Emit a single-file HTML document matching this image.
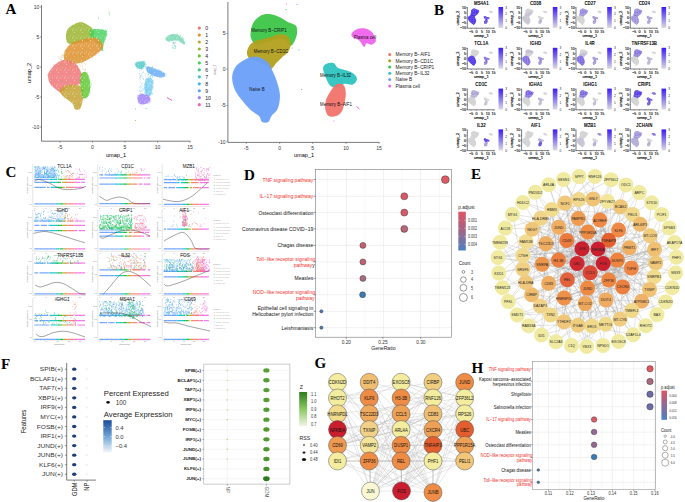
<!DOCTYPE html>
<html><head><meta charset="utf-8"><style>
html,body{margin:0;padding:0;background:#fff;width:685px;height:502px;overflow:hidden}
svg{display:block}

</style></head><body>
<svg width="685" height="502" viewBox="0 0 685 502">
<rect width="685" height="502" fill="#fff"/>
<text x="5.50" y="13.90" font-size="15" font-weight="bold" font-family="Liberation Serif" fill="#000">A</text>
<line x1="41.50" y1="5.00" x2="41.50" y2="141.20" stroke="#444" stroke-width="0.7"/>
<line x1="41.50" y1="141.20" x2="190.40" y2="141.20" stroke="#444" stroke-width="0.7"/>
<line x1="40.00" y1="7.00" x2="41.50" y2="7.00" stroke="#444" stroke-width="0.5"/>
<text x="39.20" y="8.80" font-size="5" text-anchor="end" fill="#333" font-family="Liberation Sans">10</text>
<line x1="40.00" y1="37.00" x2="41.50" y2="37.00" stroke="#444" stroke-width="0.5"/>
<text x="39.20" y="38.80" font-size="5" text-anchor="end" fill="#333" font-family="Liberation Sans">5</text>
<line x1="40.00" y1="67.00" x2="41.50" y2="67.00" stroke="#444" stroke-width="0.5"/>
<text x="39.20" y="68.80" font-size="5" text-anchor="end" fill="#333" font-family="Liberation Sans">0</text>
<line x1="40.00" y1="97.00" x2="41.50" y2="97.00" stroke="#444" stroke-width="0.5"/>
<text x="39.20" y="98.80" font-size="5" text-anchor="end" fill="#333" font-family="Liberation Sans">-5</text>
<line x1="40.00" y1="127.00" x2="41.50" y2="127.00" stroke="#444" stroke-width="0.5"/>
<text x="39.20" y="128.80" font-size="5" text-anchor="end" fill="#333" font-family="Liberation Sans">-10</text>
<line x1="60.00" y1="141.20" x2="60.00" y2="142.70" stroke="#444" stroke-width="0.5"/>
<text x="60.00" y="149.10" font-size="5" text-anchor="middle" fill="#333" font-family="Liberation Sans">-5</text>
<line x1="92.50" y1="141.20" x2="92.50" y2="142.70" stroke="#444" stroke-width="0.5"/>
<text x="92.50" y="149.10" font-size="5" text-anchor="middle" fill="#333" font-family="Liberation Sans">0</text>
<line x1="125.00" y1="141.20" x2="125.00" y2="142.70" stroke="#444" stroke-width="0.5"/>
<text x="125.00" y="149.10" font-size="5" text-anchor="middle" fill="#333" font-family="Liberation Sans">5</text>
<line x1="157.50" y1="141.20" x2="157.50" y2="142.70" stroke="#444" stroke-width="0.5"/>
<text x="157.50" y="149.10" font-size="5" text-anchor="middle" fill="#333" font-family="Liberation Sans">10</text>
<line x1="190.00" y1="141.20" x2="190.00" y2="142.70" stroke="#444" stroke-width="0.5"/>
<text x="190.00" y="149.10" font-size="5" text-anchor="middle" fill="#333" font-family="Liberation Sans">15</text>
<text x="116.00" y="156.52" font-size="5.6" text-anchor="middle" fill="#000" font-family="Liberation Sans">umap_1</text>
<text x="28.80" y="75.02" font-size="5.6" text-anchor="middle" fill="#000" font-family="Liberation Sans" transform="rotate(-90 28.80 73.00)">umap_2</text>
<defs><pattern id="sp" width="8" height="8" patternUnits="userSpaceOnUse"><g fill="#fff" opacity="0.8"><circle cx="1.90" cy="4.35" r="0.32"/><circle cx="4.83" cy="5.01" r="0.26"/><circle cx="0.11" cy="6.70" r="0.30"/><circle cx="1.87" cy="7.97" r="0.34"/><circle cx="6.69" cy="3.81" r="0.38"/><circle cx="1.20" cy="5.08" r="0.42"/><circle cx="4.19" cy="5.93" r="0.38"/><circle cx="0.51" cy="6.07" r="0.37"/><circle cx="2.41" cy="0.25" r="0.42"/></g></pattern></defs>
<path d="M66.51,31.79C67.26,29.28 68.76,27.57 71.08,25.93C73.40,24.30 77.71,22.20 80.42,22.00C83.13,21.80 85.23,23.51 87.34,24.75C89.44,26.00 91.92,27.53 93.06,29.47C94.20,31.42 94.76,34.48 94.19,36.42C93.62,38.36 91.95,40.12 89.66,41.12C87.37,42.12 83.52,41.85 80.43,42.40C77.35,42.95 73.46,44.66 71.15,44.43C68.84,44.21 67.35,43.13 66.58,41.03C65.81,38.92 65.76,34.31 66.51,31.79Z" fill="#9AB530" opacity="0.85"/>
<path d="M93.2 30.4h.6M71.7 44.6h.6M67.1 41.9h.6M88.5 42.3h.6M66.5 35.9h.6M66.5 38.5h.6M95.0 33.2h.6M65.9 34.8h.6M72.4 25.3h.6M68.2 28.6h.6M84.9 42.6h.6M75.6 23.8h.6M77.6 43.5h.6" stroke="#9AB530" stroke-width="0.6" opacity="0.8"/>
<path d="M89.67,30.35C90.47,29.17 92.74,29.06 95.45,29.05C98.17,29.03 104.07,29.30 105.96,30.28C107.86,31.26 107.19,32.76 106.85,34.93C106.50,37.10 104.62,40.59 103.89,43.30C103.16,46.01 103.12,50.41 102.49,51.17C101.85,51.94 101.31,49.57 100.08,47.90C98.86,46.22 96.72,43.09 95.15,41.13C93.57,39.17 91.53,37.93 90.62,36.13C89.71,34.33 88.86,31.53 89.67,30.35Z" fill="#45D05A" opacity="0.8"/>
<path d="M105.4 39.6h.6M105.3 29.9h.6M93.4 41.0h.6M102.2 29.5h.6M104.5 44.2h.6M89.5 30.0h.6M106.9 29.3h.6M94.9 41.7h.6M101.2 50.0h.6M103.2 50.5h.6M107.2 35.1h.6M105.3 42.2h.6" stroke="#45D05A" stroke-width="0.6" opacity="0.8"/>
<path d="M64.30,52.72C65.23,50.28 67.24,46.74 69.91,44.62C72.58,42.50 75.94,41.11 80.32,40.00C84.70,38.90 92.43,37.21 96.20,38.01C99.97,38.80 102.21,42.70 102.96,44.77C103.71,46.84 102.54,48.34 100.70,50.43C98.86,52.52 94.95,55.35 91.93,57.31C88.91,59.27 85.27,61.15 82.56,62.20C79.85,63.25 77.85,63.49 75.67,63.62C73.49,63.74 71.36,63.69 69.47,62.96C67.59,62.23 65.21,60.97 64.35,59.26C63.49,57.55 63.37,55.16 64.30,52.72Z" fill="#E0922F" opacity="0.85"/>
<path d="M72.4 43.6h.6M72.9 42.3h.6M73.6 42.2h.6M68.0 63.0h.6M68.8 46.3h.6M92.5 58.0h.6M64.6 51.1h.6M64.1 59.4h.6M94.8 55.4h.6M88.7 38.4h.6M92.5 57.6h.6" stroke="#E0922F" stroke-width="0.6" opacity="0.8"/>
<path d="M47.90,75.70C48.08,73.21 49.73,70.93 51.27,68.80C52.80,66.67 55.00,64.37 57.11,62.92C59.22,61.47 61.56,60.40 63.92,60.10C66.27,59.81 69.15,60.41 71.24,61.14C73.34,61.88 75.03,63.03 76.48,64.49C77.93,65.96 78.99,68.07 79.95,69.93C80.90,71.80 82.02,73.59 82.20,75.70C82.38,77.81 82.18,80.87 81.04,82.59C79.90,84.31 77.67,85.23 75.38,86.01C73.09,86.80 69.60,86.17 67.29,87.29C64.98,88.42 63.43,92.43 61.53,92.78C59.63,93.12 57.78,90.88 55.89,89.37C54.00,87.86 51.51,86.00 50.18,83.72C48.85,81.44 47.72,78.18 47.90,75.70Z" fill="#EE7676" opacity="0.85"/>
<path d="M53.9 64.4h.6M79.9 84.2h.6M53.7 66.1h.6M47.3 74.6h.6M48.4 73.0h.6M63.8 91.8h.6M50.0 82.9h.6M82.5 79.7h.6M49.8 69.1h.6M47.4 75.3h.6M60.2 61.3h.6M61.3 92.6h.6M53.5 65.0h.6M68.6 87.6h.6" stroke="#EE7676" stroke-width="0.6" opacity="0.8"/>
<path d="M59.96,90.71C60.38,89.16 62.25,87.03 64.57,86.05C66.88,85.06 70.95,84.61 73.86,84.80C76.76,84.99 80.43,85.44 81.98,87.19C83.54,88.95 83.18,92.59 83.19,95.31C83.21,98.03 82.65,101.22 82.06,103.52C81.47,105.82 80.81,108.17 79.63,109.12C78.46,110.06 76.18,110.08 75.02,109.19C73.86,108.30 74.09,105.51 72.68,103.80C71.27,102.09 68.30,100.35 66.54,98.93C64.78,97.52 63.20,96.68 62.11,95.31C61.01,93.94 59.55,92.25 59.96,90.71Z" fill="#C4A232" opacity="0.85"/>
<path d="M64.0 98.1h.6M70.7 103.2h.6M60.7 92.8h.6M60.9 89.3h.6M82.8 98.0h.6M82.5 91.3h.6M82.9 88.4h.6M75.2 84.5h.6M79.0 110.0h.6M67.5 84.8h.6M82.8 100.0h.6M82.3 86.2h.6M83.6 100.9h.6M83.1 92.0h.6" stroke="#C4A232" stroke-width="0.6" opacity="0.8"/>
<path d="M81.29,73.93C82.03,72.23 83.54,71.52 84.69,71.70C85.85,71.88 87.29,72.94 88.22,75.04C89.16,77.14 90.09,81.17 90.29,84.30C90.49,87.44 90.16,91.49 89.42,93.82C88.68,96.15 87.03,97.74 85.85,98.30C84.68,98.86 83.16,98.68 82.36,97.19C81.56,95.69 81.39,91.87 81.03,89.32C80.68,86.78 80.18,84.47 80.22,81.91C80.26,79.34 80.54,75.63 81.29,73.93Z" fill="#62C834" opacity="0.85"/>
<path d="M80.1 85.8h.6M88.4 94.9h.6M80.7 74.6h.6M91.1 84.6h.6M79.3 80.5h.6M90.0 93.6h.6M80.2 86.2h.6M89.6 78.7h.6M80.6 85.0h.6M91.3 83.6h.6M86.9 72.3h.6M89.8 81.6h.6M90.2 83.0h.6M90.0 91.2h.6M90.1 87.5h.6M80.9 76.8h.6M90.7 86.0h.6M81.5 94.5h.6M86.6 72.8h.6M79.4 80.6h.6" stroke="#62C834" stroke-width="0.6" opacity="0.8"/>
<path d="M165.60,39.50C165.52,38.54 167.11,36.71 168.14,35.83C169.17,34.94 170.26,34.38 171.76,34.18C173.25,33.98 175.51,34.09 177.11,34.62C178.71,35.15 180.08,36.11 181.38,37.36C182.67,38.61 184.39,40.89 184.88,42.11C185.38,43.34 184.93,44.61 184.34,44.71C183.75,44.81 182.52,43.36 181.35,42.70C180.17,42.04 178.76,41.10 177.31,40.75C175.86,40.41 174.08,40.50 172.63,40.64C171.18,40.79 169.79,41.81 168.62,41.62C167.45,41.43 165.68,40.47 165.60,39.50Z" fill="#3FC793" opacity="0.6"/>
<path d="M182.4 37.2h.6M176.8 34.1h.6M180.5 35.6h.6M165.5 38.4h.6M165.5 38.0h.6M166.6 35.8h.6M183.1 39.1h.6M177.1 34.4h.6M183.2 38.6h.6M180.2 35.2h.6" stroke="#3FC793" stroke-width="0.6" opacity="0.8"/>
<path d="M146.66,66.79C147.52,66.07 150.49,66.99 152.77,67.67C155.06,68.35 158.35,69.88 160.37,70.86C162.39,71.84 164.23,72.58 164.90,73.55C165.56,74.52 165.30,76.05 164.36,76.68C163.41,77.31 161.16,77.57 159.22,77.33C157.27,77.10 154.63,76.15 152.69,75.25C150.75,74.36 148.61,73.39 147.60,71.98C146.60,70.57 145.80,67.51 146.66,66.79Z" fill="#56A2F8" opacity="0.75"/>
<path d="M154.4 76.1h.6M146.4 68.2h.6M165.3 76.6h.6M160.6 70.7h.6M161.0 77.5h.6M165.9 75.3h.6M148.6 72.8h.6M166.2 73.7h.6M150.9 74.8h.6M153.6 76.1h.6M146.0 70.3h.6M151.0 75.5h.6M164.8 73.3h.6M159.5 69.9h.6M145.6 66.9h.6M159.5 77.6h.6M146.1 69.9h.6M160.9 78.0h.6M155.4 68.6h.6M152.5 66.8h.6M158.2 69.1h.6" stroke="#56A2F8" stroke-width="0.6" opacity="0.8"/>
<path d="M145.87,79.62C146.77,78.42 148.92,77.26 150.07,77.61C151.21,77.95 152.37,79.58 152.74,81.68C153.12,83.79 152.76,87.96 152.32,90.24C151.87,92.53 150.98,94.37 150.08,95.39C149.18,96.42 147.82,96.91 146.94,96.39C146.05,95.88 145.14,94.26 144.77,92.32C144.39,90.39 144.48,86.90 144.67,84.78C144.85,82.66 144.97,80.82 145.87,79.62Z" fill="#3FB8E9" opacity="0.55"/>
<path d="M146.1 95.3h.6M150.8 78.5h.6M150.7 95.9h.6M145.5 95.4h.6M153.1 82.5h.6M153.1 83.1h.6M147.4 97.3h.6M146.3 78.1h.6M145.8 95.6h.6M151.1 93.9h.6M145.6 79.6h.6M152.7 88.2h.6M153.1 80.5h.6M152.8 82.9h.6M146.8 78.7h.6M152.3 80.0h.6M144.3 87.9h.6M144.0 84.4h.6M144.6 92.5h.6M150.7 77.0h.6M148.7 96.4h.6" stroke="#3FB8E9" stroke-width="0.6" opacity="0.8"/>
<path d="M135.11,63.42C135.37,62.49 136.90,62.06 138.25,61.68C139.61,61.31 142.07,60.99 143.25,61.19C144.44,61.39 145.19,61.95 145.38,62.87C145.56,63.79 145.16,65.69 144.35,66.69C143.54,67.70 141.78,68.81 140.50,68.90C139.22,68.99 137.57,68.14 136.67,67.23C135.77,66.31 134.85,64.34 135.11,63.42Z" fill="#40C4C4" opacity="0.75"/>
<path d="M140.7 70.0h.6M143.2 68.3h.6M136.8 61.8h.6M145.4 64.6h.6M136.2 68.1h.6M137.6 68.8h.6M134.7 65.0h.6M135.5 65.8h.6M136.0 62.1h.6M146.1 64.7h.6M142.3 68.4h.6M142.8 60.7h.6M144.1 61.1h.6M142.6 68.7h.6M134.3 62.8h.6M142.4 69.1h.6M141.3 69.0h.6M145.2 61.8h.6" stroke="#40C4C4" stroke-width="0.6" opacity="0.8"/>
<path d="M137.64,96.33C138.08,95.08 139.37,94.44 140.80,94.15C142.22,93.87 144.67,94.11 146.19,94.65C147.70,95.19 149.27,96.31 149.88,97.39C150.50,98.47 150.50,100.04 149.88,101.12C149.27,102.20 147.61,103.31 146.19,103.85C144.76,104.39 142.67,104.73 141.33,104.36C139.99,104.00 138.75,103.00 138.13,101.66C137.52,100.32 137.19,97.58 137.64,96.33Z" fill="#A083F8" opacity="0.85"/>
<path d="M140.6 105.4h.6M149.5 102.6h.6M147.2 103.4h.6M150.4 101.3h.6M140.2 104.8h.6M149.1 102.6h.6M137.2 98.3h.6M142.3 93.9h.6M148.1 95.5h.6M138.9 102.7h.6M148.5 95.6h.6M139.7 93.5h.6M137.4 95.1h.6M138.0 102.9h.6M149.4 101.8h.6M149.6 95.8h.6M147.4 94.1h.6M148.5 103.3h.6M150.5 98.9h.6M141.1 93.8h.6M140.2 93.3h.6M151.1 101.0h.6" stroke="#A083F8" stroke-width="0.6" opacity="0.8"/>
<path d="M66.51,31.79C67.26,29.28 68.76,27.57 71.08,25.93C73.40,24.30 77.71,22.20 80.42,22.00C83.13,21.80 85.23,23.51 87.34,24.75C89.44,26.00 91.92,27.53 93.06,29.47C94.20,31.42 94.76,34.48 94.19,36.42C93.62,38.36 91.95,40.12 89.66,41.12C87.37,42.12 83.52,41.85 80.43,42.40C77.35,42.95 73.46,44.66 71.15,44.43C68.84,44.21 67.35,43.13 66.58,41.03C65.81,38.92 65.76,34.31 66.51,31.79Z" fill="url(#sp)"/>
<path d="M89.67,30.35C90.47,29.17 92.74,29.06 95.45,29.05C98.17,29.03 104.07,29.30 105.96,30.28C107.86,31.26 107.19,32.76 106.85,34.93C106.50,37.10 104.62,40.59 103.89,43.30C103.16,46.01 103.12,50.41 102.49,51.17C101.85,51.94 101.31,49.57 100.08,47.90C98.86,46.22 96.72,43.09 95.15,41.13C93.57,39.17 91.53,37.93 90.62,36.13C89.71,34.33 88.86,31.53 89.67,30.35Z" fill="url(#sp)"/>
<path d="M64.30,52.72C65.23,50.28 67.24,46.74 69.91,44.62C72.58,42.50 75.94,41.11 80.32,40.00C84.70,38.90 92.43,37.21 96.20,38.01C99.97,38.80 102.21,42.70 102.96,44.77C103.71,46.84 102.54,48.34 100.70,50.43C98.86,52.52 94.95,55.35 91.93,57.31C88.91,59.27 85.27,61.15 82.56,62.20C79.85,63.25 77.85,63.49 75.67,63.62C73.49,63.74 71.36,63.69 69.47,62.96C67.59,62.23 65.21,60.97 64.35,59.26C63.49,57.55 63.37,55.16 64.30,52.72Z" fill="url(#sp)"/>
<path d="M47.90,75.70C48.08,73.21 49.73,70.93 51.27,68.80C52.80,66.67 55.00,64.37 57.11,62.92C59.22,61.47 61.56,60.40 63.92,60.10C66.27,59.81 69.15,60.41 71.24,61.14C73.34,61.88 75.03,63.03 76.48,64.49C77.93,65.96 78.99,68.07 79.95,69.93C80.90,71.80 82.02,73.59 82.20,75.70C82.38,77.81 82.18,80.87 81.04,82.59C79.90,84.31 77.67,85.23 75.38,86.01C73.09,86.80 69.60,86.17 67.29,87.29C64.98,88.42 63.43,92.43 61.53,92.78C59.63,93.12 57.78,90.88 55.89,89.37C54.00,87.86 51.51,86.00 50.18,83.72C48.85,81.44 47.72,78.18 47.90,75.70Z" fill="url(#sp)"/>
<path d="M59.96,90.71C60.38,89.16 62.25,87.03 64.57,86.05C66.88,85.06 70.95,84.61 73.86,84.80C76.76,84.99 80.43,85.44 81.98,87.19C83.54,88.95 83.18,92.59 83.19,95.31C83.21,98.03 82.65,101.22 82.06,103.52C81.47,105.82 80.81,108.17 79.63,109.12C78.46,110.06 76.18,110.08 75.02,109.19C73.86,108.30 74.09,105.51 72.68,103.80C71.27,102.09 68.30,100.35 66.54,98.93C64.78,97.52 63.20,96.68 62.11,95.31C61.01,93.94 59.55,92.25 59.96,90.71Z" fill="url(#sp)"/>
<path d="M81.29,73.93C82.03,72.23 83.54,71.52 84.69,71.70C85.85,71.88 87.29,72.94 88.22,75.04C89.16,77.14 90.09,81.17 90.29,84.30C90.49,87.44 90.16,91.49 89.42,93.82C88.68,96.15 87.03,97.74 85.85,98.30C84.68,98.86 83.16,98.68 82.36,97.19C81.56,95.69 81.39,91.87 81.03,89.32C80.68,86.78 80.18,84.47 80.22,81.91C80.26,79.34 80.54,75.63 81.29,73.93Z" fill="url(#sp)"/>
<path d="M165.60,39.50C165.52,38.54 167.11,36.71 168.14,35.83C169.17,34.94 170.26,34.38 171.76,34.18C173.25,33.98 175.51,34.09 177.11,34.62C178.71,35.15 180.08,36.11 181.38,37.36C182.67,38.61 184.39,40.89 184.88,42.11C185.38,43.34 184.93,44.61 184.34,44.71C183.75,44.81 182.52,43.36 181.35,42.70C180.17,42.04 178.76,41.10 177.31,40.75C175.86,40.41 174.08,40.50 172.63,40.64C171.18,40.79 169.79,41.81 168.62,41.62C167.45,41.43 165.68,40.47 165.60,39.50Z" fill="url(#sp)"/>
<path d="M146.66,66.79C147.52,66.07 150.49,66.99 152.77,67.67C155.06,68.35 158.35,69.88 160.37,70.86C162.39,71.84 164.23,72.58 164.90,73.55C165.56,74.52 165.30,76.05 164.36,76.68C163.41,77.31 161.16,77.57 159.22,77.33C157.27,77.10 154.63,76.15 152.69,75.25C150.75,74.36 148.61,73.39 147.60,71.98C146.60,70.57 145.80,67.51 146.66,66.79Z" fill="url(#sp)"/>
<path d="M145.87,79.62C146.77,78.42 148.92,77.26 150.07,77.61C151.21,77.95 152.37,79.58 152.74,81.68C153.12,83.79 152.76,87.96 152.32,90.24C151.87,92.53 150.98,94.37 150.08,95.39C149.18,96.42 147.82,96.91 146.94,96.39C146.05,95.88 145.14,94.26 144.77,92.32C144.39,90.39 144.48,86.90 144.67,84.78C144.85,82.66 144.97,80.82 145.87,79.62Z" fill="url(#sp)"/>
<path d="M135.11,63.42C135.37,62.49 136.90,62.06 138.25,61.68C139.61,61.31 142.07,60.99 143.25,61.19C144.44,61.39 145.19,61.95 145.38,62.87C145.56,63.79 145.16,65.69 144.35,66.69C143.54,67.70 141.78,68.81 140.50,68.90C139.22,68.99 137.57,68.14 136.67,67.23C135.77,66.31 134.85,64.34 135.11,63.42Z" fill="url(#sp)"/>
<path d="M137.64,96.33C138.08,95.08 139.37,94.44 140.80,94.15C142.22,93.87 144.67,94.11 146.19,94.65C147.70,95.19 149.27,96.31 149.88,97.39C150.50,98.47 150.50,100.04 149.88,101.12C149.27,102.20 147.61,103.31 146.19,103.85C144.76,104.39 142.67,104.73 141.33,104.36C139.99,104.00 138.75,103.00 138.13,101.66C137.52,100.32 137.19,97.58 137.64,96.33Z" fill="url(#sp)"/>
<line x1="167.00" y1="97.50" x2="172.00" y2="100.50" stroke="#F062BE" stroke-width="1.0"/>
<path d="M70.5 60.0h.6M81.4 54.1h.6M82.3 55.3h.6M74.6 54.7h.6M62.2 57.8h.6M71.7 68.8h.6M60.7 58.7h.6M77.6 60.7h.6M65.2 57.4h.6M81.7 54.9h.6M71.3 54.4h.6M82.5 55.8h.6M63.5 54.1h.6M72.6 54.3h.6M71.4 68.7h.6M68.7 64.2h.6M73.7 56.8h.6M83.9 54.9h.6M74.4 56.4h.6M84.9 70.0h.6M77.0 69.2h.6M74.5 54.7h.6M73.8 61.2h.6M84.6 63.2h.6M79.6 59.3h.6M63.8 61.1h.6M60.4 64.1h.6M64.7 65.8h.6M64.2 69.4h.6M68.1 67.8h.6M74.4 54.2h.6M63.6 60.2h.6M84.1 59.7h.6M73.2 56.2h.6M73.0 65.1h.6M68.3 68.2h.6M71.3 55.6h.6M72.3 56.8h.6M60.3 66.5h.6M58.4 56.8h.6M73.1 60.2h.6M71.0 69.1h.6M82.0 62.7h.6M72.5 68.6h.6M75.4 62.7h.6M77.6 65.5h.6M76.9 61.3h.6M75.2 54.8h.6M68.1 68.1h.6M80.2 65.7h.6M81.6 54.6h.6M74.6 64.8h.6M59.9 57.0h.6M62.9 55.0h.6M70.7 62.6h.6M58.2 69.3h.6M60.9 59.6h.6M79.1 57.1h.6M70.6 62.4h.6M75.1 57.8h.6M72.0 57.2h.6M83.5 54.4h.6M79.6 54.9h.6M81.0 63.7h.6M59.6 58.4h.6M82.8 69.5h.6M66.6 58.0h.6M68.8 57.3h.6M70.5 63.8h.6M69.9 57.0h.6M66.8 56.7h.6M63.1 65.4h.6M61.7 64.0h.6M81.9 65.7h.6M72.6 59.4h.6M66.7 67.3h.6M60.7 65.5h.6M72.4 55.1h.6M82.9 54.7h.6M84.9 64.4h.6M82.0 62.1h.6M76.6 59.7h.6M66.7 60.2h.6M74.5 67.9h.6M58.3 64.9h.6M70.9 67.9h.6M82.5 66.1h.6M61.9 61.2h.6M67.4 63.6h.6M83.1 54.4h.6M79.0 64.7h.6M61.6 57.4h.6M82.4 57.5h.6" stroke="#E0922F" stroke-width="0.6" opacity="0.8"/>
<path d="M77.0 61.2h.6M78.9 60.1h.6M79.9 57.2h.6M61.3 63.3h.6M76.2 63.4h.6M60.3 59.6h.6M79.2 54.4h.6M79.8 62.0h.6M76.0 56.7h.6M65.0 54.8h.6M62.7 69.1h.6M70.2 65.3h.6M77.3 66.3h.6M83.4 54.5h.6M78.9 59.3h.6M84.4 69.8h.6M61.0 55.9h.6M84.4 60.0h.6M79.6 69.6h.6M82.3 68.9h.6M71.3 59.6h.6M70.1 63.7h.6M72.9 61.5h.6M62.4 55.5h.6M64.3 59.3h.6M76.5 60.8h.6M85.0 69.0h.6" stroke="#62C834" stroke-width="0.6" opacity="0.8"/>
<path d="M145.9 66.8h.6M152.6 70.6h.6M152.6 70.2h.6M147.1 71.0h.6M150.7 73.5h.6M140.8 73.9h.6M152.5 66.3h.6M141.4 69.3h.6M147.0 71.0h.6M147.9 67.8h.6M139.2 70.9h.6M141.9 65.5h.6M145.5 68.7h.6M143.3 71.8h.6M141.9 66.4h.6M142.1 72.8h.6M145.3 67.0h.6M152.3 70.5h.6M152.7 70.1h.6M139.4 73.8h.6M139.1 68.6h.6M147.1 71.0h.6M151.5 70.9h.6M139.2 73.5h.6M148.8 67.4h.6M149.7 70.1h.6M145.3 66.3h.6M151.1 73.6h.6M145.7 73.7h.6M141.2 67.6h.6M151.7 67.9h.6M142.8 72.4h.6M148.7 72.6h.6M141.6 65.6h.6M147.4 69.0h.6M152.0 67.5h.6M147.8 72.7h.6M147.2 69.7h.6" stroke="#40C4C4" stroke-width="0.6" opacity="0.8"/>
<path d="M150.3 77.0h.6M145.5 84.0h.6M152.5 81.7h.6M151.9 93.9h.6M140.2 75.6h.6M151.4 88.0h.6M146.4 93.0h.6M146.6 85.1h.6M139.8 90.6h.6M139.5 77.2h.6M149.9 78.6h.6M148.3 80.7h.6M147.1 90.3h.6M150.1 92.7h.6M141.1 76.4h.6M152.4 76.9h.6M143.0 79.5h.6M141.5 90.4h.6M152.5 80.6h.6M142.6 83.4h.6M152.3 75.4h.6M139.8 80.9h.6M143.4 90.5h.6M141.5 84.1h.6M152.1 76.1h.6M147.9 74.7h.6M151.8 81.6h.6M139.4 87.3h.6M139.3 90.2h.6M148.9 75.7h.6M146.8 86.2h.6M140.1 86.2h.6M148.9 93.3h.6M139.8 82.2h.6M146.1 90.4h.6M144.1 84.9h.6M151.6 75.5h.6M146.2 91.8h.6M139.5 94.2h.6M143.4 78.7h.6M143.0 88.9h.6M146.5 87.4h.6M140.5 91.4h.6M150.5 85.4h.6M152.4 77.2h.6M148.1 89.0h.6M148.0 77.7h.6M139.3 78.1h.6M144.5 93.3h.6M152.6 93.7h.6M147.6 76.4h.6M142.8 94.1h.6M141.6 91.5h.6M146.4 84.9h.6M141.0 87.3h.6M145.6 84.6h.6M145.6 87.6h.6M148.0 74.4h.6M148.5 88.2h.6M145.5 82.7h.6M147.9 79.3h.6M140.2 77.2h.6M149.9 86.7h.6M140.0 79.3h.6M147.2 81.0h.6M141.1 84.4h.6M148.8 81.1h.6M152.2 82.3h.6M152.5 86.0h.6M139.1 91.2h.6M146.2 78.3h.6M146.3 88.0h.6M144.2 88.2h.6M141.3 94.4h.6M148.7 74.6h.6M145.7 91.4h.6M143.6 86.0h.6M151.7 93.8h.6M142.6 88.8h.6M147.5 89.3h.6M140.0 77.4h.6M145.3 89.4h.6M141.9 89.9h.6M151.4 82.2h.6M140.1 88.2h.6M139.7 87.0h.6M149.6 89.5h.6M142.5 76.2h.6M142.1 86.2h.6M152.6 87.3h.6M145.9 81.1h.6M144.7 86.4h.6M152.8 86.8h.6M146.0 83.0h.6M150.3 76.6h.6M146.6 89.4h.6M140.9 75.1h.6M150.3 75.7h.6M140.2 75.9h.6M145.5 76.0h.6M142.1 78.4h.6M151.5 93.1h.6" stroke="#3FB8E9" stroke-width="0.6" opacity="0.8"/>
<path d="M172.3 47.6h.6M173.1 43.1h.6M175.3 42.9h.6M172.9 43.1h.6M175.6 46.8h.6M172.7 42.5h.6M175.6 42.9h.6M174.9 46.8h.6M174.4 45.4h.6M173.7 44.0h.6M174.6 43.1h.6M173.9 43.8h.6M173.5 48.2h.6M174.3 46.5h.6M174.6 42.0h.6M175.1 48.1h.6M175.0 45.7h.6M175.4 48.6h.6M173.1 43.1h.6M173.4 42.1h.6M172.9 42.6h.6M172.0 44.8h.6M172.0 45.4h.6M175.4 47.0h.6M172.2 47.1h.6M172.8 47.6h.6M174.6 45.8h.6M173.7 48.9h.6M172.8 48.3h.6M172.8 42.7h.6" stroke="#3FC793" stroke-width="0.6" opacity="0.8"/>
<circle cx="98.50" cy="18.00" r="0.50" fill="#45D05A"/>
<circle cx="109.00" cy="12.00" r="0.50" fill="#45D05A"/>
<circle cx="109.50" cy="14.00" r="0.50" fill="#45D05A"/>
<circle cx="146.00" cy="108.50" r="0.50" fill="#3FC793"/>
<circle cx="135.50" cy="120.50" r="0.50" fill="#C4A232"/>
<circle cx="135.50" cy="109.00" r="0.50" fill="#3FB8E9"/>
<circle cx="150.00" cy="94.50" r="0.50" fill="#3FB8E9"/>
<circle cx="199.30" cy="28.10" r="1.60" fill="#EE7676"/>
<text x="205.20" y="29.97" font-size="5.2" text-anchor="start" fill="#222" font-family="Liberation Sans">0</text>
<circle cx="199.30" cy="35.06" r="1.60" fill="#E0922F"/>
<text x="205.20" y="36.93" font-size="5.2" text-anchor="start" fill="#222" font-family="Liberation Sans">1</text>
<circle cx="199.30" cy="42.02" r="1.60" fill="#C4A232"/>
<text x="205.20" y="43.89" font-size="5.2" text-anchor="start" fill="#222" font-family="Liberation Sans">2</text>
<circle cx="199.30" cy="48.98" r="1.60" fill="#9AB530"/>
<text x="205.20" y="50.85" font-size="5.2" text-anchor="start" fill="#222" font-family="Liberation Sans">3</text>
<circle cx="199.30" cy="55.94" r="1.60" fill="#62C834"/>
<text x="205.20" y="57.81" font-size="5.2" text-anchor="start" fill="#222" font-family="Liberation Sans">4</text>
<circle cx="199.30" cy="62.90" r="1.60" fill="#45D05A"/>
<text x="205.20" y="64.77" font-size="5.2" text-anchor="start" fill="#222" font-family="Liberation Sans">5</text>
<circle cx="199.30" cy="69.86" r="1.60" fill="#3FC793"/>
<text x="205.20" y="71.73" font-size="5.2" text-anchor="start" fill="#222" font-family="Liberation Sans">6</text>
<circle cx="199.30" cy="76.82" r="1.60" fill="#40C4C4"/>
<text x="205.20" y="78.69" font-size="5.2" text-anchor="start" fill="#222" font-family="Liberation Sans">7</text>
<circle cx="199.30" cy="83.78" r="1.60" fill="#3FB8E9"/>
<text x="205.20" y="85.65" font-size="5.2" text-anchor="start" fill="#222" font-family="Liberation Sans">8</text>
<circle cx="199.30" cy="90.74" r="1.60" fill="#56A2F8"/>
<text x="205.20" y="92.61" font-size="5.2" text-anchor="start" fill="#222" font-family="Liberation Sans">9</text>
<circle cx="199.30" cy="97.70" r="1.60" fill="#A083F8"/>
<text x="205.20" y="99.57" font-size="5.2" text-anchor="start" fill="#222" font-family="Liberation Sans">10</text>
<circle cx="199.30" cy="104.66" r="1.60" fill="#F062BE"/>
<text x="205.20" y="106.53" font-size="5.2" text-anchor="start" fill="#222" font-family="Liberation Sans">11</text>
<line x1="227.90" y1="2.00" x2="227.90" y2="142.40" stroke="#444" stroke-width="0.7"/>
<line x1="227.90" y1="142.40" x2="379.50" y2="142.40" stroke="#444" stroke-width="0.7"/>
<line x1="226.40" y1="33.50" x2="227.90" y2="33.50" stroke="#444" stroke-width="0.5"/>
<text x="225.60" y="35.30" font-size="5" text-anchor="end" fill="#333" font-family="Liberation Sans">5</text>
<line x1="226.40" y1="69.00" x2="227.90" y2="69.00" stroke="#444" stroke-width="0.5"/>
<text x="225.60" y="70.80" font-size="5" text-anchor="end" fill="#333" font-family="Liberation Sans">0</text>
<line x1="226.40" y1="105.50" x2="227.90" y2="105.50" stroke="#444" stroke-width="0.5"/>
<text x="225.60" y="107.30" font-size="5" text-anchor="end" fill="#333" font-family="Liberation Sans">-5</text>
<line x1="226.40" y1="141.70" x2="227.90" y2="141.70" stroke="#444" stroke-width="0.5"/>
<text x="225.60" y="143.50" font-size="5" text-anchor="end" fill="#333" font-family="Liberation Sans">-10</text>
<line x1="246.30" y1="142.40" x2="246.30" y2="143.90" stroke="#444" stroke-width="0.5"/>
<text x="246.30" y="150.00" font-size="5" text-anchor="middle" fill="#333" font-family="Liberation Sans">-5</text>
<line x1="279.70" y1="142.40" x2="279.70" y2="143.90" stroke="#444" stroke-width="0.5"/>
<text x="279.70" y="150.00" font-size="5" text-anchor="middle" fill="#333" font-family="Liberation Sans">0</text>
<line x1="312.70" y1="142.40" x2="312.70" y2="143.90" stroke="#444" stroke-width="0.5"/>
<text x="312.70" y="150.00" font-size="5" text-anchor="middle" fill="#333" font-family="Liberation Sans">5</text>
<line x1="346.10" y1="142.40" x2="346.10" y2="143.90" stroke="#444" stroke-width="0.5"/>
<text x="346.10" y="150.00" font-size="5" text-anchor="middle" fill="#333" font-family="Liberation Sans">10</text>
<line x1="379.10" y1="142.40" x2="379.10" y2="143.90" stroke="#444" stroke-width="0.5"/>
<text x="379.10" y="150.00" font-size="5" text-anchor="middle" fill="#333" font-family="Liberation Sans">15</text>
<text x="304.00" y="156.62" font-size="5.6" text-anchor="middle" fill="#000" font-family="Liberation Sans">umap_1</text>
<text x="215.20" y="71.01" font-size="2.8" text-anchor="middle" fill="#888" font-family="Liberation Sans" transform="rotate(-90 215.20 70.00)">umap_2</text>
<path d="M251.00,29.94C251.51,27.16 252.37,24.03 254.09,21.57C255.82,19.12 258.76,16.49 261.36,15.23C263.96,13.98 266.73,13.74 269.72,14.04C272.71,14.34 276.12,15.64 279.31,17.05C282.49,18.45 286.07,21.02 288.85,22.47C291.63,23.92 294.61,23.98 295.97,25.75C297.33,27.52 297.17,30.64 297.00,33.08C296.82,35.53 295.95,38.31 294.91,40.41C293.87,42.51 292.27,45.63 290.74,45.67C289.22,45.71 287.81,41.78 285.76,40.65C283.71,39.52 281.49,38.70 278.44,38.90C275.38,39.10 271.14,40.88 267.43,41.82C263.72,42.77 258.92,45.17 256.19,44.58C253.46,43.99 251.91,40.72 251.04,38.28C250.18,35.84 250.49,32.73 251.00,29.94Z" fill="#3DC648" opacity="0.95"/>
<path d="M247.00,52.04C247.17,49.77 248.34,46.64 250.05,44.68C251.76,42.73 254.28,41.45 257.25,40.33C260.23,39.22 264.18,39.04 267.89,38.01C271.60,36.97 276.20,34.42 279.52,34.14C282.83,33.87 285.88,34.79 287.78,36.38C289.69,37.97 290.91,41.06 290.95,43.68C290.98,46.29 289.51,49.76 288.00,52.05C286.49,54.35 283.80,55.65 281.89,57.45C279.98,59.25 278.32,60.93 276.52,62.85C274.72,64.78 272.90,68.64 271.10,68.99C269.31,69.35 268.06,66.19 265.75,64.97C263.45,63.75 260.03,62.77 257.25,61.66C254.47,60.56 250.77,59.94 249.06,58.34C247.35,56.74 246.84,54.32 247.00,52.04Z" fill="#B3A01E" opacity="0.95"/>
<path d="M232.09,77.59C232.13,73.80 233.54,70.05 235.28,67.31C237.02,64.56 239.76,62.84 242.52,61.12C245.27,59.41 248.71,57.54 251.81,57.02C254.91,56.50 258.34,57.00 261.10,58.00C263.86,59.01 266.44,60.87 268.37,63.07C270.29,65.27 271.20,68.13 272.63,71.22C274.06,74.32 275.70,77.62 276.93,81.63C278.15,85.63 279.83,90.75 279.96,95.27C280.09,99.78 279.13,105.27 277.71,108.70C276.29,112.14 273.02,113.69 271.45,115.89C269.88,118.10 269.85,120.94 268.30,121.95C266.74,122.97 263.67,122.98 262.12,121.99C260.58,121.00 260.95,118.01 259.04,116.00C257.13,113.99 253.47,112.51 250.66,109.94C247.86,107.37 244.80,103.90 242.19,100.58C239.58,97.26 236.68,93.87 235.00,90.03C233.32,86.20 232.04,81.38 232.09,77.59Z" fill="#6A9FFA" opacity="0.95"/>
<path d="M323.11,67.54C323.49,66.03 324.53,64.55 326.29,63.80C328.04,63.05 331.71,62.36 333.66,63.06C335.61,63.76 335.79,66.76 337.99,68.00C340.19,69.24 344.21,69.53 346.88,70.52C349.54,71.50 352.31,72.46 354.00,73.91C355.68,75.36 357.17,77.43 356.98,79.20C356.79,80.97 354.91,83.76 352.85,84.53C350.79,85.29 347.09,83.21 344.61,83.79C342.14,84.37 340.36,87.66 337.99,88.00C335.63,88.34 332.40,87.43 330.41,85.81C328.41,84.18 327.09,80.40 326.03,78.23C324.96,76.07 324.50,74.61 324.02,72.82C323.53,71.04 322.74,69.04 323.11,67.54Z" fill="#2EC4C0" opacity="0.95"/>
<path d="M332.79,88.02C334.08,86.48 335.32,84.49 337.10,84.01C338.88,83.52 342.01,83.54 343.47,85.12C344.93,86.69 345.78,90.05 345.84,93.46C345.90,96.86 344.57,102.47 343.84,105.54C343.11,108.61 342.76,110.15 341.46,111.89C340.16,113.63 338.18,115.33 336.04,116.00C333.89,116.67 330.40,117.14 328.60,115.92C326.80,114.69 325.66,111.29 325.23,108.64C324.80,105.98 325.32,102.54 326.00,99.98C326.69,97.41 328.21,95.24 329.34,93.25C330.47,91.26 331.49,89.56 332.79,88.02Z" fill="#F2726C" opacity="0.95"/>
<path d="M351.55,33.69C352.19,32.31 354.60,30.08 356.87,29.22C359.14,28.36 362.68,28.06 365.17,28.51C367.66,28.97 370.02,29.98 371.82,31.93C373.62,33.88 375.99,38.09 375.98,40.21C375.97,42.33 373.35,44.12 371.76,44.65C370.17,45.19 367.72,43.01 366.44,43.40C365.16,43.79 365.26,47.47 364.05,47.00C362.84,46.52 361.01,42.14 359.17,40.55C357.33,38.97 354.27,38.63 353.00,37.49C351.73,36.35 350.90,35.07 351.55,33.69Z" fill="#F064EC" opacity="0.95"/>
<line x1="356.50" y1="106.50" x2="359.50" y2="109.00" stroke="#F064EC" stroke-width="1.0"/>
<circle cx="286.50" cy="4.00" r="0.60" fill="#F2726C"/>
<circle cx="297.00" cy="4.50" r="0.60" fill="#6A9FFA"/>
<circle cx="286.00" cy="9.50" r="0.60" fill="#3DC648"/>
<circle cx="301.50" cy="89.50" r="0.60" fill="#6A9FFA"/>
<circle cx="334.00" cy="121.00" r="0.60" fill="#F064EC"/>
<circle cx="299.00" cy="50.00" r="0.60" fill="#6A9FFA"/>
<circle cx="292.00" cy="48.00" r="0.60" fill="#6A9FFA"/>
<text transform="translate(269.00 31.90) scale(1 1.2)" font-size="4.4" text-anchor="middle" fill="#111" font-family="Liberation Sans">Memory B−CRIP1</text>
<text transform="translate(271.00 52.90) scale(1 1.2)" font-size="4.4" text-anchor="middle" fill="#111" font-family="Liberation Sans">Memory B−CD1C</text>
<text transform="translate(257.00 90.90) scale(1 1.2)" font-size="4.4" text-anchor="middle" fill="#111" font-family="Liberation Sans">Naive B</text>
<text transform="translate(335.50 76.90) scale(1 1.2)" font-size="4.4" text-anchor="middle" fill="#111" font-family="Liberation Sans">Memory B−IL32</text>
<text transform="translate(336.00 106.40) scale(1 1.2)" font-size="4.4" text-anchor="middle" fill="#111" font-family="Liberation Sans">Memory B−AIF1</text>
<text transform="translate(365.00 38.90) scale(1 1.2)" font-size="4.4" text-anchor="middle" fill="#111" font-family="Liberation Sans">Plasma cell</text>
<circle cx="389.70" cy="54.50" r="1.50" fill="#F2726C"/>
<text x="395.50" y="56.23" font-size="4.8" text-anchor="start" fill="#222" font-family="Liberation Sans">Memory B−AIF1</text>
<circle cx="389.70" cy="60.78" r="1.50" fill="#B3A01E"/>
<text x="395.50" y="62.51" font-size="4.8" text-anchor="start" fill="#222" font-family="Liberation Sans">Memory B−CD1C</text>
<circle cx="389.70" cy="67.06" r="1.50" fill="#3DC648"/>
<text x="395.50" y="68.79" font-size="4.8" text-anchor="start" fill="#222" font-family="Liberation Sans">Memory B−CRIP1</text>
<circle cx="389.70" cy="73.34" r="1.50" fill="#2EC4C0"/>
<text x="395.50" y="75.07" font-size="4.8" text-anchor="start" fill="#222" font-family="Liberation Sans">Memory B−IL32</text>
<circle cx="389.70" cy="79.62" r="1.50" fill="#6A9FFA"/>
<text x="395.50" y="81.35" font-size="4.8" text-anchor="start" fill="#222" font-family="Liberation Sans">Naive B</text>
<circle cx="389.70" cy="85.90" r="1.50" fill="#F064EC"/>
<text x="395.50" y="87.63" font-size="4.8" text-anchor="start" fill="#222" font-family="Liberation Sans">Plasma cell</text>
<text x="434.00" y="14.90" font-size="15" font-weight="bold" font-family="Liberation Serif" fill="#000">B</text>
<defs><linearGradient id="gB" x1="0" y1="0" x2="0" y2="1"><stop offset="0" stop-color="#3A1BF5"/><stop offset="1" stop-color="#DCDCE2"/></linearGradient><linearGradient id="gD" x1="0" y1="0" x2="0" y2="1"><stop offset="0" stop-color="#DF555F"/><stop offset="0.5" stop-color="#A0668A"/><stop offset="1" stop-color="#4A82C2"/></linearGradient></defs>
<defs><path id="rb2" d="M251.00,29.94C251.51,27.16 252.37,24.03 254.09,21.57C255.82,19.12 258.76,16.49 261.36,15.23C263.96,13.98 266.73,13.74 269.72,14.04C272.71,14.34 276.12,15.64 279.31,17.05C282.49,18.45 286.07,21.02 288.85,22.47C291.63,23.92 294.61,23.98 295.97,25.75C297.33,27.52 297.17,30.64 297.00,33.08C296.82,35.53 295.95,38.31 294.91,40.41C293.87,42.51 292.27,45.63 290.74,45.67C289.22,45.71 287.81,41.78 285.76,40.65C283.71,39.52 281.49,38.70 278.44,38.90C275.38,39.10 271.14,40.88 267.43,41.82C263.72,42.77 258.92,45.17 256.19,44.58C253.46,43.99 251.91,40.72 251.04,38.28C250.18,35.84 250.49,32.73 251.00,29.94Z"/><path id="rb1" d="M247.00,52.04C247.17,49.77 248.34,46.64 250.05,44.68C251.76,42.73 254.28,41.45 257.25,40.33C260.23,39.22 264.18,39.04 267.89,38.01C271.60,36.97 276.20,34.42 279.52,34.14C282.83,33.87 285.88,34.79 287.78,36.38C289.69,37.97 290.91,41.06 290.95,43.68C290.98,46.29 289.51,49.76 288.00,52.05C286.49,54.35 283.80,55.65 281.89,57.45C279.98,59.25 278.32,60.93 276.52,62.85C274.72,64.78 272.90,68.64 271.10,68.99C269.31,69.35 268.06,66.19 265.75,64.97C263.45,63.75 260.03,62.77 257.25,61.66C254.47,60.56 250.77,59.94 249.06,58.34C247.35,56.74 246.84,54.32 247.00,52.04Z"/><path id="rb4" d="M232.09,77.59C232.13,73.80 233.54,70.05 235.28,67.31C237.02,64.56 239.76,62.84 242.52,61.12C245.27,59.41 248.71,57.54 251.81,57.02C254.91,56.50 258.34,57.00 261.10,58.00C263.86,59.01 266.44,60.87 268.37,63.07C270.29,65.27 271.20,68.13 272.63,71.22C274.06,74.32 275.70,77.62 276.93,81.63C278.15,85.63 279.83,90.75 279.96,95.27C280.09,99.78 279.13,105.27 277.71,108.70C276.29,112.14 273.02,113.69 271.45,115.89C269.88,118.10 269.85,120.94 268.30,121.95C266.74,122.97 263.67,122.98 262.12,121.99C260.58,121.00 260.95,118.01 259.04,116.00C257.13,113.99 253.47,112.51 250.66,109.94C247.86,107.37 244.80,103.90 242.19,100.58C239.58,97.26 236.68,93.87 235.00,90.03C233.32,86.20 232.04,81.38 232.09,77.59Z"/><path id="rb3" d="M323.11,67.54C323.49,66.03 324.53,64.55 326.29,63.80C328.04,63.05 331.71,62.36 333.66,63.06C335.61,63.76 335.79,66.76 337.99,68.00C340.19,69.24 344.21,69.53 346.88,70.52C349.54,71.50 352.31,72.46 354.00,73.91C355.68,75.36 357.17,77.43 356.98,79.20C356.79,80.97 354.91,83.76 352.85,84.53C350.79,85.29 347.09,83.21 344.61,83.79C342.14,84.37 340.36,87.66 337.99,88.00C335.63,88.34 332.40,87.43 330.41,85.81C328.41,84.18 327.09,80.40 326.03,78.23C324.96,76.07 324.50,74.61 324.02,72.82C323.53,71.04 322.74,69.04 323.11,67.54Z"/><path id="rb0" d="M332.79,88.02C334.08,86.48 335.32,84.49 337.10,84.01C338.88,83.52 342.01,83.54 343.47,85.12C344.93,86.69 345.78,90.05 345.84,93.46C345.90,96.86 344.57,102.47 343.84,105.54C343.11,108.61 342.76,110.15 341.46,111.89C340.16,113.63 338.18,115.33 336.04,116.00C333.89,116.67 330.40,117.14 328.60,115.92C326.80,114.69 325.66,111.29 325.23,108.64C324.80,105.98 325.32,102.54 326.00,99.98C326.69,97.41 328.21,95.24 329.34,93.25C330.47,91.26 331.49,89.56 332.79,88.02Z"/><path id="rb5" d="M351.55,33.69C352.19,32.31 354.60,30.08 356.87,29.22C359.14,28.36 362.68,28.06 365.17,28.51C367.66,28.97 370.02,29.98 371.82,31.93C373.62,33.88 375.99,38.09 375.98,40.21C375.97,42.33 373.35,44.12 371.76,44.65C370.17,45.19 367.72,43.01 366.44,43.40C365.16,43.79 365.26,47.47 364.05,47.00C362.84,46.52 361.01,42.14 359.17,40.55C357.33,38.97 354.27,38.63 353.00,37.49C351.73,36.35 350.90,35.07 351.55,33.69Z"/></defs>
<defs><pattern id="bdots" width="14" height="14" patternUnits="userSpaceOnUse"><g fill="#3010E8"><circle cx="2.3" cy="9.7" r="1.3"/><circle cx="6.7" cy="3.0" r="1.4"/><circle cx="11.3" cy="7.2" r="1.2"/><circle cx="3.3" cy="0.0" r="1.1"/><circle cx="8.2" cy="1.0" r="1.4"/><circle cx="3.3" cy="3.3" r="0.8"/><circle cx="14.0" cy="10.3" r="1.5"/><circle cx="8.6" cy="0.5" r="1.1"/><circle cx="7.0" cy="1.6" r="1.6"/><circle cx="5.2" cy="2.2" r="1.5"/><circle cx="1.7" cy="13.0" r="1.2"/><circle cx="7.7" cy="4.8" r="1.2"/><circle cx="2.6" cy="0.5" r="1.5"/><circle cx="3.3" cy="10.9" r="1.0"/></g></pattern></defs>
<text transform="translate(481.30 4.52) scale(1 1.15)" font-size="4.4" text-anchor="middle" fill="#000" font-family="Liberation Sans" font-weight="bold">MS4A1</text>
<line x1="467.30" y1="7.00" x2="467.30" y2="28.20" stroke="#111" stroke-width="0.55"/>
<line x1="467.30" y1="28.20" x2="494.90" y2="28.20" stroke="#111" stroke-width="0.55"/>
<text x="466.00" y="9.00" font-size="3.6" text-anchor="end" fill="#1a1a1a" font-family="Liberation Sans" stroke="#1a1a1a" stroke-width="0.15">10</text>
<text x="466.00" y="14.10" font-size="3.6" text-anchor="end" fill="#1a1a1a" font-family="Liberation Sans" stroke="#1a1a1a" stroke-width="0.15">5</text>
<text x="466.00" y="19.10" font-size="3.6" text-anchor="end" fill="#1a1a1a" font-family="Liberation Sans" stroke="#1a1a1a" stroke-width="0.15">0</text>
<text x="466.00" y="24.20" font-size="3.6" text-anchor="end" fill="#1a1a1a" font-family="Liberation Sans" stroke="#1a1a1a" stroke-width="0.15">−5</text>
<text x="466.00" y="29.30" font-size="3.6" text-anchor="end" fill="#1a1a1a" font-family="Liberation Sans" stroke="#1a1a1a" stroke-width="0.15">−10</text>
<text x="471.20" y="32.90" font-size="3.6" text-anchor="middle" fill="#1a1a1a" font-family="Liberation Sans" stroke="#1a1a1a" stroke-width="0.15">−5</text>
<text x="476.50" y="32.90" font-size="3.6" text-anchor="middle" fill="#1a1a1a" font-family="Liberation Sans" stroke="#1a1a1a" stroke-width="0.15">0</text>
<text x="482.10" y="32.90" font-size="3.6" text-anchor="middle" fill="#1a1a1a" font-family="Liberation Sans" stroke="#1a1a1a" stroke-width="0.15">5</text>
<text x="487.80" y="32.90" font-size="3.6" text-anchor="middle" fill="#1a1a1a" font-family="Liberation Sans" stroke="#1a1a1a" stroke-width="0.15">10</text>
<text x="493.50" y="32.90" font-size="3.6" text-anchor="middle" fill="#1a1a1a" font-family="Liberation Sans" stroke="#1a1a1a" stroke-width="0.15">15</text>
<path d="M466.4 7.7h0.9M466.4 12.8h0.9M466.4 17.8h0.9M466.4 22.9h0.9M466.4 28.0h0.9M471.2 28.2v0.9M476.5 28.2v0.9M482.1 28.2v0.9M487.8 28.2v0.9M493.5 28.2v0.9" stroke="#222" stroke-width="0.4"/>
<text x="481.30" y="36.98" font-size="4.1" text-anchor="middle" fill="#111" font-family="Liberation Sans" stroke="#111" stroke-width="0.15">umap_1</text>
<text x="457.70" y="19.48" font-size="4.1" text-anchor="middle" fill="#111" font-family="Liberation Sans" transform="rotate(-90 457.70 18.00)" stroke="#111" stroke-width="0.15">umap_2</text>
<rect x="498.50" y="7.00" width="4.60" height="21.00" fill="url(#gB)"/>
<text x="505.20" y="8.55" font-size="3.2" text-anchor="start" fill="#222" font-family="Liberation Sans">3</text>
<text x="505.20" y="15.45" font-size="3.2" text-anchor="start" fill="#222" font-family="Liberation Sans">2</text>
<text x="505.20" y="22.35" font-size="3.2" text-anchor="start" fill="#222" font-family="Liberation Sans">1</text>
<text x="505.20" y="29.15" font-size="3.2" text-anchor="start" fill="#222" font-family="Liberation Sans">0</text>
<g transform="matrix(0.175,0,0,0.150,427.15,6.47)">
<use href="#rb2" fill="#D5D5D5"/>
<use href="#rb1" fill="#D5D5D5"/>
<use href="#rb4" fill="#D5D5D5"/>
<use href="#rb3" fill="#D5D5D5"/>
<use href="#rb0" fill="#D5D5D5"/>
<use href="#rb5" fill="#D5D5D5"/>
<use href="#rb2" fill="#3F1EF2" opacity="0.68"/>
<use href="#rb2" fill="url(#bdots)" opacity="1.00"/>
<use href="#rb1" fill="#3F1EF2" opacity="0.68"/>
<use href="#rb1" fill="url(#bdots)" opacity="1.00"/>
<use href="#rb4" fill="#3F1EF2" opacity="0.71"/>
<use href="#rb4" fill="url(#bdots)" opacity="1.00"/>
<use href="#rb3" fill="#3F1EF2" opacity="0.56"/>
<use href="#rb3" fill="url(#bdots)" opacity="0.98"/>
<use href="#rb0" fill="#3F1EF2" opacity="0.56"/>
<use href="#rb0" fill="url(#bdots)" opacity="0.98"/>
</g>
<text transform="translate(535.60 4.52) scale(1 1.15)" font-size="4.4" text-anchor="middle" fill="#000" font-family="Liberation Sans" font-weight="bold">CD38</text>
<line x1="521.60" y1="7.00" x2="521.60" y2="28.20" stroke="#111" stroke-width="0.55"/>
<line x1="521.60" y1="28.20" x2="549.20" y2="28.20" stroke="#111" stroke-width="0.55"/>
<text x="520.30" y="9.00" font-size="3.6" text-anchor="end" fill="#1a1a1a" font-family="Liberation Sans" stroke="#1a1a1a" stroke-width="0.15">10</text>
<text x="520.30" y="14.10" font-size="3.6" text-anchor="end" fill="#1a1a1a" font-family="Liberation Sans" stroke="#1a1a1a" stroke-width="0.15">5</text>
<text x="520.30" y="19.10" font-size="3.6" text-anchor="end" fill="#1a1a1a" font-family="Liberation Sans" stroke="#1a1a1a" stroke-width="0.15">0</text>
<text x="520.30" y="24.20" font-size="3.6" text-anchor="end" fill="#1a1a1a" font-family="Liberation Sans" stroke="#1a1a1a" stroke-width="0.15">−5</text>
<text x="520.30" y="29.30" font-size="3.6" text-anchor="end" fill="#1a1a1a" font-family="Liberation Sans" stroke="#1a1a1a" stroke-width="0.15">−10</text>
<text x="525.50" y="32.90" font-size="3.6" text-anchor="middle" fill="#1a1a1a" font-family="Liberation Sans" stroke="#1a1a1a" stroke-width="0.15">−5</text>
<text x="530.80" y="32.90" font-size="3.6" text-anchor="middle" fill="#1a1a1a" font-family="Liberation Sans" stroke="#1a1a1a" stroke-width="0.15">0</text>
<text x="536.40" y="32.90" font-size="3.6" text-anchor="middle" fill="#1a1a1a" font-family="Liberation Sans" stroke="#1a1a1a" stroke-width="0.15">5</text>
<text x="542.10" y="32.90" font-size="3.6" text-anchor="middle" fill="#1a1a1a" font-family="Liberation Sans" stroke="#1a1a1a" stroke-width="0.15">10</text>
<text x="547.80" y="32.90" font-size="3.6" text-anchor="middle" fill="#1a1a1a" font-family="Liberation Sans" stroke="#1a1a1a" stroke-width="0.15">15</text>
<path d="M520.7 7.7h0.9M520.7 12.8h0.9M520.7 17.8h0.9M520.7 22.9h0.9M520.7 28.0h0.9M525.5 28.2v0.9M530.8 28.2v0.9M536.4 28.2v0.9M542.1 28.2v0.9M547.8 28.2v0.9" stroke="#222" stroke-width="0.4"/>
<text x="535.60" y="36.98" font-size="4.1" text-anchor="middle" fill="#111" font-family="Liberation Sans" stroke="#111" stroke-width="0.15">umap_1</text>
<text x="512.00" y="19.48" font-size="4.1" text-anchor="middle" fill="#111" font-family="Liberation Sans" transform="rotate(-90 512.00 18.00)" stroke="#111" stroke-width="0.15">umap_2</text>
<rect x="552.80" y="7.00" width="4.60" height="21.00" fill="url(#gB)"/>
<text x="559.50" y="8.55" font-size="3.2" text-anchor="start" fill="#222" font-family="Liberation Sans">3</text>
<text x="559.50" y="15.45" font-size="3.2" text-anchor="start" fill="#222" font-family="Liberation Sans">2</text>
<text x="559.50" y="22.35" font-size="3.2" text-anchor="start" fill="#222" font-family="Liberation Sans">1</text>
<text x="559.50" y="29.15" font-size="3.2" text-anchor="start" fill="#222" font-family="Liberation Sans">0</text>
<g transform="matrix(0.175,0,0,0.150,481.45,6.47)">
<use href="#rb2" fill="#D5D5D5"/>
<use href="#rb1" fill="#D5D5D5"/>
<use href="#rb4" fill="#D5D5D5"/>
<use href="#rb3" fill="#D5D5D5"/>
<use href="#rb0" fill="#D5D5D5"/>
<use href="#rb5" fill="#D5D5D5"/>
<use href="#rb4" fill="#3F1EF2" opacity="0.04"/>
<use href="#rb4" fill="url(#bdots)" opacity="0.08"/>
<use href="#rb1" fill="#3F1EF2" opacity="0.06"/>
<use href="#rb1" fill="url(#bdots)" opacity="0.10"/>
<use href="#rb0" fill="#3F1EF2" opacity="0.11"/>
<use href="#rb0" fill="url(#bdots)" opacity="0.20"/>
</g>
<text transform="translate(590.00 4.52) scale(1 1.15)" font-size="4.4" text-anchor="middle" fill="#000" font-family="Liberation Sans" font-weight="bold">CD27</text>
<line x1="576.00" y1="7.00" x2="576.00" y2="28.20" stroke="#111" stroke-width="0.55"/>
<line x1="576.00" y1="28.20" x2="603.60" y2="28.20" stroke="#111" stroke-width="0.55"/>
<text x="574.70" y="9.00" font-size="3.6" text-anchor="end" fill="#1a1a1a" font-family="Liberation Sans" stroke="#1a1a1a" stroke-width="0.15">10</text>
<text x="574.70" y="14.10" font-size="3.6" text-anchor="end" fill="#1a1a1a" font-family="Liberation Sans" stroke="#1a1a1a" stroke-width="0.15">5</text>
<text x="574.70" y="19.10" font-size="3.6" text-anchor="end" fill="#1a1a1a" font-family="Liberation Sans" stroke="#1a1a1a" stroke-width="0.15">0</text>
<text x="574.70" y="24.20" font-size="3.6" text-anchor="end" fill="#1a1a1a" font-family="Liberation Sans" stroke="#1a1a1a" stroke-width="0.15">−5</text>
<text x="574.70" y="29.30" font-size="3.6" text-anchor="end" fill="#1a1a1a" font-family="Liberation Sans" stroke="#1a1a1a" stroke-width="0.15">−10</text>
<text x="579.90" y="32.90" font-size="3.6" text-anchor="middle" fill="#1a1a1a" font-family="Liberation Sans" stroke="#1a1a1a" stroke-width="0.15">−5</text>
<text x="585.20" y="32.90" font-size="3.6" text-anchor="middle" fill="#1a1a1a" font-family="Liberation Sans" stroke="#1a1a1a" stroke-width="0.15">0</text>
<text x="590.80" y="32.90" font-size="3.6" text-anchor="middle" fill="#1a1a1a" font-family="Liberation Sans" stroke="#1a1a1a" stroke-width="0.15">5</text>
<text x="596.50" y="32.90" font-size="3.6" text-anchor="middle" fill="#1a1a1a" font-family="Liberation Sans" stroke="#1a1a1a" stroke-width="0.15">10</text>
<text x="602.20" y="32.90" font-size="3.6" text-anchor="middle" fill="#1a1a1a" font-family="Liberation Sans" stroke="#1a1a1a" stroke-width="0.15">15</text>
<path d="M575.1 7.7h0.9M575.1 12.8h0.9M575.1 17.8h0.9M575.1 22.9h0.9M575.1 28.0h0.9M579.9 28.2v0.9M585.2 28.2v0.9M590.8 28.2v0.9M596.5 28.2v0.9M602.2 28.2v0.9" stroke="#222" stroke-width="0.4"/>
<text x="590.00" y="36.98" font-size="4.1" text-anchor="middle" fill="#111" font-family="Liberation Sans" stroke="#111" stroke-width="0.15">umap_1</text>
<text x="566.40" y="19.48" font-size="4.1" text-anchor="middle" fill="#111" font-family="Liberation Sans" transform="rotate(-90 566.40 18.00)" stroke="#111" stroke-width="0.15">umap_2</text>
<rect x="607.20" y="7.00" width="4.60" height="21.00" fill="url(#gB)"/>
<text x="613.90" y="8.55" font-size="3.2" text-anchor="start" fill="#222" font-family="Liberation Sans">3</text>
<text x="613.90" y="15.45" font-size="3.2" text-anchor="start" fill="#222" font-family="Liberation Sans">2</text>
<text x="613.90" y="22.35" font-size="3.2" text-anchor="start" fill="#222" font-family="Liberation Sans">1</text>
<text x="613.90" y="29.15" font-size="3.2" text-anchor="start" fill="#222" font-family="Liberation Sans">0</text>
<g transform="matrix(0.175,0,0,0.150,535.85,6.47)">
<use href="#rb2" fill="#D5D5D5"/>
<use href="#rb1" fill="#D5D5D5"/>
<use href="#rb4" fill="#D5D5D5"/>
<use href="#rb3" fill="#D5D5D5"/>
<use href="#rb0" fill="#D5D5D5"/>
<use href="#rb5" fill="#D5D5D5"/>
<use href="#rb2" fill="#3F1EF2" opacity="0.26"/>
<use href="#rb2" fill="url(#bdots)" opacity="0.45"/>
<use href="#rb1" fill="#3F1EF2" opacity="0.22"/>
<use href="#rb1" fill="url(#bdots)" opacity="0.39"/>
<use href="#rb3" fill="#3F1EF2" opacity="0.22"/>
<use href="#rb3" fill="url(#bdots)" opacity="0.39"/>
<use href="#rb0" fill="#3F1EF2" opacity="0.19"/>
<use href="#rb0" fill="url(#bdots)" opacity="0.33"/>
</g>
<text transform="translate(644.30 4.52) scale(1 1.15)" font-size="4.4" text-anchor="middle" fill="#000" font-family="Liberation Sans" font-weight="bold">CD24</text>
<line x1="630.30" y1="7.00" x2="630.30" y2="28.20" stroke="#111" stroke-width="0.55"/>
<line x1="630.30" y1="28.20" x2="657.90" y2="28.20" stroke="#111" stroke-width="0.55"/>
<text x="629.00" y="9.00" font-size="3.6" text-anchor="end" fill="#1a1a1a" font-family="Liberation Sans" stroke="#1a1a1a" stroke-width="0.15">10</text>
<text x="629.00" y="14.10" font-size="3.6" text-anchor="end" fill="#1a1a1a" font-family="Liberation Sans" stroke="#1a1a1a" stroke-width="0.15">5</text>
<text x="629.00" y="19.10" font-size="3.6" text-anchor="end" fill="#1a1a1a" font-family="Liberation Sans" stroke="#1a1a1a" stroke-width="0.15">0</text>
<text x="629.00" y="24.20" font-size="3.6" text-anchor="end" fill="#1a1a1a" font-family="Liberation Sans" stroke="#1a1a1a" stroke-width="0.15">−5</text>
<text x="629.00" y="29.30" font-size="3.6" text-anchor="end" fill="#1a1a1a" font-family="Liberation Sans" stroke="#1a1a1a" stroke-width="0.15">−10</text>
<text x="634.20" y="32.90" font-size="3.6" text-anchor="middle" fill="#1a1a1a" font-family="Liberation Sans" stroke="#1a1a1a" stroke-width="0.15">−5</text>
<text x="639.50" y="32.90" font-size="3.6" text-anchor="middle" fill="#1a1a1a" font-family="Liberation Sans" stroke="#1a1a1a" stroke-width="0.15">0</text>
<text x="645.10" y="32.90" font-size="3.6" text-anchor="middle" fill="#1a1a1a" font-family="Liberation Sans" stroke="#1a1a1a" stroke-width="0.15">5</text>
<text x="650.80" y="32.90" font-size="3.6" text-anchor="middle" fill="#1a1a1a" font-family="Liberation Sans" stroke="#1a1a1a" stroke-width="0.15">10</text>
<text x="656.50" y="32.90" font-size="3.6" text-anchor="middle" fill="#1a1a1a" font-family="Liberation Sans" stroke="#1a1a1a" stroke-width="0.15">15</text>
<path d="M629.4 7.7h0.9M629.4 12.8h0.9M629.4 17.8h0.9M629.4 22.9h0.9M629.4 28.0h0.9M634.2 28.2v0.9M639.5 28.2v0.9M645.1 28.2v0.9M650.8 28.2v0.9M656.5 28.2v0.9" stroke="#222" stroke-width="0.4"/>
<text x="644.30" y="36.98" font-size="4.1" text-anchor="middle" fill="#111" font-family="Liberation Sans" stroke="#111" stroke-width="0.15">umap_1</text>
<text x="620.70" y="19.48" font-size="4.1" text-anchor="middle" fill="#111" font-family="Liberation Sans" transform="rotate(-90 620.70 18.00)" stroke="#111" stroke-width="0.15">umap_2</text>
<rect x="661.50" y="7.00" width="4.60" height="21.00" fill="url(#gB)"/>
<text x="668.20" y="8.55" font-size="3.2" text-anchor="start" fill="#222" font-family="Liberation Sans">3</text>
<text x="668.20" y="15.45" font-size="3.2" text-anchor="start" fill="#222" font-family="Liberation Sans">2</text>
<text x="668.20" y="22.35" font-size="3.2" text-anchor="start" fill="#222" font-family="Liberation Sans">1</text>
<text x="668.20" y="29.15" font-size="3.2" text-anchor="start" fill="#222" font-family="Liberation Sans">0</text>
<g transform="matrix(0.175,0,0,0.150,590.15,6.47)">
<use href="#rb2" fill="#D5D5D5"/>
<use href="#rb1" fill="#D5D5D5"/>
<use href="#rb4" fill="#D5D5D5"/>
<use href="#rb3" fill="#D5D5D5"/>
<use href="#rb0" fill="#D5D5D5"/>
<use href="#rb5" fill="#D5D5D5"/>
<use href="#rb2" fill="#3F1EF2" opacity="0.26"/>
<use href="#rb2" fill="url(#bdots)" opacity="0.45"/>
<use href="#rb1" fill="#3F1EF2" opacity="0.26"/>
<use href="#rb1" fill="url(#bdots)" opacity="0.45"/>
<use href="#rb4" fill="#3F1EF2" opacity="0.22"/>
<use href="#rb4" fill="url(#bdots)" opacity="0.39"/>
<use href="#rb3" fill="#3F1EF2" opacity="0.19"/>
<use href="#rb3" fill="url(#bdots)" opacity="0.33"/>
<use href="#rb0" fill="#3F1EF2" opacity="0.19"/>
<use href="#rb0" fill="url(#bdots)" opacity="0.33"/>
</g>
<text transform="translate(481.30 45.32) scale(1 1.15)" font-size="4.4" text-anchor="middle" fill="#000" font-family="Liberation Sans" font-weight="bold">TCL1A</text>
<line x1="467.30" y1="47.80" x2="467.30" y2="69.00" stroke="#111" stroke-width="0.55"/>
<line x1="467.30" y1="69.00" x2="494.90" y2="69.00" stroke="#111" stroke-width="0.55"/>
<text x="466.00" y="49.80" font-size="3.6" text-anchor="end" fill="#1a1a1a" font-family="Liberation Sans" stroke="#1a1a1a" stroke-width="0.15">10</text>
<text x="466.00" y="54.90" font-size="3.6" text-anchor="end" fill="#1a1a1a" font-family="Liberation Sans" stroke="#1a1a1a" stroke-width="0.15">5</text>
<text x="466.00" y="59.90" font-size="3.6" text-anchor="end" fill="#1a1a1a" font-family="Liberation Sans" stroke="#1a1a1a" stroke-width="0.15">0</text>
<text x="466.00" y="65.00" font-size="3.6" text-anchor="end" fill="#1a1a1a" font-family="Liberation Sans" stroke="#1a1a1a" stroke-width="0.15">−5</text>
<text x="466.00" y="70.10" font-size="3.6" text-anchor="end" fill="#1a1a1a" font-family="Liberation Sans" stroke="#1a1a1a" stroke-width="0.15">−10</text>
<text x="471.20" y="73.70" font-size="3.6" text-anchor="middle" fill="#1a1a1a" font-family="Liberation Sans" stroke="#1a1a1a" stroke-width="0.15">−5</text>
<text x="476.50" y="73.70" font-size="3.6" text-anchor="middle" fill="#1a1a1a" font-family="Liberation Sans" stroke="#1a1a1a" stroke-width="0.15">0</text>
<text x="482.10" y="73.70" font-size="3.6" text-anchor="middle" fill="#1a1a1a" font-family="Liberation Sans" stroke="#1a1a1a" stroke-width="0.15">5</text>
<text x="487.80" y="73.70" font-size="3.6" text-anchor="middle" fill="#1a1a1a" font-family="Liberation Sans" stroke="#1a1a1a" stroke-width="0.15">10</text>
<text x="493.50" y="73.70" font-size="3.6" text-anchor="middle" fill="#1a1a1a" font-family="Liberation Sans" stroke="#1a1a1a" stroke-width="0.15">15</text>
<path d="M466.4 48.5h0.9M466.4 53.6h0.9M466.4 58.6h0.9M466.4 63.7h0.9M466.4 68.8h0.9M471.2 69.0v0.9M476.5 69.0v0.9M482.1 69.0v0.9M487.8 69.0v0.9M493.5 69.0v0.9" stroke="#222" stroke-width="0.4"/>
<text x="481.30" y="77.78" font-size="4.1" text-anchor="middle" fill="#111" font-family="Liberation Sans" stroke="#111" stroke-width="0.15">umap_1</text>
<text x="457.70" y="60.28" font-size="4.1" text-anchor="middle" fill="#111" font-family="Liberation Sans" transform="rotate(-90 457.70 58.80)" stroke="#111" stroke-width="0.15">umap_2</text>
<rect x="498.50" y="47.80" width="4.60" height="21.00" fill="url(#gB)"/>
<text x="505.20" y="49.35" font-size="3.2" text-anchor="start" fill="#222" font-family="Liberation Sans">3</text>
<text x="505.20" y="56.25" font-size="3.2" text-anchor="start" fill="#222" font-family="Liberation Sans">2</text>
<text x="505.20" y="63.15" font-size="3.2" text-anchor="start" fill="#222" font-family="Liberation Sans">1</text>
<text x="505.20" y="69.95" font-size="3.2" text-anchor="start" fill="#222" font-family="Liberation Sans">0</text>
<g transform="matrix(0.175,0,0,0.150,427.15,47.27)">
<use href="#rb2" fill="#D5D5D5"/>
<use href="#rb1" fill="#D5D5D5"/>
<use href="#rb4" fill="#D5D5D5"/>
<use href="#rb3" fill="#D5D5D5"/>
<use href="#rb0" fill="#D5D5D5"/>
<use href="#rb5" fill="#D5D5D5"/>
<use href="#rb4" fill="#3F1EF2" opacity="0.71"/>
<use href="#rb4" fill="url(#bdots)" opacity="1.00"/>
<use href="#rb3" fill="#3F1EF2" opacity="0.38"/>
<use href="#rb3" fill="url(#bdots)" opacity="0.65"/>
<use href="#rb0" fill="#3F1EF2" opacity="0.34"/>
<use href="#rb0" fill="url(#bdots)" opacity="0.59"/>
</g>
<text transform="translate(535.60 45.32) scale(1 1.15)" font-size="4.4" text-anchor="middle" fill="#000" font-family="Liberation Sans" font-weight="bold">IGHD</text>
<line x1="521.60" y1="47.80" x2="521.60" y2="69.00" stroke="#111" stroke-width="0.55"/>
<line x1="521.60" y1="69.00" x2="549.20" y2="69.00" stroke="#111" stroke-width="0.55"/>
<text x="520.30" y="49.80" font-size="3.6" text-anchor="end" fill="#1a1a1a" font-family="Liberation Sans" stroke="#1a1a1a" stroke-width="0.15">10</text>
<text x="520.30" y="54.90" font-size="3.6" text-anchor="end" fill="#1a1a1a" font-family="Liberation Sans" stroke="#1a1a1a" stroke-width="0.15">5</text>
<text x="520.30" y="59.90" font-size="3.6" text-anchor="end" fill="#1a1a1a" font-family="Liberation Sans" stroke="#1a1a1a" stroke-width="0.15">0</text>
<text x="520.30" y="65.00" font-size="3.6" text-anchor="end" fill="#1a1a1a" font-family="Liberation Sans" stroke="#1a1a1a" stroke-width="0.15">−5</text>
<text x="520.30" y="70.10" font-size="3.6" text-anchor="end" fill="#1a1a1a" font-family="Liberation Sans" stroke="#1a1a1a" stroke-width="0.15">−10</text>
<text x="525.50" y="73.70" font-size="3.6" text-anchor="middle" fill="#1a1a1a" font-family="Liberation Sans" stroke="#1a1a1a" stroke-width="0.15">−5</text>
<text x="530.80" y="73.70" font-size="3.6" text-anchor="middle" fill="#1a1a1a" font-family="Liberation Sans" stroke="#1a1a1a" stroke-width="0.15">0</text>
<text x="536.40" y="73.70" font-size="3.6" text-anchor="middle" fill="#1a1a1a" font-family="Liberation Sans" stroke="#1a1a1a" stroke-width="0.15">5</text>
<text x="542.10" y="73.70" font-size="3.6" text-anchor="middle" fill="#1a1a1a" font-family="Liberation Sans" stroke="#1a1a1a" stroke-width="0.15">10</text>
<text x="547.80" y="73.70" font-size="3.6" text-anchor="middle" fill="#1a1a1a" font-family="Liberation Sans" stroke="#1a1a1a" stroke-width="0.15">15</text>
<path d="M520.7 48.5h0.9M520.7 53.6h0.9M520.7 58.6h0.9M520.7 63.7h0.9M520.7 68.8h0.9M525.5 69.0v0.9M530.8 69.0v0.9M536.4 69.0v0.9M542.1 69.0v0.9M547.8 69.0v0.9" stroke="#222" stroke-width="0.4"/>
<text x="535.60" y="77.78" font-size="4.1" text-anchor="middle" fill="#111" font-family="Liberation Sans" stroke="#111" stroke-width="0.15">umap_1</text>
<text x="512.00" y="60.28" font-size="4.1" text-anchor="middle" fill="#111" font-family="Liberation Sans" transform="rotate(-90 512.00 58.80)" stroke="#111" stroke-width="0.15">umap_2</text>
<rect x="552.80" y="47.80" width="4.60" height="21.00" fill="url(#gB)"/>
<text x="559.50" y="49.35" font-size="3.2" text-anchor="start" fill="#222" font-family="Liberation Sans">3</text>
<text x="559.50" y="56.25" font-size="3.2" text-anchor="start" fill="#222" font-family="Liberation Sans">2</text>
<text x="559.50" y="63.15" font-size="3.2" text-anchor="start" fill="#222" font-family="Liberation Sans">1</text>
<text x="559.50" y="69.95" font-size="3.2" text-anchor="start" fill="#222" font-family="Liberation Sans">0</text>
<g transform="matrix(0.175,0,0,0.150,481.45,47.27)">
<use href="#rb2" fill="#D5D5D5"/>
<use href="#rb1" fill="#D5D5D5"/>
<use href="#rb4" fill="#D5D5D5"/>
<use href="#rb3" fill="#D5D5D5"/>
<use href="#rb0" fill="#D5D5D5"/>
<use href="#rb5" fill="#D5D5D5"/>
<use href="#rb4" fill="#3F1EF2" opacity="0.38"/>
<use href="#rb4" fill="url(#bdots)" opacity="0.65"/>
<use href="#rb3" fill="#3F1EF2" opacity="0.26"/>
<use href="#rb3" fill="url(#bdots)" opacity="0.45"/>
<use href="#rb0" fill="#3F1EF2" opacity="0.26"/>
<use href="#rb0" fill="url(#bdots)" opacity="0.45"/>
<use href="#rb2" fill="#3F1EF2" opacity="0.08"/>
<use href="#rb2" fill="url(#bdots)" opacity="0.13"/>
</g>
<text transform="translate(590.00 45.32) scale(1 1.15)" font-size="4.4" text-anchor="middle" fill="#000" font-family="Liberation Sans" font-weight="bold">IL4R</text>
<line x1="576.00" y1="47.80" x2="576.00" y2="69.00" stroke="#111" stroke-width="0.55"/>
<line x1="576.00" y1="69.00" x2="603.60" y2="69.00" stroke="#111" stroke-width="0.55"/>
<text x="574.70" y="49.80" font-size="3.6" text-anchor="end" fill="#1a1a1a" font-family="Liberation Sans" stroke="#1a1a1a" stroke-width="0.15">10</text>
<text x="574.70" y="54.90" font-size="3.6" text-anchor="end" fill="#1a1a1a" font-family="Liberation Sans" stroke="#1a1a1a" stroke-width="0.15">5</text>
<text x="574.70" y="59.90" font-size="3.6" text-anchor="end" fill="#1a1a1a" font-family="Liberation Sans" stroke="#1a1a1a" stroke-width="0.15">0</text>
<text x="574.70" y="65.00" font-size="3.6" text-anchor="end" fill="#1a1a1a" font-family="Liberation Sans" stroke="#1a1a1a" stroke-width="0.15">−5</text>
<text x="574.70" y="70.10" font-size="3.6" text-anchor="end" fill="#1a1a1a" font-family="Liberation Sans" stroke="#1a1a1a" stroke-width="0.15">−10</text>
<text x="579.90" y="73.70" font-size="3.6" text-anchor="middle" fill="#1a1a1a" font-family="Liberation Sans" stroke="#1a1a1a" stroke-width="0.15">−5</text>
<text x="585.20" y="73.70" font-size="3.6" text-anchor="middle" fill="#1a1a1a" font-family="Liberation Sans" stroke="#1a1a1a" stroke-width="0.15">0</text>
<text x="590.80" y="73.70" font-size="3.6" text-anchor="middle" fill="#1a1a1a" font-family="Liberation Sans" stroke="#1a1a1a" stroke-width="0.15">5</text>
<text x="596.50" y="73.70" font-size="3.6" text-anchor="middle" fill="#1a1a1a" font-family="Liberation Sans" stroke="#1a1a1a" stroke-width="0.15">10</text>
<text x="602.20" y="73.70" font-size="3.6" text-anchor="middle" fill="#1a1a1a" font-family="Liberation Sans" stroke="#1a1a1a" stroke-width="0.15">15</text>
<path d="M575.1 48.5h0.9M575.1 53.6h0.9M575.1 58.6h0.9M575.1 63.7h0.9M575.1 68.8h0.9M579.9 69.0v0.9M585.2 69.0v0.9M590.8 69.0v0.9M596.5 69.0v0.9M602.2 69.0v0.9" stroke="#222" stroke-width="0.4"/>
<text x="590.00" y="77.78" font-size="4.1" text-anchor="middle" fill="#111" font-family="Liberation Sans" stroke="#111" stroke-width="0.15">umap_1</text>
<text x="566.40" y="60.28" font-size="4.1" text-anchor="middle" fill="#111" font-family="Liberation Sans" transform="rotate(-90 566.40 58.80)" stroke="#111" stroke-width="0.15">umap_2</text>
<rect x="607.20" y="47.80" width="4.60" height="21.00" fill="url(#gB)"/>
<text x="613.90" y="49.35" font-size="3.2" text-anchor="start" fill="#222" font-family="Liberation Sans">3</text>
<text x="613.90" y="56.25" font-size="3.2" text-anchor="start" fill="#222" font-family="Liberation Sans">2</text>
<text x="613.90" y="63.15" font-size="3.2" text-anchor="start" fill="#222" font-family="Liberation Sans">1</text>
<text x="613.90" y="69.95" font-size="3.2" text-anchor="start" fill="#222" font-family="Liberation Sans">0</text>
<g transform="matrix(0.175,0,0,0.150,535.85,47.27)">
<use href="#rb2" fill="#D5D5D5"/>
<use href="#rb1" fill="#D5D5D5"/>
<use href="#rb4" fill="#D5D5D5"/>
<use href="#rb3" fill="#D5D5D5"/>
<use href="#rb0" fill="#D5D5D5"/>
<use href="#rb5" fill="#D5D5D5"/>
<use href="#rb4" fill="#3F1EF2" opacity="0.41"/>
<use href="#rb4" fill="url(#bdots)" opacity="0.72"/>
<use href="#rb3" fill="#3F1EF2" opacity="0.22"/>
<use href="#rb3" fill="url(#bdots)" opacity="0.39"/>
<use href="#rb0" fill="#3F1EF2" opacity="0.22"/>
<use href="#rb0" fill="url(#bdots)" opacity="0.39"/>
<use href="#rb1" fill="#3F1EF2" opacity="0.08"/>
<use href="#rb1" fill="url(#bdots)" opacity="0.13"/>
</g>
<text transform="translate(644.30 45.32) scale(1 1.15)" font-size="4.4" text-anchor="middle" fill="#000" font-family="Liberation Sans" font-weight="bold">TNFRSF13B</text>
<line x1="630.30" y1="47.80" x2="630.30" y2="69.00" stroke="#111" stroke-width="0.55"/>
<line x1="630.30" y1="69.00" x2="657.90" y2="69.00" stroke="#111" stroke-width="0.55"/>
<text x="629.00" y="49.80" font-size="3.6" text-anchor="end" fill="#1a1a1a" font-family="Liberation Sans" stroke="#1a1a1a" stroke-width="0.15">10</text>
<text x="629.00" y="54.90" font-size="3.6" text-anchor="end" fill="#1a1a1a" font-family="Liberation Sans" stroke="#1a1a1a" stroke-width="0.15">5</text>
<text x="629.00" y="59.90" font-size="3.6" text-anchor="end" fill="#1a1a1a" font-family="Liberation Sans" stroke="#1a1a1a" stroke-width="0.15">0</text>
<text x="629.00" y="65.00" font-size="3.6" text-anchor="end" fill="#1a1a1a" font-family="Liberation Sans" stroke="#1a1a1a" stroke-width="0.15">−5</text>
<text x="629.00" y="70.10" font-size="3.6" text-anchor="end" fill="#1a1a1a" font-family="Liberation Sans" stroke="#1a1a1a" stroke-width="0.15">−10</text>
<text x="634.20" y="73.70" font-size="3.6" text-anchor="middle" fill="#1a1a1a" font-family="Liberation Sans" stroke="#1a1a1a" stroke-width="0.15">−5</text>
<text x="639.50" y="73.70" font-size="3.6" text-anchor="middle" fill="#1a1a1a" font-family="Liberation Sans" stroke="#1a1a1a" stroke-width="0.15">0</text>
<text x="645.10" y="73.70" font-size="3.6" text-anchor="middle" fill="#1a1a1a" font-family="Liberation Sans" stroke="#1a1a1a" stroke-width="0.15">5</text>
<text x="650.80" y="73.70" font-size="3.6" text-anchor="middle" fill="#1a1a1a" font-family="Liberation Sans" stroke="#1a1a1a" stroke-width="0.15">10</text>
<text x="656.50" y="73.70" font-size="3.6" text-anchor="middle" fill="#1a1a1a" font-family="Liberation Sans" stroke="#1a1a1a" stroke-width="0.15">15</text>
<path d="M629.4 48.5h0.9M629.4 53.6h0.9M629.4 58.6h0.9M629.4 63.7h0.9M629.4 68.8h0.9M634.2 69.0v0.9M639.5 69.0v0.9M645.1 69.0v0.9M650.8 69.0v0.9M656.5 69.0v0.9" stroke="#222" stroke-width="0.4"/>
<text x="644.30" y="77.78" font-size="4.1" text-anchor="middle" fill="#111" font-family="Liberation Sans" stroke="#111" stroke-width="0.15">umap_1</text>
<text x="620.70" y="60.28" font-size="4.1" text-anchor="middle" fill="#111" font-family="Liberation Sans" transform="rotate(-90 620.70 58.80)" stroke="#111" stroke-width="0.15">umap_2</text>
<rect x="661.50" y="47.80" width="4.60" height="21.00" fill="url(#gB)"/>
<text x="668.20" y="49.35" font-size="3.2" text-anchor="start" fill="#222" font-family="Liberation Sans">3</text>
<text x="668.20" y="56.25" font-size="3.2" text-anchor="start" fill="#222" font-family="Liberation Sans">2</text>
<text x="668.20" y="63.15" font-size="3.2" text-anchor="start" fill="#222" font-family="Liberation Sans">1</text>
<text x="668.20" y="69.95" font-size="3.2" text-anchor="start" fill="#222" font-family="Liberation Sans">0</text>
<g transform="matrix(0.175,0,0,0.150,590.15,47.27)">
<use href="#rb2" fill="#D5D5D5"/>
<use href="#rb1" fill="#D5D5D5"/>
<use href="#rb4" fill="#D5D5D5"/>
<use href="#rb3" fill="#D5D5D5"/>
<use href="#rb0" fill="#D5D5D5"/>
<use href="#rb5" fill="#D5D5D5"/>
<use href="#rb2" fill="#3F1EF2" opacity="0.34"/>
<use href="#rb2" fill="url(#bdots)" opacity="0.59"/>
<use href="#rb1" fill="#3F1EF2" opacity="0.30"/>
<use href="#rb1" fill="url(#bdots)" opacity="0.52"/>
<use href="#rb3" fill="#3F1EF2" opacity="0.11"/>
<use href="#rb3" fill="url(#bdots)" opacity="0.20"/>
<use href="#rb0" fill="#3F1EF2" opacity="0.11"/>
<use href="#rb0" fill="url(#bdots)" opacity="0.20"/>
</g>
<text transform="translate(481.30 86.12) scale(1 1.15)" font-size="4.4" text-anchor="middle" fill="#000" font-family="Liberation Sans" font-weight="bold">CD1C</text>
<line x1="467.30" y1="88.60" x2="467.30" y2="109.80" stroke="#111" stroke-width="0.55"/>
<line x1="467.30" y1="109.80" x2="494.90" y2="109.80" stroke="#111" stroke-width="0.55"/>
<text x="466.00" y="90.60" font-size="3.6" text-anchor="end" fill="#1a1a1a" font-family="Liberation Sans" stroke="#1a1a1a" stroke-width="0.15">10</text>
<text x="466.00" y="95.70" font-size="3.6" text-anchor="end" fill="#1a1a1a" font-family="Liberation Sans" stroke="#1a1a1a" stroke-width="0.15">5</text>
<text x="466.00" y="100.70" font-size="3.6" text-anchor="end" fill="#1a1a1a" font-family="Liberation Sans" stroke="#1a1a1a" stroke-width="0.15">0</text>
<text x="466.00" y="105.80" font-size="3.6" text-anchor="end" fill="#1a1a1a" font-family="Liberation Sans" stroke="#1a1a1a" stroke-width="0.15">−5</text>
<text x="466.00" y="110.90" font-size="3.6" text-anchor="end" fill="#1a1a1a" font-family="Liberation Sans" stroke="#1a1a1a" stroke-width="0.15">−10</text>
<text x="471.20" y="114.50" font-size="3.6" text-anchor="middle" fill="#1a1a1a" font-family="Liberation Sans" stroke="#1a1a1a" stroke-width="0.15">−5</text>
<text x="476.50" y="114.50" font-size="3.6" text-anchor="middle" fill="#1a1a1a" font-family="Liberation Sans" stroke="#1a1a1a" stroke-width="0.15">0</text>
<text x="482.10" y="114.50" font-size="3.6" text-anchor="middle" fill="#1a1a1a" font-family="Liberation Sans" stroke="#1a1a1a" stroke-width="0.15">5</text>
<text x="487.80" y="114.50" font-size="3.6" text-anchor="middle" fill="#1a1a1a" font-family="Liberation Sans" stroke="#1a1a1a" stroke-width="0.15">10</text>
<text x="493.50" y="114.50" font-size="3.6" text-anchor="middle" fill="#1a1a1a" font-family="Liberation Sans" stroke="#1a1a1a" stroke-width="0.15">15</text>
<path d="M466.4 89.3h0.9M466.4 94.4h0.9M466.4 99.4h0.9M466.4 104.5h0.9M466.4 109.6h0.9M471.2 109.8v0.9M476.5 109.8v0.9M482.1 109.8v0.9M487.8 109.8v0.9M493.5 109.8v0.9" stroke="#222" stroke-width="0.4"/>
<text x="481.30" y="118.58" font-size="4.1" text-anchor="middle" fill="#111" font-family="Liberation Sans" stroke="#111" stroke-width="0.15">umap_1</text>
<text x="457.70" y="101.08" font-size="4.1" text-anchor="middle" fill="#111" font-family="Liberation Sans" transform="rotate(-90 457.70 99.60)" stroke="#111" stroke-width="0.15">umap_2</text>
<rect x="498.50" y="88.60" width="4.60" height="21.00" fill="url(#gB)"/>
<text x="505.20" y="90.15" font-size="3.2" text-anchor="start" fill="#222" font-family="Liberation Sans">3</text>
<text x="505.20" y="97.05" font-size="3.2" text-anchor="start" fill="#222" font-family="Liberation Sans">2</text>
<text x="505.20" y="103.95" font-size="3.2" text-anchor="start" fill="#222" font-family="Liberation Sans">1</text>
<text x="505.20" y="110.75" font-size="3.2" text-anchor="start" fill="#222" font-family="Liberation Sans">0</text>
<g transform="matrix(0.175,0,0,0.150,427.15,88.07)">
<use href="#rb2" fill="#D5D5D5"/>
<use href="#rb1" fill="#D5D5D5"/>
<use href="#rb4" fill="#D5D5D5"/>
<use href="#rb3" fill="#D5D5D5"/>
<use href="#rb0" fill="#D5D5D5"/>
<use href="#rb5" fill="#D5D5D5"/>
<use href="#rb2" fill="#3F1EF2" opacity="0.15"/>
<use href="#rb2" fill="url(#bdots)" opacity="0.26"/>
<use href="#rb1" fill="#3F1EF2" opacity="0.11"/>
<use href="#rb1" fill="url(#bdots)" opacity="0.20"/>
<use href="#rb0" fill="#3F1EF2" opacity="0.06"/>
<use href="#rb0" fill="url(#bdots)" opacity="0.10"/>
</g>
<text transform="translate(535.60 86.12) scale(1 1.15)" font-size="4.4" text-anchor="middle" fill="#000" font-family="Liberation Sans" font-weight="bold">IGHA1</text>
<line x1="521.60" y1="88.60" x2="521.60" y2="109.80" stroke="#111" stroke-width="0.55"/>
<line x1="521.60" y1="109.80" x2="549.20" y2="109.80" stroke="#111" stroke-width="0.55"/>
<text x="520.30" y="90.60" font-size="3.6" text-anchor="end" fill="#1a1a1a" font-family="Liberation Sans" stroke="#1a1a1a" stroke-width="0.15">10</text>
<text x="520.30" y="95.70" font-size="3.6" text-anchor="end" fill="#1a1a1a" font-family="Liberation Sans" stroke="#1a1a1a" stroke-width="0.15">5</text>
<text x="520.30" y="100.70" font-size="3.6" text-anchor="end" fill="#1a1a1a" font-family="Liberation Sans" stroke="#1a1a1a" stroke-width="0.15">0</text>
<text x="520.30" y="105.80" font-size="3.6" text-anchor="end" fill="#1a1a1a" font-family="Liberation Sans" stroke="#1a1a1a" stroke-width="0.15">−5</text>
<text x="520.30" y="110.90" font-size="3.6" text-anchor="end" fill="#1a1a1a" font-family="Liberation Sans" stroke="#1a1a1a" stroke-width="0.15">−10</text>
<text x="525.50" y="114.50" font-size="3.6" text-anchor="middle" fill="#1a1a1a" font-family="Liberation Sans" stroke="#1a1a1a" stroke-width="0.15">−5</text>
<text x="530.80" y="114.50" font-size="3.6" text-anchor="middle" fill="#1a1a1a" font-family="Liberation Sans" stroke="#1a1a1a" stroke-width="0.15">0</text>
<text x="536.40" y="114.50" font-size="3.6" text-anchor="middle" fill="#1a1a1a" font-family="Liberation Sans" stroke="#1a1a1a" stroke-width="0.15">5</text>
<text x="542.10" y="114.50" font-size="3.6" text-anchor="middle" fill="#1a1a1a" font-family="Liberation Sans" stroke="#1a1a1a" stroke-width="0.15">10</text>
<text x="547.80" y="114.50" font-size="3.6" text-anchor="middle" fill="#1a1a1a" font-family="Liberation Sans" stroke="#1a1a1a" stroke-width="0.15">15</text>
<path d="M520.7 89.3h0.9M520.7 94.4h0.9M520.7 99.4h0.9M520.7 104.5h0.9M520.7 109.6h0.9M525.5 109.8v0.9M530.8 109.8v0.9M536.4 109.8v0.9M542.1 109.8v0.9M547.8 109.8v0.9" stroke="#222" stroke-width="0.4"/>
<text x="535.60" y="118.58" font-size="4.1" text-anchor="middle" fill="#111" font-family="Liberation Sans" stroke="#111" stroke-width="0.15">umap_1</text>
<text x="512.00" y="101.08" font-size="4.1" text-anchor="middle" fill="#111" font-family="Liberation Sans" transform="rotate(-90 512.00 99.60)" stroke="#111" stroke-width="0.15">umap_2</text>
<rect x="552.80" y="88.60" width="4.60" height="21.00" fill="url(#gB)"/>
<text x="559.50" y="90.15" font-size="3.2" text-anchor="start" fill="#222" font-family="Liberation Sans">3</text>
<text x="559.50" y="97.05" font-size="3.2" text-anchor="start" fill="#222" font-family="Liberation Sans">2</text>
<text x="559.50" y="103.95" font-size="3.2" text-anchor="start" fill="#222" font-family="Liberation Sans">1</text>
<text x="559.50" y="110.75" font-size="3.2" text-anchor="start" fill="#222" font-family="Liberation Sans">0</text>
<g transform="matrix(0.175,0,0,0.150,481.45,88.07)">
<use href="#rb2" fill="#D5D5D5"/>
<use href="#rb1" fill="#D5D5D5"/>
<use href="#rb4" fill="#D5D5D5"/>
<use href="#rb3" fill="#D5D5D5"/>
<use href="#rb0" fill="#D5D5D5"/>
<use href="#rb5" fill="#D5D5D5"/>
<use href="#rb2" fill="#3F1EF2" opacity="0.41"/>
<use href="#rb2" fill="url(#bdots)" opacity="0.72"/>
<use href="#rb1" fill="#3F1EF2" opacity="0.34"/>
<use href="#rb1" fill="url(#bdots)" opacity="0.59"/>
<use href="#rb3" fill="#3F1EF2" opacity="0.11"/>
<use href="#rb3" fill="url(#bdots)" opacity="0.20"/>
<use href="#rb0" fill="#3F1EF2" opacity="0.08"/>
<use href="#rb0" fill="url(#bdots)" opacity="0.13"/>
</g>
<text transform="translate(590.00 86.12) scale(1 1.15)" font-size="4.4" text-anchor="middle" fill="#000" font-family="Liberation Sans" font-weight="bold">IGHG1</text>
<line x1="576.00" y1="88.60" x2="576.00" y2="109.80" stroke="#111" stroke-width="0.55"/>
<line x1="576.00" y1="109.80" x2="603.60" y2="109.80" stroke="#111" stroke-width="0.55"/>
<text x="574.70" y="90.60" font-size="3.6" text-anchor="end" fill="#1a1a1a" font-family="Liberation Sans" stroke="#1a1a1a" stroke-width="0.15">10</text>
<text x="574.70" y="95.70" font-size="3.6" text-anchor="end" fill="#1a1a1a" font-family="Liberation Sans" stroke="#1a1a1a" stroke-width="0.15">5</text>
<text x="574.70" y="100.70" font-size="3.6" text-anchor="end" fill="#1a1a1a" font-family="Liberation Sans" stroke="#1a1a1a" stroke-width="0.15">0</text>
<text x="574.70" y="105.80" font-size="3.6" text-anchor="end" fill="#1a1a1a" font-family="Liberation Sans" stroke="#1a1a1a" stroke-width="0.15">−5</text>
<text x="574.70" y="110.90" font-size="3.6" text-anchor="end" fill="#1a1a1a" font-family="Liberation Sans" stroke="#1a1a1a" stroke-width="0.15">−10</text>
<text x="579.90" y="114.50" font-size="3.6" text-anchor="middle" fill="#1a1a1a" font-family="Liberation Sans" stroke="#1a1a1a" stroke-width="0.15">−5</text>
<text x="585.20" y="114.50" font-size="3.6" text-anchor="middle" fill="#1a1a1a" font-family="Liberation Sans" stroke="#1a1a1a" stroke-width="0.15">0</text>
<text x="590.80" y="114.50" font-size="3.6" text-anchor="middle" fill="#1a1a1a" font-family="Liberation Sans" stroke="#1a1a1a" stroke-width="0.15">5</text>
<text x="596.50" y="114.50" font-size="3.6" text-anchor="middle" fill="#1a1a1a" font-family="Liberation Sans" stroke="#1a1a1a" stroke-width="0.15">10</text>
<text x="602.20" y="114.50" font-size="3.6" text-anchor="middle" fill="#1a1a1a" font-family="Liberation Sans" stroke="#1a1a1a" stroke-width="0.15">15</text>
<path d="M575.1 89.3h0.9M575.1 94.4h0.9M575.1 99.4h0.9M575.1 104.5h0.9M575.1 109.6h0.9M579.9 109.8v0.9M585.2 109.8v0.9M590.8 109.8v0.9M596.5 109.8v0.9M602.2 109.8v0.9" stroke="#222" stroke-width="0.4"/>
<text x="590.00" y="118.58" font-size="4.1" text-anchor="middle" fill="#111" font-family="Liberation Sans" stroke="#111" stroke-width="0.15">umap_1</text>
<text x="566.40" y="101.08" font-size="4.1" text-anchor="middle" fill="#111" font-family="Liberation Sans" transform="rotate(-90 566.40 99.60)" stroke="#111" stroke-width="0.15">umap_2</text>
<rect x="607.20" y="88.60" width="4.60" height="21.00" fill="url(#gB)"/>
<text x="613.90" y="90.15" font-size="3.2" text-anchor="start" fill="#222" font-family="Liberation Sans">3</text>
<text x="613.90" y="97.05" font-size="3.2" text-anchor="start" fill="#222" font-family="Liberation Sans">2</text>
<text x="613.90" y="103.95" font-size="3.2" text-anchor="start" fill="#222" font-family="Liberation Sans">1</text>
<text x="613.90" y="110.75" font-size="3.2" text-anchor="start" fill="#222" font-family="Liberation Sans">0</text>
<g transform="matrix(0.175,0,0,0.150,535.85,88.07)">
<use href="#rb2" fill="#D5D5D5"/>
<use href="#rb1" fill="#D5D5D5"/>
<use href="#rb4" fill="#D5D5D5"/>
<use href="#rb3" fill="#D5D5D5"/>
<use href="#rb0" fill="#D5D5D5"/>
<use href="#rb5" fill="#D5D5D5"/>
<use href="#rb2" fill="#3F1EF2" opacity="0.38"/>
<use href="#rb2" fill="url(#bdots)" opacity="0.65"/>
<use href="#rb1" fill="#3F1EF2" opacity="0.34"/>
<use href="#rb1" fill="url(#bdots)" opacity="0.59"/>
<use href="#rb0" fill="#3F1EF2" opacity="0.08"/>
<use href="#rb0" fill="url(#bdots)" opacity="0.13"/>
</g>
<text transform="translate(644.30 86.12) scale(1 1.15)" font-size="4.4" text-anchor="middle" fill="#000" font-family="Liberation Sans" font-weight="bold">CRIP1</text>
<line x1="630.30" y1="88.60" x2="630.30" y2="109.80" stroke="#111" stroke-width="0.55"/>
<line x1="630.30" y1="109.80" x2="657.90" y2="109.80" stroke="#111" stroke-width="0.55"/>
<text x="629.00" y="90.60" font-size="3.6" text-anchor="end" fill="#1a1a1a" font-family="Liberation Sans" stroke="#1a1a1a" stroke-width="0.15">10</text>
<text x="629.00" y="95.70" font-size="3.6" text-anchor="end" fill="#1a1a1a" font-family="Liberation Sans" stroke="#1a1a1a" stroke-width="0.15">5</text>
<text x="629.00" y="100.70" font-size="3.6" text-anchor="end" fill="#1a1a1a" font-family="Liberation Sans" stroke="#1a1a1a" stroke-width="0.15">0</text>
<text x="629.00" y="105.80" font-size="3.6" text-anchor="end" fill="#1a1a1a" font-family="Liberation Sans" stroke="#1a1a1a" stroke-width="0.15">−5</text>
<text x="629.00" y="110.90" font-size="3.6" text-anchor="end" fill="#1a1a1a" font-family="Liberation Sans" stroke="#1a1a1a" stroke-width="0.15">−10</text>
<text x="634.20" y="114.50" font-size="3.6" text-anchor="middle" fill="#1a1a1a" font-family="Liberation Sans" stroke="#1a1a1a" stroke-width="0.15">−5</text>
<text x="639.50" y="114.50" font-size="3.6" text-anchor="middle" fill="#1a1a1a" font-family="Liberation Sans" stroke="#1a1a1a" stroke-width="0.15">0</text>
<text x="645.10" y="114.50" font-size="3.6" text-anchor="middle" fill="#1a1a1a" font-family="Liberation Sans" stroke="#1a1a1a" stroke-width="0.15">5</text>
<text x="650.80" y="114.50" font-size="3.6" text-anchor="middle" fill="#1a1a1a" font-family="Liberation Sans" stroke="#1a1a1a" stroke-width="0.15">10</text>
<text x="656.50" y="114.50" font-size="3.6" text-anchor="middle" fill="#1a1a1a" font-family="Liberation Sans" stroke="#1a1a1a" stroke-width="0.15">15</text>
<path d="M629.4 89.3h0.9M629.4 94.4h0.9M629.4 99.4h0.9M629.4 104.5h0.9M629.4 109.6h0.9M634.2 109.8v0.9M639.5 109.8v0.9M645.1 109.8v0.9M650.8 109.8v0.9M656.5 109.8v0.9" stroke="#222" stroke-width="0.4"/>
<text x="644.30" y="118.58" font-size="4.1" text-anchor="middle" fill="#111" font-family="Liberation Sans" stroke="#111" stroke-width="0.15">umap_1</text>
<text x="620.70" y="101.08" font-size="4.1" text-anchor="middle" fill="#111" font-family="Liberation Sans" transform="rotate(-90 620.70 99.60)" stroke="#111" stroke-width="0.15">umap_2</text>
<rect x="661.50" y="88.60" width="4.60" height="21.00" fill="url(#gB)"/>
<text x="668.20" y="90.15" font-size="3.2" text-anchor="start" fill="#222" font-family="Liberation Sans">3</text>
<text x="668.20" y="97.05" font-size="3.2" text-anchor="start" fill="#222" font-family="Liberation Sans">2</text>
<text x="668.20" y="103.95" font-size="3.2" text-anchor="start" fill="#222" font-family="Liberation Sans">1</text>
<text x="668.20" y="110.75" font-size="3.2" text-anchor="start" fill="#222" font-family="Liberation Sans">0</text>
<g transform="matrix(0.175,0,0,0.150,590.15,88.07)">
<use href="#rb2" fill="#D5D5D5"/>
<use href="#rb1" fill="#D5D5D5"/>
<use href="#rb4" fill="#D5D5D5"/>
<use href="#rb3" fill="#D5D5D5"/>
<use href="#rb0" fill="#D5D5D5"/>
<use href="#rb5" fill="#D5D5D5"/>
<use href="#rb2" fill="#3F1EF2" opacity="0.60"/>
<use href="#rb2" fill="url(#bdots)" opacity="1.00"/>
<use href="#rb1" fill="#3F1EF2" opacity="0.56"/>
<use href="#rb1" fill="url(#bdots)" opacity="0.98"/>
<use href="#rb3" fill="#3F1EF2" opacity="0.56"/>
<use href="#rb3" fill="url(#bdots)" opacity="0.98"/>
<use href="#rb0" fill="#3F1EF2" opacity="0.52"/>
<use href="#rb0" fill="url(#bdots)" opacity="0.91"/>
<use href="#rb5" fill="#3F1EF2" opacity="0.45"/>
<use href="#rb5" fill="url(#bdots)" opacity="0.78"/>
</g>
<text transform="translate(481.30 126.92) scale(1 1.15)" font-size="4.4" text-anchor="middle" fill="#000" font-family="Liberation Sans" font-weight="bold">IL32</text>
<line x1="467.30" y1="129.40" x2="467.30" y2="150.60" stroke="#111" stroke-width="0.55"/>
<line x1="467.30" y1="150.60" x2="494.90" y2="150.60" stroke="#111" stroke-width="0.55"/>
<text x="466.00" y="131.40" font-size="3.6" text-anchor="end" fill="#1a1a1a" font-family="Liberation Sans" stroke="#1a1a1a" stroke-width="0.15">10</text>
<text x="466.00" y="136.50" font-size="3.6" text-anchor="end" fill="#1a1a1a" font-family="Liberation Sans" stroke="#1a1a1a" stroke-width="0.15">5</text>
<text x="466.00" y="141.50" font-size="3.6" text-anchor="end" fill="#1a1a1a" font-family="Liberation Sans" stroke="#1a1a1a" stroke-width="0.15">0</text>
<text x="466.00" y="146.60" font-size="3.6" text-anchor="end" fill="#1a1a1a" font-family="Liberation Sans" stroke="#1a1a1a" stroke-width="0.15">−5</text>
<text x="466.00" y="151.70" font-size="3.6" text-anchor="end" fill="#1a1a1a" font-family="Liberation Sans" stroke="#1a1a1a" stroke-width="0.15">−10</text>
<text x="471.20" y="155.30" font-size="3.6" text-anchor="middle" fill="#1a1a1a" font-family="Liberation Sans" stroke="#1a1a1a" stroke-width="0.15">−5</text>
<text x="476.50" y="155.30" font-size="3.6" text-anchor="middle" fill="#1a1a1a" font-family="Liberation Sans" stroke="#1a1a1a" stroke-width="0.15">0</text>
<text x="482.10" y="155.30" font-size="3.6" text-anchor="middle" fill="#1a1a1a" font-family="Liberation Sans" stroke="#1a1a1a" stroke-width="0.15">5</text>
<text x="487.80" y="155.30" font-size="3.6" text-anchor="middle" fill="#1a1a1a" font-family="Liberation Sans" stroke="#1a1a1a" stroke-width="0.15">10</text>
<text x="493.50" y="155.30" font-size="3.6" text-anchor="middle" fill="#1a1a1a" font-family="Liberation Sans" stroke="#1a1a1a" stroke-width="0.15">15</text>
<path d="M466.4 130.1h0.9M466.4 135.2h0.9M466.4 140.2h0.9M466.4 145.3h0.9M466.4 150.4h0.9M471.2 150.6v0.9M476.5 150.6v0.9M482.1 150.6v0.9M487.8 150.6v0.9M493.5 150.6v0.9" stroke="#222" stroke-width="0.4"/>
<text x="481.30" y="159.38" font-size="4.1" text-anchor="middle" fill="#111" font-family="Liberation Sans" stroke="#111" stroke-width="0.15">umap_1</text>
<text x="457.70" y="141.88" font-size="4.1" text-anchor="middle" fill="#111" font-family="Liberation Sans" transform="rotate(-90 457.70 140.40)" stroke="#111" stroke-width="0.15">umap_2</text>
<rect x="498.50" y="129.40" width="4.60" height="21.00" fill="url(#gB)"/>
<text x="505.20" y="130.95" font-size="3.2" text-anchor="start" fill="#222" font-family="Liberation Sans">3</text>
<text x="505.20" y="137.85" font-size="3.2" text-anchor="start" fill="#222" font-family="Liberation Sans">2</text>
<text x="505.20" y="144.75" font-size="3.2" text-anchor="start" fill="#222" font-family="Liberation Sans">1</text>
<text x="505.20" y="151.55" font-size="3.2" text-anchor="start" fill="#222" font-family="Liberation Sans">0</text>
<g transform="matrix(0.175,0,0,0.150,427.15,128.87)">
<use href="#rb2" fill="#D5D5D5"/>
<use href="#rb1" fill="#D5D5D5"/>
<use href="#rb4" fill="#D5D5D5"/>
<use href="#rb3" fill="#D5D5D5"/>
<use href="#rb0" fill="#D5D5D5"/>
<use href="#rb5" fill="#D5D5D5"/>
<use href="#rb3" fill="#3F1EF2" opacity="0.68"/>
<use href="#rb3" fill="url(#bdots)" opacity="1.00"/>
<use href="#rb0" fill="#3F1EF2" opacity="0.22"/>
<use href="#rb0" fill="url(#bdots)" opacity="0.39"/>
</g>
<text transform="translate(535.60 126.92) scale(1 1.15)" font-size="4.4" text-anchor="middle" fill="#000" font-family="Liberation Sans" font-weight="bold">AIF1</text>
<line x1="521.60" y1="129.40" x2="521.60" y2="150.60" stroke="#111" stroke-width="0.55"/>
<line x1="521.60" y1="150.60" x2="549.20" y2="150.60" stroke="#111" stroke-width="0.55"/>
<text x="520.30" y="131.40" font-size="3.6" text-anchor="end" fill="#1a1a1a" font-family="Liberation Sans" stroke="#1a1a1a" stroke-width="0.15">10</text>
<text x="520.30" y="136.50" font-size="3.6" text-anchor="end" fill="#1a1a1a" font-family="Liberation Sans" stroke="#1a1a1a" stroke-width="0.15">5</text>
<text x="520.30" y="141.50" font-size="3.6" text-anchor="end" fill="#1a1a1a" font-family="Liberation Sans" stroke="#1a1a1a" stroke-width="0.15">0</text>
<text x="520.30" y="146.60" font-size="3.6" text-anchor="end" fill="#1a1a1a" font-family="Liberation Sans" stroke="#1a1a1a" stroke-width="0.15">−5</text>
<text x="520.30" y="151.70" font-size="3.6" text-anchor="end" fill="#1a1a1a" font-family="Liberation Sans" stroke="#1a1a1a" stroke-width="0.15">−10</text>
<text x="525.50" y="155.30" font-size="3.6" text-anchor="middle" fill="#1a1a1a" font-family="Liberation Sans" stroke="#1a1a1a" stroke-width="0.15">−5</text>
<text x="530.80" y="155.30" font-size="3.6" text-anchor="middle" fill="#1a1a1a" font-family="Liberation Sans" stroke="#1a1a1a" stroke-width="0.15">0</text>
<text x="536.40" y="155.30" font-size="3.6" text-anchor="middle" fill="#1a1a1a" font-family="Liberation Sans" stroke="#1a1a1a" stroke-width="0.15">5</text>
<text x="542.10" y="155.30" font-size="3.6" text-anchor="middle" fill="#1a1a1a" font-family="Liberation Sans" stroke="#1a1a1a" stroke-width="0.15">10</text>
<text x="547.80" y="155.30" font-size="3.6" text-anchor="middle" fill="#1a1a1a" font-family="Liberation Sans" stroke="#1a1a1a" stroke-width="0.15">15</text>
<path d="M520.7 130.1h0.9M520.7 135.2h0.9M520.7 140.2h0.9M520.7 145.3h0.9M520.7 150.4h0.9M525.5 150.6v0.9M530.8 150.6v0.9M536.4 150.6v0.9M542.1 150.6v0.9M547.8 150.6v0.9" stroke="#222" stroke-width="0.4"/>
<text x="535.60" y="159.38" font-size="4.1" text-anchor="middle" fill="#111" font-family="Liberation Sans" stroke="#111" stroke-width="0.15">umap_1</text>
<text x="512.00" y="141.88" font-size="4.1" text-anchor="middle" fill="#111" font-family="Liberation Sans" transform="rotate(-90 512.00 140.40)" stroke="#111" stroke-width="0.15">umap_2</text>
<rect x="552.80" y="129.40" width="4.60" height="21.00" fill="url(#gB)"/>
<text x="559.50" y="130.95" font-size="3.2" text-anchor="start" fill="#222" font-family="Liberation Sans">3</text>
<text x="559.50" y="137.85" font-size="3.2" text-anchor="start" fill="#222" font-family="Liberation Sans">2</text>
<text x="559.50" y="144.75" font-size="3.2" text-anchor="start" fill="#222" font-family="Liberation Sans">1</text>
<text x="559.50" y="151.55" font-size="3.2" text-anchor="start" fill="#222" font-family="Liberation Sans">0</text>
<g transform="matrix(0.175,0,0,0.150,481.45,128.87)">
<use href="#rb2" fill="#D5D5D5"/>
<use href="#rb1" fill="#D5D5D5"/>
<use href="#rb4" fill="#D5D5D5"/>
<use href="#rb3" fill="#D5D5D5"/>
<use href="#rb0" fill="#D5D5D5"/>
<use href="#rb5" fill="#D5D5D5"/>
<use href="#rb0" fill="#3F1EF2" opacity="0.60"/>
<use href="#rb0" fill="url(#bdots)" opacity="1.00"/>
<use href="#rb3" fill="#3F1EF2" opacity="0.15"/>
<use href="#rb3" fill="url(#bdots)" opacity="0.26"/>
</g>
<text transform="translate(590.00 126.92) scale(1 1.15)" font-size="4.4" text-anchor="middle" fill="#000" font-family="Liberation Sans" font-weight="bold">MZB1</text>
<line x1="576.00" y1="129.40" x2="576.00" y2="150.60" stroke="#111" stroke-width="0.55"/>
<line x1="576.00" y1="150.60" x2="603.60" y2="150.60" stroke="#111" stroke-width="0.55"/>
<text x="574.70" y="131.40" font-size="3.6" text-anchor="end" fill="#1a1a1a" font-family="Liberation Sans" stroke="#1a1a1a" stroke-width="0.15">10</text>
<text x="574.70" y="136.50" font-size="3.6" text-anchor="end" fill="#1a1a1a" font-family="Liberation Sans" stroke="#1a1a1a" stroke-width="0.15">5</text>
<text x="574.70" y="141.50" font-size="3.6" text-anchor="end" fill="#1a1a1a" font-family="Liberation Sans" stroke="#1a1a1a" stroke-width="0.15">0</text>
<text x="574.70" y="146.60" font-size="3.6" text-anchor="end" fill="#1a1a1a" font-family="Liberation Sans" stroke="#1a1a1a" stroke-width="0.15">−5</text>
<text x="574.70" y="151.70" font-size="3.6" text-anchor="end" fill="#1a1a1a" font-family="Liberation Sans" stroke="#1a1a1a" stroke-width="0.15">−10</text>
<text x="579.90" y="155.30" font-size="3.6" text-anchor="middle" fill="#1a1a1a" font-family="Liberation Sans" stroke="#1a1a1a" stroke-width="0.15">−5</text>
<text x="585.20" y="155.30" font-size="3.6" text-anchor="middle" fill="#1a1a1a" font-family="Liberation Sans" stroke="#1a1a1a" stroke-width="0.15">0</text>
<text x="590.80" y="155.30" font-size="3.6" text-anchor="middle" fill="#1a1a1a" font-family="Liberation Sans" stroke="#1a1a1a" stroke-width="0.15">5</text>
<text x="596.50" y="155.30" font-size="3.6" text-anchor="middle" fill="#1a1a1a" font-family="Liberation Sans" stroke="#1a1a1a" stroke-width="0.15">10</text>
<text x="602.20" y="155.30" font-size="3.6" text-anchor="middle" fill="#1a1a1a" font-family="Liberation Sans" stroke="#1a1a1a" stroke-width="0.15">15</text>
<path d="M575.1 130.1h0.9M575.1 135.2h0.9M575.1 140.2h0.9M575.1 145.3h0.9M575.1 150.4h0.9M579.9 150.6v0.9M585.2 150.6v0.9M590.8 150.6v0.9M596.5 150.6v0.9M602.2 150.6v0.9" stroke="#222" stroke-width="0.4"/>
<text x="590.00" y="159.38" font-size="4.1" text-anchor="middle" fill="#111" font-family="Liberation Sans" stroke="#111" stroke-width="0.15">umap_1</text>
<text x="566.40" y="141.88" font-size="4.1" text-anchor="middle" fill="#111" font-family="Liberation Sans" transform="rotate(-90 566.40 140.40)" stroke="#111" stroke-width="0.15">umap_2</text>
<rect x="607.20" y="129.40" width="4.60" height="21.00" fill="url(#gB)"/>
<text x="613.90" y="130.95" font-size="3.2" text-anchor="start" fill="#222" font-family="Liberation Sans">3</text>
<text x="613.90" y="137.85" font-size="3.2" text-anchor="start" fill="#222" font-family="Liberation Sans">2</text>
<text x="613.90" y="144.75" font-size="3.2" text-anchor="start" fill="#222" font-family="Liberation Sans">1</text>
<text x="613.90" y="151.55" font-size="3.2" text-anchor="start" fill="#222" font-family="Liberation Sans">0</text>
<g transform="matrix(0.175,0,0,0.150,535.85,128.87)">
<use href="#rb2" fill="#D5D5D5"/>
<use href="#rb1" fill="#D5D5D5"/>
<use href="#rb4" fill="#D5D5D5"/>
<use href="#rb3" fill="#D5D5D5"/>
<use href="#rb0" fill="#D5D5D5"/>
<use href="#rb5" fill="#D5D5D5"/>
<use href="#rb5" fill="#3F1EF2" opacity="0.30"/>
<use href="#rb5" fill="url(#bdots)" opacity="0.52"/>
<use href="#rb4" fill="#3F1EF2" opacity="0.06"/>
<use href="#rb4" fill="url(#bdots)" opacity="0.10"/>
<use href="#rb0" fill="#3F1EF2" opacity="0.15"/>
<use href="#rb0" fill="url(#bdots)" opacity="0.26"/>
</g>
<text transform="translate(644.30 126.92) scale(1 1.15)" font-size="4.4" text-anchor="middle" fill="#000" font-family="Liberation Sans" font-weight="bold">JCHAIN</text>
<line x1="630.30" y1="129.40" x2="630.30" y2="150.60" stroke="#111" stroke-width="0.55"/>
<line x1="630.30" y1="150.60" x2="657.90" y2="150.60" stroke="#111" stroke-width="0.55"/>
<text x="629.00" y="131.40" font-size="3.6" text-anchor="end" fill="#1a1a1a" font-family="Liberation Sans" stroke="#1a1a1a" stroke-width="0.15">10</text>
<text x="629.00" y="136.50" font-size="3.6" text-anchor="end" fill="#1a1a1a" font-family="Liberation Sans" stroke="#1a1a1a" stroke-width="0.15">5</text>
<text x="629.00" y="141.50" font-size="3.6" text-anchor="end" fill="#1a1a1a" font-family="Liberation Sans" stroke="#1a1a1a" stroke-width="0.15">0</text>
<text x="629.00" y="146.60" font-size="3.6" text-anchor="end" fill="#1a1a1a" font-family="Liberation Sans" stroke="#1a1a1a" stroke-width="0.15">−5</text>
<text x="629.00" y="151.70" font-size="3.6" text-anchor="end" fill="#1a1a1a" font-family="Liberation Sans" stroke="#1a1a1a" stroke-width="0.15">−10</text>
<text x="634.20" y="155.30" font-size="3.6" text-anchor="middle" fill="#1a1a1a" font-family="Liberation Sans" stroke="#1a1a1a" stroke-width="0.15">−5</text>
<text x="639.50" y="155.30" font-size="3.6" text-anchor="middle" fill="#1a1a1a" font-family="Liberation Sans" stroke="#1a1a1a" stroke-width="0.15">0</text>
<text x="645.10" y="155.30" font-size="3.6" text-anchor="middle" fill="#1a1a1a" font-family="Liberation Sans" stroke="#1a1a1a" stroke-width="0.15">5</text>
<text x="650.80" y="155.30" font-size="3.6" text-anchor="middle" fill="#1a1a1a" font-family="Liberation Sans" stroke="#1a1a1a" stroke-width="0.15">10</text>
<text x="656.50" y="155.30" font-size="3.6" text-anchor="middle" fill="#1a1a1a" font-family="Liberation Sans" stroke="#1a1a1a" stroke-width="0.15">15</text>
<path d="M629.4 130.1h0.9M629.4 135.2h0.9M629.4 140.2h0.9M629.4 145.3h0.9M629.4 150.4h0.9M634.2 150.6v0.9M639.5 150.6v0.9M645.1 150.6v0.9M650.8 150.6v0.9M656.5 150.6v0.9" stroke="#222" stroke-width="0.4"/>
<text x="644.30" y="159.38" font-size="4.1" text-anchor="middle" fill="#111" font-family="Liberation Sans" stroke="#111" stroke-width="0.15">umap_1</text>
<text x="620.70" y="141.88" font-size="4.1" text-anchor="middle" fill="#111" font-family="Liberation Sans" transform="rotate(-90 620.70 140.40)" stroke="#111" stroke-width="0.15">umap_2</text>
<rect x="661.50" y="129.40" width="4.60" height="21.00" fill="url(#gB)"/>
<text x="668.20" y="130.95" font-size="3.2" text-anchor="start" fill="#222" font-family="Liberation Sans">3</text>
<text x="668.20" y="137.85" font-size="3.2" text-anchor="start" fill="#222" font-family="Liberation Sans">2</text>
<text x="668.20" y="144.75" font-size="3.2" text-anchor="start" fill="#222" font-family="Liberation Sans">1</text>
<text x="668.20" y="151.55" font-size="3.2" text-anchor="start" fill="#222" font-family="Liberation Sans">0</text>
<g transform="matrix(0.175,0,0,0.150,590.15,128.87)">
<use href="#rb2" fill="#D5D5D5"/>
<use href="#rb1" fill="#D5D5D5"/>
<use href="#rb4" fill="#D5D5D5"/>
<use href="#rb3" fill="#D5D5D5"/>
<use href="#rb0" fill="#D5D5D5"/>
<use href="#rb5" fill="#D5D5D5"/>
<use href="#rb5" fill="#3F1EF2" opacity="0.45"/>
<use href="#rb5" fill="url(#bdots)" opacity="0.78"/>
<use href="#rb2" fill="#3F1EF2" opacity="0.19"/>
<use href="#rb2" fill="url(#bdots)" opacity="0.33"/>
<use href="#rb1" fill="#3F1EF2" opacity="0.19"/>
<use href="#rb1" fill="url(#bdots)" opacity="0.33"/>
<use href="#rb4" fill="#3F1EF2" opacity="0.15"/>
<use href="#rb4" fill="url(#bdots)" opacity="0.26"/>
<use href="#rb0" fill="#3F1EF2" opacity="0.15"/>
<use href="#rb0" fill="url(#bdots)" opacity="0.26"/>
</g>
<text x="5.50" y="176.90" font-size="15" font-weight="bold" font-family="Liberation Serif" fill="#000">C</text>
<line x1="32.80" y1="164.40" x2="32.80" y2="206.40" stroke="#BBB" stroke-width="0.4"/>
<line x1="32.80" y1="206.40" x2="86.00" y2="206.40" stroke="#BBB" stroke-width="0.4"/>
<text x="34.80" y="208.85" font-size="1.8" text-anchor="middle" fill="#777" font-family="Liberation Sans">0</text>
<text x="46.10" y="208.85" font-size="1.8" text-anchor="middle" fill="#777" font-family="Liberation Sans">5</text>
<text x="57.40" y="208.85" font-size="1.8" text-anchor="middle" fill="#777" font-family="Liberation Sans">10</text>
<text x="68.70" y="208.85" font-size="1.8" text-anchor="middle" fill="#777" font-family="Liberation Sans">15</text>
<text x="80.00" y="208.85" font-size="1.8" text-anchor="middle" fill="#777" font-family="Liberation Sans">20</text>
<text x="59.40" y="211.08" font-size="1.9" text-anchor="middle" fill="#777" font-family="Liberation Sans">Pseudo time</text>
<text x="27.60" y="186.08" font-size="1.9" text-anchor="middle" fill="#777" font-family="Liberation Sans" transform="rotate(-90 27.60 185.40)">Relative Expression</text>
<text x="31.80" y="173.08" font-size="1.9" text-anchor="end" fill="#777" font-family="Liberation Sans">10.0</text>
<text x="31.80" y="186.08" font-size="1.9" text-anchor="end" fill="#777" font-family="Liberation Sans">1.0</text>
<text x="31.80" y="204.58" font-size="1.9" text-anchor="end" fill="#777" font-family="Liberation Sans">0.1</text>
<g stroke-width="1.2" opacity="0.9"><path d="M34.4 179.3h1.2M35.7 179.3h1.2M36.9 179.3h1.2M38.2 179.3h1.2M39.5 179.3h1.2M40.7 179.3h1.2M42.0 179.3h1.2M43.3 179.3h1.2M44.5 179.3h1.2M45.8 179.3h1.2M47.0 179.3h1.2M48.3 179.3h1.2" stroke="#619CFF"/><path d="M49.6 179.3h1.2M50.8 179.3h1.2M52.1 179.3h1.2M53.4 179.3h1.2M54.6 179.3h1.2M55.9 179.3h1.2" stroke="#00BFC4"/><path d="M58.4 179.3h1.2M59.7 179.3h1.2M61.0 179.3h1.2" stroke="#00BA38"/><path d="M62.2 179.3h1.2M63.5 179.3h1.2M64.8 179.3h1.2" stroke="#B79F00"/><path d="M66.0 179.3h1.2M67.3 179.3h1.2M68.6 179.3h1.2M69.8 179.3h1.2M71.1 179.3h1.2M72.3 179.3h1.2M73.6 179.3h1.2" stroke="#F8766D"/><path d="M74.9 179.3h1.2M76.1 179.3h1.2M77.4 179.3h1.2M78.7 179.3h1.2M79.9 179.3h1.2M81.2 179.3h1.2M82.5 179.3h1.2M83.7 179.3h1.2" stroke="#F564E3"/></g>
<g stroke-width="1.2" opacity="0.9"><path d="M34.4 182.3h1.2M35.7 182.3h1.2M36.9 182.3h1.2M38.2 182.3h1.2M39.5 182.3h1.2M40.7 182.3h1.2M42.0 182.3h1.2M43.3 182.3h1.2M44.5 182.3h1.2M45.8 182.3h1.2M47.0 182.3h1.2M48.3 182.3h1.2" stroke="#619CFF"/><path d="M49.6 182.3h1.2M50.8 182.3h1.2M52.1 182.3h1.2M53.4 182.3h1.2M54.6 182.3h1.2M55.9 182.3h1.2" stroke="#00BFC4"/><path d="M57.2 182.3h1.2M58.4 182.3h1.2M59.7 182.3h1.2" stroke="#00BA38"/><path d="M62.2 182.3h1.2M63.5 182.3h1.2M64.8 182.3h1.2" stroke="#B79F00"/><path d="M66.0 182.3h1.2M67.3 182.3h1.2M68.6 182.3h1.2M69.8 182.3h1.2M71.1 182.3h1.2M72.3 182.3h1.2M73.6 182.3h1.2" stroke="#F8766D"/><path d="M74.9 182.3h1.2M76.1 182.3h1.2M77.4 182.3h1.2M78.7 182.3h1.2M81.2 182.3h1.2M82.5 182.3h1.2M83.7 182.3h1.2" stroke="#F564E3"/></g>
<g stroke-width="1.2" opacity="0.9"><path d="M34.4 187.3h1.2M35.7 187.3h1.2M36.9 187.3h1.2M38.2 187.3h1.2M39.5 187.3h1.2M40.7 187.3h1.2M42.0 187.3h1.2M43.3 187.3h1.2M44.5 187.3h1.2M47.0 187.3h1.2M48.3 187.3h1.2" stroke="#619CFF"/><path d="M50.8 187.3h1.2M52.1 187.3h1.2M53.4 187.3h1.2M54.6 187.3h1.2M55.9 187.3h1.2" stroke="#00BFC4"/><path d="M57.2 187.3h1.2M58.4 187.3h1.2M59.7 187.3h1.2M61.0 187.3h1.2" stroke="#00BA38"/><path d="M62.2 187.3h1.2M63.5 187.3h1.2" stroke="#B79F00"/><path d="M66.0 187.3h1.2M67.3 187.3h1.2M68.6 187.3h1.2M69.8 187.3h1.2M71.1 187.3h1.2M72.3 187.3h1.2M73.6 187.3h1.2" stroke="#F8766D"/><path d="M74.9 187.3h1.2M76.1 187.3h1.2M77.4 187.3h1.2M78.7 187.3h1.2M79.9 187.3h1.2M81.2 187.3h1.2M82.5 187.3h1.2" stroke="#F564E3"/></g>
<g stroke-width="1.2" opacity="0.9"><path d="M34.4 203.8h1.2M35.7 203.8h1.2M36.9 203.8h1.2M38.2 203.8h1.2M39.5 203.8h1.2M40.7 203.8h1.2M42.0 203.8h1.2M43.3 203.8h1.2M44.5 203.8h1.2M45.8 203.8h1.2M47.0 203.8h1.2M48.3 203.8h1.2M49.6 203.8h1.2M50.8 203.8h1.2M52.1 203.8h1.2M53.4 203.8h1.2M54.6 203.8h1.2" stroke="#619CFF"/><path d="M55.9 203.8h1.2M57.2 203.8h1.2M58.4 203.8h1.2" stroke="#00BFC4"/><path d="M59.7 203.8h1.2M61.0 203.8h1.2M62.2 203.8h1.2" stroke="#00BA38"/><path d="M63.5 203.8h1.2M64.8 203.8h1.2" stroke="#B79F00"/><path d="M66.0 203.8h1.2M67.3 203.8h1.2M68.6 203.8h1.2M69.8 203.8h1.2M71.1 203.8h1.2M72.3 203.8h1.2M73.6 203.8h1.2" stroke="#F8766D"/><path d="M74.9 203.8h1.2M76.1 203.8h1.2M77.4 203.8h1.2M78.7 203.8h1.2M79.9 203.8h1.2M81.2 203.8h1.2M82.5 203.8h1.2M83.7 203.8h1.2" stroke="#F564E3"/></g>
<g opacity="0.9" stroke-width="0.75"><path d="M49.7 172.0h.7M35.4 176.2h.7M48.6 176.1h.7M38.7 176.1h.7M35.4 174.8h.7M35.6 172.2h.7M35.2 173.6h.7M37.4 167.0h.7M47.6 177.3h.7M34.2 172.2h.7M47.3 167.0h.7M47.4 174.8h.7M47.5 177.5h.7M34.5 176.0h.7M42.9 166.9h.7M42.2 169.7h.7M49.5 175.9h.7M49.5 172.2h.7M52.1 176.0h.7M51.8 166.9h.7M44.3 173.7h.7M37.4 177.4h.7M37.7 174.7h.7M55.0 167.2h.7M48.8 176.2h.7M37.7 172.0h.7M36.5 167.1h.7M36.6 176.2h.7M44.3 172.3h.7M53.1 176.2h.7M36.4 172.2h.7M39.9 174.9h.7M41.1 176.2h.7M53.2 173.6h.7M37.7 177.3h.7M49.5 169.6h.7M48.8 176.1h.7M47.4 177.4h.7M37.8 173.3h.7M36.5 173.4h.7M52.9 177.3h.7M43.3 168.2h.7M47.3 170.9h.7M43.3 177.6h.7M51.8 170.9h.7M49.5 168.3h.7M34.5 175.9h.7M50.6 171.0h.7M44.0 173.6h.7M46.2 177.3h.7M38.7 167.0h.7M48.8 173.4h.7M48.4 177.5h.7M41.1 174.9h.7M45.5 177.6h.7M44.1 177.4h.7M34.1 169.4h.7M36.5 169.5h.7M47.6 170.8h.7M44.0 168.2h.7M41.1 177.5h.7M47.7 171.0h.7M46.3 172.4h.7M55.0 174.9h.7M38.6 177.4h.7M40.0 173.4h.7M46.6 177.5h.7M54.2 170.9h.7M46.2 172.3h.7M47.7 177.5h.7M38.5 174.9h.7M42.9 176.1h.7M52.9 169.6h.7M52.8 174.7h.7M39.8 177.5h.7M45.2 168.1h.7M35.3 174.6h.7M45.5 174.9h.7M38.6 176.0h.7M36.7 169.7h.7M47.4 170.9h.7M49.9 166.9h.7M36.4 177.5h.7M54.1 169.8h.7" stroke="#7FB0FF"/><path d="M44.2 168.1h.7M38.9 172.0h.7M47.7 171.0h.7M54.3 177.3h.7M41.1 170.9h.7M53.9 174.9h.7M47.6 176.3h.7M44.2 172.1h.7M47.6 177.6h.7M35.6 167.1h.7M38.5 173.3h.7M51.0 173.3h.7M53.2 177.4h.7M43.3 167.1h.7M48.7 177.3h.7M41.0 168.1h.7M37.4 169.5h.7M38.5 167.0h.7M37.8 169.8h.7M38.8 168.3h.7M54.0 167.2h.7M38.9 173.6h.7M52.9 172.1h.7M46.6 168.5h.7M45.5 173.3h.7M47.6 174.8h.7M44.0 168.2h.7M46.6 171.0h.7M50.8 177.3h.7M48.4 175.9h.7M52.1 177.3h.7M37.8 176.2h.7M38.8 176.2h.7M35.5 172.2h.7M46.4 173.7h.7M49.8 174.8h.7M43.0 168.5h.7M49.9 170.8h.7M37.7 176.0h.7M54.1 175.9h.7M51.8 177.4h.7M47.3 177.5h.7M45.1 176.1h.7M39.8 169.8h.7M44.0 172.3h.7M49.8 173.4h.7M42.0 176.3h.7M35.3 177.3h.7M48.7 173.5h.7M37.8 174.7h.7M38.5 166.8h.7M38.8 168.2h.7M44.1 168.4h.7M39.9 171.0h.7M39.7 169.6h.7M51.0 168.4h.7M42.2 169.6h.7M35.5 177.4h.7M36.4 171.0h.7M44.4 168.2h.7M37.5 166.9h.7M50.7 169.4h.7M35.5 170.9h.7M50.6 173.5h.7M52.0 177.5h.7M42.1 176.3h.7M39.7 176.1h.7M44.4 177.4h.7M44.1 173.6h.7M41.1 177.6h.7M45.4 174.9h.7M45.1 177.3h.7M46.4 174.7h.7M38.5 173.7h.7M47.6 177.3h.7M55.4 174.8h.7M42.9 176.1h.7M44.2 168.1h.7M40.0 173.5h.7M48.8 176.0h.7M47.7 176.1h.7M46.5 172.0h.7M51.9 168.3h.7M54.0 176.2h.7M37.8 174.9h.7M43.3 174.9h.7M47.7 177.6h.7M46.2 173.3h.7M44.2 174.8h.7M52.1 174.9h.7M49.8 173.4h.7M41.9 167.2h.7M34.4 166.8h.7M40.8 176.2h.7M38.8 176.2h.7M48.4 177.4h.7M51.0 168.4h.7M42.9 167.1h.7M54.0 167.0h.7M46.3 172.0h.7M41.0 177.4h.7M45.4 166.9h.7M50.7 173.6h.7M53.9 173.5h.7M53.9 176.2h.7M47.6 176.3h.7M38.6 173.3h.7M36.4 175.0h.7M41.9 168.3h.7M51.7 169.5h.7M47.5 174.9h.7M40.9 170.7h.7M37.8 174.9h.7M50.6 176.1h.7M38.8 176.1h.7M48.6 172.2h.7M41.8 174.8h.7M45.5 173.7h.7M38.6 172.1h.7M36.6 177.5h.7M35.6 173.5h.7M44.2 172.1h.7M54.1 172.1h.7M39.8 174.7h.7M48.6 177.5h.7M38.6 174.6h.7M34.5 176.3h.7M52.0 172.3h.7M36.4 177.2h.7M44.1 173.4h.7M54.0 174.7h.7M47.7 169.5h.7M46.4 176.1h.7M43.2 176.1h.7M41.9 174.7h.7M36.6 174.9h.7M53.2 169.5h.7M39.6 172.0h.7M53.2 177.2h.7M45.5 169.5h.7M40.0 177.3h.7M37.5 172.2h.7M45.5 177.5h.7M39.7 176.1h.7M44.0 173.3h.7M38.5 177.3h.7M35.5 174.8h.7M52.9 174.9h.7M52.0 173.4h.7M35.2 176.1h.7M54.0 173.5h.7M37.4 175.0h.7M36.6 177.4h.7M49.8 177.4h.7M40.0 172.2h.7M48.7 172.2h.7M44.3 173.5h.7M53.1 176.0h.7M36.7 168.4h.7M50.8 174.9h.7M45.1 167.0h.7M40.8 177.5h.7M50.6 176.1h.7M35.3 176.2h.7M35.4 166.8h.7M44.0 172.4h.7M45.1 177.2h.7M51.7 174.8h.7M47.5 167.2h.7M38.5 172.1h.7M54.3 177.3h.7M53.9 176.2h.7M46.6 172.3h.7M51.7 168.4h.7M43.1 168.1h.7M46.5 171.1h.7M52.9 176.1h.7M41.8 174.9h.7M47.4 169.8h.7M43.2 177.4h.7M35.3 169.5h.7M43.0 168.3h.7M45.1 176.3h.7M39.9 176.2h.7M52.8 170.9h.7M47.7 173.4h.7M49.9 169.6h.7M50.8 174.7h.7M35.3 173.4h.7M50.8 177.3h.7M39.6 175.0h.7M37.7 167.1h.7M51.9 170.8h.7M41.0 177.3h.7M43.1 176.0h.7M49.5 176.1h.7M38.5 177.5h.7M38.6 174.8h.7M53.0 174.8h.7M48.7 168.2h.7M37.8 174.8h.7M47.4 176.0h.7M44.1 169.6h.7M43.2 169.7h.7M49.6 172.0h.7M36.4 170.9h.7M48.8 177.3h.7M35.3 176.1h.7M39.7 170.8h.7M38.7 168.4h.7M53.2 177.4h.7M52.0 169.6h.7M52.1 175.0h.7M50.8 177.6h.7M52.8 168.2h.7M54.1 177.3h.7M50.6 176.0h.7M46.6 174.6h.7M46.6 172.1h.7M55.0 176.1h.7M49.9 169.8h.7M40.0 177.2h.7M44.2 177.4h.7M52.9 169.7h.7M37.6 173.5h.7M52.8 168.5h.7M47.3 171.1h.7M35.5 177.5h.7M37.7 177.5h.7M51.8 167.0h.7M37.4 170.8h.7M52.8 174.9h.7M50.9 169.7h.7M41.1 177.5h.7M44.4 173.4h.7M34.1 174.8h.7M55.1 174.8h.7M37.4 168.2h.7M47.5 168.3h.7M54.9 173.2h.7M54.8 172.1h.7M55.0 175.6h.7M54.9 169.3h.7M54.6 170.7h.7M54.8 174.4h.7" stroke="#619CFF"/><path d="M44.3 168.4h.7M44.2 176.1h.7M52.0 177.3h.7M45.5 167.2h.7M38.6 177.3h.7M43.3 176.1h.7M50.7 177.3h.7M54.2 170.8h.7M41.9 177.5h.7M41.1 174.8h.7M44.2 174.9h.7M49.7 177.6h.7M35.4 168.4h.7M52.8 171.0h.7M50.9 170.7h.7M47.7 176.2h.7M54.3 168.1h.7M46.2 169.8h.7M44.2 173.4h.7M44.3 170.8h.7M46.3 173.3h.7M38.7 170.9h.7M40.0 168.1h.7M45.5 173.5h.7M37.7 177.4h.7M34.3 177.6h.7M46.6 173.4h.7M35.6 170.8h.7M50.6 172.2h.7M50.7 171.0h.7M35.3 170.9h.7M48.4 176.1h.7M41.0 172.4h.7M36.3 174.8h.7M51.7 168.2h.7M49.7 176.1h.7M52.8 176.2h.7M54.0 170.9h.7M37.8 177.3h.7M53.1 168.2h.7M53.2 172.1h.7M50.7 174.8h.7M47.5 174.9h.7M37.8 173.5h.7M35.4 167.2h.7M51.0 177.2h.7M43.2 177.4h.7M46.2 175.0h.7M43.1 177.4h.7M46.2 169.6h.7M48.4 174.9h.7M48.8 173.7h.7M47.4 171.0h.7M52.9 177.6h.7M54.3 173.4h.7M41.9 177.2h.7M52.1 177.5h.7M38.5 170.9h.7M36.6 173.4h.7M37.8 173.3h.7M40.0 171.0h.7M42.0 172.1h.7M45.2 173.7h.7M54.2 170.9h.7M34.2 167.2h.7M37.6 177.5h.7M47.5 170.9h.7M55.9 170.7h.7M55.8 177.2h.7M55.8 175.6h.7M57.0 169.2h.7M57.9 171.8h.7M56.8 175.7h.7M59.3 175.7h.7M56.0 173.3h.7M58.0 177.0h.7M58.2 170.8h.7M57.2 174.5h.7M55.9 177.1h.7M57.9 178.4h.7M55.8 178.4h.7M55.7 170.5h.7M58.1 175.6h.7M55.8 177.3h.7" stroke="#00BFC4"/><path d="M79.0 174.6h.7M80.1 174.5h.7M84.4 174.6h.7M75.9 178.5h.7M82.3 174.6h.7M79.1 178.3h.7M82.1 174.5h.7M80.2 171.8h.7M77.0 173.4h.7M79.2 169.2h.7M82.5 174.5h.7M79.1 177.0h.7M82.4 178.2h.7M76.9 177.1h.7M77.9 178.3h.7M75.7 169.2h.7M78.9 177.2h.7M85.8 173.0h.7M79.0 174.3h.7M84.3 170.8h.7M81.3 174.5h.7M85.8 175.9h.7M80.0 174.4h.7M78.9 169.4h.7M77.7 178.5h.7M78.8 177.0h.7M75.9 178.4h.7M84.4 177.3h.7M79.2 170.6h.7M85.8 177.2h.7" stroke="#F564E3"/><path d="M63.5 175.8h.7M64.6 178.3h.7M65.7 177.1h.7M65.7 170.7h.7M64.7 177.0h.7" stroke="#B79F00"/><path d="M71.4 176.9h.7M65.9 171.8h.7M70.1 176.0h.7M67.8 177.2h.7M70.2 173.4h.7M72.4 173.3h.7M67.0 170.7h.7M69.2 177.3h.7M71.3 174.6h.7M65.9 176.9h.7M68.2 172.0h.7M67.1 175.7h.7M69.2 175.8h.7M73.5 173.3h.7M69.3 175.6h.7M65.8 175.8h.7M72.3 175.7h.7M68.0 170.7h.7M69.1 178.4h.7M71.3 174.4h.7M68.2 178.4h.7M73.4 173.1h.7M72.4 173.3h.7M72.5 177.1h.7M69.2 171.9h.7" stroke="#F8766D"/><path d="M61.4 171.9h.7M61.2 173.3h.7M61.3 169.3h.7M61.6 171.7h.7M61.5 176.9h.7M62.4 173.4h.7M61.2 171.9h.7" stroke="#00BA38"/></g>
<path d="M34.50,181.00C35.42,180.77 37.42,179.18 40.00,179.60C42.58,180.02 46.67,182.02 50.00,183.50C53.33,184.98 56.67,187.48 60.00,188.50C63.33,189.52 66.67,189.60 70.00,189.60C73.33,189.60 77.33,189.05 80.00,188.50C82.67,187.95 85.00,186.67 86.00,186.30" fill="none" stroke="#333" stroke-width="0.45"/>
<text x="64.40" y="167.66" font-size="4.6" text-anchor="middle" fill="#111" font-family="Liberation Sans">TCL1A</text>
<line x1="97.80" y1="164.40" x2="97.80" y2="206.40" stroke="#BBB" stroke-width="0.4"/>
<line x1="97.80" y1="206.40" x2="151.30" y2="206.40" stroke="#BBB" stroke-width="0.4"/>
<text x="99.80" y="208.85" font-size="1.8" text-anchor="middle" fill="#777" font-family="Liberation Sans">0</text>
<text x="111.17" y="208.85" font-size="1.8" text-anchor="middle" fill="#777" font-family="Liberation Sans">5</text>
<text x="122.55" y="208.85" font-size="1.8" text-anchor="middle" fill="#777" font-family="Liberation Sans">10</text>
<text x="133.93" y="208.85" font-size="1.8" text-anchor="middle" fill="#777" font-family="Liberation Sans">15</text>
<text x="145.30" y="208.85" font-size="1.8" text-anchor="middle" fill="#777" font-family="Liberation Sans">20</text>
<text x="124.55" y="211.08" font-size="1.9" text-anchor="middle" fill="#777" font-family="Liberation Sans">Pseudo time</text>
<text x="92.60" y="186.08" font-size="1.9" text-anchor="middle" fill="#777" font-family="Liberation Sans" transform="rotate(-90 92.60 185.40)">Relative Expression</text>
<text x="96.80" y="173.08" font-size="1.9" text-anchor="end" fill="#777" font-family="Liberation Sans">10.0</text>
<text x="96.80" y="186.08" font-size="1.9" text-anchor="end" fill="#777" font-family="Liberation Sans">1.0</text>
<text x="96.80" y="204.58" font-size="1.9" text-anchor="end" fill="#777" font-family="Liberation Sans">0.1</text>
<g stroke-width="1.2" opacity="0.9"><path d="M99.4 174.9h1.2M100.7 174.9h1.2M101.9 174.9h1.2M104.5 174.9h1.2M105.8 174.9h1.2M107.0 174.9h1.2M108.3 174.9h1.2M109.6 174.9h1.2M110.9 174.9h1.2M112.1 174.9h1.2M113.4 174.9h1.2" stroke="#619CFF"/><path d="M114.7 174.9h1.2M115.9 174.9h1.2M117.2 174.9h1.2M118.5 174.9h1.2M119.8 174.9h1.2M121.0 174.9h1.2" stroke="#00BFC4"/><path d="M122.3 174.9h1.2M123.6 174.9h1.2M124.8 174.9h1.2M126.1 174.9h1.2" stroke="#00BA38"/><path d="M127.4 174.9h1.2M128.7 174.9h1.2M129.9 174.9h1.2" stroke="#B79F00"/><path d="M131.2 174.9h1.2M132.5 174.9h1.2M133.8 174.9h1.2M135.0 174.9h1.2M136.3 174.9h1.2M137.6 174.9h1.2M138.8 174.9h1.2" stroke="#F8766D"/><path d="M140.1 174.9h1.2M141.4 174.9h1.2M142.7 174.9h1.2M143.9 174.9h1.2M145.2 174.9h1.2M146.5 174.9h1.2M147.8 174.9h1.2M149.0 174.9h1.2" stroke="#F564E3"/></g>
<g stroke-width="1.2" opacity="0.9"><path d="M99.4 178.0h1.2M100.7 178.0h1.2M101.9 178.0h1.2M103.2 178.0h1.2M104.5 178.0h1.2M105.8 178.0h1.2M107.0 178.0h1.2M108.3 178.0h1.2M109.6 178.0h1.2M110.9 178.0h1.2M112.1 178.0h1.2M113.4 178.0h1.2" stroke="#619CFF"/><path d="M114.7 178.0h1.2M115.9 178.0h1.2M117.2 178.0h1.2M118.5 178.0h1.2M119.8 178.0h1.2M121.0 178.0h1.2" stroke="#00BFC4"/><path d="M122.3 178.0h1.2M123.6 178.0h1.2M124.8 178.0h1.2M126.1 178.0h1.2" stroke="#00BA38"/><path d="M127.4 178.0h1.2M128.7 178.0h1.2M129.9 178.0h1.2" stroke="#B79F00"/><path d="M131.2 178.0h1.2M132.5 178.0h1.2M133.8 178.0h1.2M135.0 178.0h1.2M136.3 178.0h1.2M137.6 178.0h1.2M138.8 178.0h1.2" stroke="#F8766D"/><path d="M140.1 178.0h1.2M141.4 178.0h1.2M143.9 178.0h1.2M146.5 178.0h1.2M147.8 178.0h1.2M149.0 178.0h1.2" stroke="#F564E3"/></g>
<g stroke-width="1.2" opacity="0.9"><path d="M99.4 184.2h1.2M100.7 184.2h1.2M101.9 184.2h1.2M103.2 184.2h1.2M104.5 184.2h1.2M105.8 184.2h1.2M107.0 184.2h1.2M108.3 184.2h1.2M109.6 184.2h1.2M110.9 184.2h1.2M112.1 184.2h1.2M113.4 184.2h1.2" stroke="#619CFF"/><path d="M114.7 184.2h1.2M115.9 184.2h1.2M117.2 184.2h1.2M118.5 184.2h1.2M119.8 184.2h1.2M121.0 184.2h1.2" stroke="#00BFC4"/><path d="M122.3 184.2h1.2M123.6 184.2h1.2M124.8 184.2h1.2M126.1 184.2h1.2" stroke="#00BA38"/><path d="M127.4 184.2h1.2M128.7 184.2h1.2M129.9 184.2h1.2" stroke="#B79F00"/><path d="M131.2 184.2h1.2M132.5 184.2h1.2M133.8 184.2h1.2M135.0 184.2h1.2M136.3 184.2h1.2M138.8 184.2h1.2" stroke="#F8766D"/><path d="M140.1 184.2h1.2M141.4 184.2h1.2M143.9 184.2h1.2M145.2 184.2h1.2M146.5 184.2h1.2M147.8 184.2h1.2M149.0 184.2h1.2" stroke="#F564E3"/></g>
<g stroke-width="1.2" opacity="0.9"><path d="M99.4 203.7h1.2M100.7 203.7h1.2M101.9 203.7h1.2M103.2 203.7h1.2M104.5 203.7h1.2M105.8 203.7h1.2M107.0 203.7h1.2M108.3 203.7h1.2M109.6 203.7h1.2M110.9 203.7h1.2M112.1 203.7h1.2M113.4 203.7h1.2M114.7 203.7h1.2M115.9 203.7h1.2M117.2 203.7h1.2M118.5 203.7h1.2M119.8 203.7h1.2" stroke="#619CFF"/><path d="M121.0 203.7h1.2M122.3 203.7h1.2M123.6 203.7h1.2" stroke="#00BFC4"/><path d="M124.8 203.7h1.2M126.1 203.7h1.2M127.4 203.7h1.2" stroke="#00BA38"/><path d="M128.7 203.7h1.2M129.9 203.7h1.2" stroke="#B79F00"/><path d="M131.2 203.7h1.2M132.5 203.7h1.2M133.8 203.7h1.2M135.0 203.7h1.2M136.3 203.7h1.2M137.6 203.7h1.2M138.8 203.7h1.2" stroke="#F8766D"/><path d="M140.1 203.7h1.2M141.4 203.7h1.2M142.7 203.7h1.2M143.9 203.7h1.2M145.2 203.7h1.2M146.5 203.7h1.2M147.8 203.7h1.2M149.0 203.7h1.2" stroke="#F564E3"/></g>
<g opacity="0.9" stroke-width="0.75"><path d="M111.3 171.5h.7M102.4 170.1h.7M99.1 169.0h.7M109.3 168.7h.7M108.2 170.1h.7M105.9 172.7h.7M101.6 171.6h.7M113.6 175.3h.7M101.4 174.1h.7M110.1 170.3h.7M109.4 173.0h.7M108.1 171.3h.7M109.2 174.1h.7M111.4 169.0h.7M109.1 175.4h.7M113.7 174.2h.7M104.9 174.0h.7M111.2 175.4h.7M99.5 167.5h.7M108.3 171.3h.7M101.4 175.4h.7M104.7 169.0h.7M112.3 175.3h.7M102.4 167.5h.7" stroke="#619CFF"/><path d="M130.1 174.0h.7M129.9 174.3h.7M128.0 171.7h.7" stroke="#B79F00"/><path d="M121.2 174.2h.7M121.1 171.5h.7M121.1 172.7h.7M115.7 175.2h.7M121.5 174.1h.7M120.1 172.9h.7M116.7 168.9h.7M117.0 173.9h.7M117.9 171.5h.7M114.8 174.0h.7M114.5 174.3h.7" stroke="#00BFC4"/><path d="M125.8 169.1h.7M122.5 175.5h.7M125.7 172.8h.7M124.6 173.9h.7M124.8 168.8h.7" stroke="#00BA38"/><path d="M133.4 174.1h.7M132.1 173.0h.7M136.7 170.4h.7M134.5 172.9h.7M135.8 172.7h.7M131.0 168.8h.7M137.6 175.2h.7M136.6 172.7h.7" stroke="#F8766D"/><path d="M141.0 170.3h.7M144.5 168.8h.7M141.0 169.1h.7M141.2 169.0h.7M143.4 170.2h.7M141.1 175.4h.7M141.0 170.3h.7M140.0 174.1h.7M139.9 168.9h.7" stroke="#F564E3"/></g>
<path d="M99.30,196.20C100.48,196.88 104.28,199.92 106.40,200.30C108.52,200.68 109.87,199.03 112.00,198.50C114.13,197.97 116.70,197.02 119.20,197.10C121.70,197.18 124.47,197.95 127.00,199.00C129.53,200.05 130.57,202.63 134.40,203.40C138.23,204.17 147.40,203.57 150.00,203.60" fill="none" stroke="#333" stroke-width="0.45"/>
<text x="127.60" y="167.66" font-size="4.6" text-anchor="middle" fill="#111" font-family="Liberation Sans">CD1C</text>
<line x1="162.20" y1="164.40" x2="162.20" y2="206.40" stroke="#BBB" stroke-width="0.4"/>
<line x1="162.20" y1="206.40" x2="209.80" y2="206.40" stroke="#BBB" stroke-width="0.4"/>
<text x="164.20" y="208.85" font-size="1.8" text-anchor="middle" fill="#777" font-family="Liberation Sans">0</text>
<text x="174.10" y="208.85" font-size="1.8" text-anchor="middle" fill="#777" font-family="Liberation Sans">5</text>
<text x="184.00" y="208.85" font-size="1.8" text-anchor="middle" fill="#777" font-family="Liberation Sans">10</text>
<text x="193.90" y="208.85" font-size="1.8" text-anchor="middle" fill="#777" font-family="Liberation Sans">15</text>
<text x="203.80" y="208.85" font-size="1.8" text-anchor="middle" fill="#777" font-family="Liberation Sans">20</text>
<text x="186.00" y="211.08" font-size="1.9" text-anchor="middle" fill="#777" font-family="Liberation Sans">Pseudo time</text>
<text x="157.00" y="186.08" font-size="1.9" text-anchor="middle" fill="#777" font-family="Liberation Sans" transform="rotate(-90 157.00 185.40)">Relative Expression</text>
<text x="161.20" y="173.08" font-size="1.9" text-anchor="end" fill="#777" font-family="Liberation Sans">10.0</text>
<text x="161.20" y="186.08" font-size="1.9" text-anchor="end" fill="#777" font-family="Liberation Sans">1.0</text>
<text x="161.20" y="204.58" font-size="1.9" text-anchor="end" fill="#777" font-family="Liberation Sans">0.1</text>
<g stroke-width="1.2" opacity="0.9"><path d="M163.8 179.6h1.1M164.9 179.6h1.1M166.0 179.6h1.1M167.2 179.6h1.1M168.3 179.6h1.1M169.4 179.6h1.1M170.5 179.6h1.1M171.7 179.6h1.1M172.8 179.6h1.1M173.9 179.6h1.1M175.0 179.6h1.1" stroke="#619CFF"/><path d="M177.3 179.6h1.1M178.4 179.6h1.1M179.5 179.6h1.1M180.7 179.6h1.1M181.8 179.6h1.1M182.9 179.6h1.1" stroke="#00BFC4"/><path d="M184.0 179.6h1.1M185.2 179.6h1.1M186.3 179.6h1.1M187.4 179.6h1.1" stroke="#00BA38"/><path d="M188.5 179.6h1.1M189.7 179.6h1.1M190.8 179.6h1.1" stroke="#B79F00"/><path d="M191.9 179.6h1.1M193.0 179.6h1.1M194.2 179.6h1.1M195.3 179.6h1.1M196.4 179.6h1.1M197.5 179.6h1.1M198.7 179.6h1.1" stroke="#F8766D"/><path d="M199.8 179.6h1.1M200.9 179.6h1.1M202.0 179.6h1.1M203.2 179.6h1.1M204.3 179.6h1.1M205.4 179.6h1.1M206.5 179.6h1.1M207.7 179.6h1.1" stroke="#F564E3"/></g>
<g stroke-width="1.2" opacity="0.9"><path d="M163.8 182.6h1.1M164.9 182.6h1.1M166.0 182.6h1.1M167.2 182.6h1.1M168.3 182.6h1.1M169.4 182.6h1.1M170.5 182.6h1.1M171.7 182.6h1.1M172.8 182.6h1.1M173.9 182.6h1.1M175.0 182.6h1.1M176.2 182.6h1.1" stroke="#619CFF"/><path d="M177.3 182.6h1.1M178.4 182.6h1.1M180.7 182.6h1.1M181.8 182.6h1.1M182.9 182.6h1.1" stroke="#00BFC4"/><path d="M184.0 182.6h1.1M185.2 182.6h1.1M186.3 182.6h1.1M187.4 182.6h1.1" stroke="#00BA38"/><path d="M188.5 182.6h1.1M190.8 182.6h1.1" stroke="#B79F00"/><path d="M191.9 182.6h1.1M193.0 182.6h1.1M194.2 182.6h1.1M195.3 182.6h1.1M196.4 182.6h1.1M197.5 182.6h1.1" stroke="#F8766D"/><path d="M199.8 182.6h1.1M200.9 182.6h1.1M202.0 182.6h1.1M203.2 182.6h1.1M204.3 182.6h1.1M205.4 182.6h1.1M206.5 182.6h1.1M207.7 182.6h1.1" stroke="#F564E3"/></g>
<g stroke-width="1.2" opacity="0.9"><path d="M163.8 187.6h1.1M164.9 187.6h1.1M166.0 187.6h1.1M168.3 187.6h1.1M169.4 187.6h1.1M170.5 187.6h1.1M171.7 187.6h1.1M172.8 187.6h1.1M173.9 187.6h1.1M176.2 187.6h1.1" stroke="#619CFF"/><path d="M177.3 187.6h1.1M178.4 187.6h1.1M179.5 187.6h1.1M180.7 187.6h1.1M181.8 187.6h1.1M182.9 187.6h1.1" stroke="#00BFC4"/><path d="M184.0 187.6h1.1M185.2 187.6h1.1M186.3 187.6h1.1M187.4 187.6h1.1" stroke="#00BA38"/><path d="M189.7 187.6h1.1M190.8 187.6h1.1" stroke="#B79F00"/><path d="M193.0 187.6h1.1M194.2 187.6h1.1M195.3 187.6h1.1M196.4 187.6h1.1M197.5 187.6h1.1M198.7 187.6h1.1" stroke="#F8766D"/><path d="M199.8 187.6h1.1M202.0 187.6h1.1M203.2 187.6h1.1M204.3 187.6h1.1M205.4 187.6h1.1M206.5 187.6h1.1M207.7 187.6h1.1" stroke="#F564E3"/></g>
<g stroke-width="1.2" opacity="0.9"><path d="M163.8 204.3h1.1M164.9 204.3h1.1M166.0 204.3h1.1M167.2 204.3h1.1M168.3 204.3h1.1M169.4 204.3h1.1M170.5 204.3h1.1M171.7 204.3h1.1M172.8 204.3h1.1M173.9 204.3h1.1M175.0 204.3h1.1M176.2 204.3h1.1M177.3 204.3h1.1M178.4 204.3h1.1M179.5 204.3h1.1M180.7 204.3h1.1M181.8 204.3h1.1" stroke="#619CFF"/><path d="M182.9 204.3h1.1M184.0 204.3h1.1M185.2 204.3h1.1" stroke="#00BFC4"/><path d="M186.3 204.3h1.1M187.4 204.3h1.1M188.5 204.3h1.1" stroke="#00BA38"/><path d="M189.7 204.3h1.1M190.8 204.3h1.1" stroke="#B79F00"/><path d="M191.9 204.3h1.1M193.0 204.3h1.1M194.2 204.3h1.1M195.3 204.3h1.1M196.4 204.3h1.1M197.5 204.3h1.1M198.7 204.3h1.1" stroke="#F8766D"/><path d="M199.8 204.3h1.1M200.9 204.3h1.1M202.0 204.3h1.1M203.2 204.3h1.1M204.3 204.3h1.1M205.4 204.3h1.1M206.5 204.3h1.1M207.7 204.3h1.1" stroke="#F564E3"/></g>
<g opacity="0.9" stroke-width="0.75"><path d="M179.5 177.7h.7M167.7 175.0h.7M181.6 180.4h.7M165.4 178.9h.7M173.9 175.1h.7M174.3 175.0h.7M177.3 177.9h.7M179.5 178.0h.7M178.3 180.5h.7M168.5 176.6h.7M176.5 180.6h.7M173.1 178.9h.7M166.6 176.6h.7M181.8 176.6h.7M175.1 176.5h.7M179.4 176.5h.7M177.4 178.0h.7M171.7 176.5h.7M177.2 176.7h.7M176.1 177.9h.7M169.9 180.6h.7M165.5 176.4h.7" stroke="#619CFF"/><path d="M198.5 175.2h.7M195.0 177.8h.7M198.3 179.0h.7M198.3 180.6h.7M193.8 178.9h.7M197.4 179.2h.7M195.9 179.0h.7M194.9 180.2h.7M200.6 179.0h.7M204.9 177.7h.7M208.3 177.8h.7M197.4 174.1h.7M201.6 179.1h.7M204.0 176.5h.7M201.6 171.4h.7M202.0 179.0h.7M208.4 168.7h.7M208.6 175.1h.7M196.4 178.9h.7M200.6 176.4h.7M198.6 168.5h.7M206.1 179.2h.7M204.2 180.2h.7M199.4 180.4h.7M202.0 170.0h.7M195.4 172.6h.7M197.2 175.3h.7M198.7 173.7h.7M204.1 177.6h.7M200.8 171.4h.7M207.4 180.4h.7M195.1 180.6h.7M207.2 169.8h.7M206.1 177.9h.7M195.0 176.5h.7M199.8 180.5h.7M198.7 176.5h.7" stroke="#F8766D"/><path d="M206.0 176.6h.7M201.6 174.0h.7M207.0 179.1h.7M202.8 180.3h.7M202.7 177.8h.7M201.7 180.6h.7M203.9 179.1h.7M202.5 175.0h.7M196.5 170.0h.7M203.9 180.6h.7M197.5 175.3h.7M207.3 168.7h.7M203.9 173.9h.7M201.9 180.3h.7M200.6 172.7h.7M202.8 175.3h.7M206.2 179.3h.7M199.8 179.2h.7M209.7 177.9h.7M208.6 175.4h.7M199.5 179.1h.7M198.3 172.6h.7M200.5 180.6h.7M209.7 173.9h.7M196.2 168.9h.7M208.6 180.4h.7M199.8 180.6h.7M200.7 179.0h.7M205.0 180.6h.7M201.7 179.1h.7M200.6 171.1h.7M205.0 177.7h.7M197.6 170.1h.7M209.4 167.5h.7M207.1 173.7h.7M206.1 175.3h.7M208.5 174.0h.7M205.2 179.1h.7M195.0 174.0h.7M203.0 168.7h.7M196.2 177.9h.7M208.3 169.9h.7M204.1 180.5h.7M207.4 173.7h.7M196.4 180.2h.7M206.4 177.8h.7M207.2 174.0h.7M208.2 169.9h.7M200.6 180.6h.7M198.4 180.5h.7M200.6 176.7h.7M200.7 167.5h.7M208.2 180.3h.7" stroke="#F564E3"/><path d="M183.8 177.7h.7M185.2 180.6h.7M183.0 177.9h.7M184.2 179.2h.7M182.8 180.4h.7" stroke="#00BFC4"/><path d="M191.6 180.3h.7" stroke="#B79F00"/><path d="M186.3 175.3h.7" stroke="#00BA38"/><path d="M198.3 171.2h.7M197.6 180.6h.7M195.2 175.3h.7M208.2 170.1h.7M204.0 170.0h.7M197.2 175.1h.7M199.7 180.6h.7M200.5 179.2h.7M199.6 179.2h.7M199.5 177.7h.7M198.3 170.1h.7M197.4 171.4h.7M196.1 168.6h.7M203.9 179.1h.7M200.9 172.8h.7M204.1 176.6h.7M203.9 168.6h.7M206.1 171.3h.7M203.1 175.2h.7M198.6 175.3h.7M198.6 175.3h.7M206.0 170.0h.7M206.0 168.9h.7M200.5 167.6h.7M203.8 172.5h.7M196.1 167.4h.7M195.0 180.5h.7M199.8 176.6h.7M200.5 179.1h.7M203.1 180.2h.7M206.0 170.1h.7" stroke="#E88BE8"/></g>
<path d="M163.00,199.20C164.17,199.47 167.50,200.40 170.00,200.80C172.50,201.20 175.33,201.82 178.00,201.60C180.67,201.38 183.50,200.52 186.00,199.50C188.50,198.48 190.67,197.17 193.00,195.50C195.33,193.83 197.58,191.67 200.00,189.50C202.42,187.33 206.25,183.67 207.50,182.50" fill="none" stroke="#333" stroke-width="0.45"/>
<text x="188.80" y="167.66" font-size="4.6" text-anchor="middle" fill="#111" font-family="Liberation Sans">MZB1</text>
<line x1="32.80" y1="209.20" x2="32.80" y2="251.20" stroke="#BBB" stroke-width="0.4"/>
<line x1="32.80" y1="251.20" x2="86.00" y2="251.20" stroke="#BBB" stroke-width="0.4"/>
<text x="34.80" y="253.65" font-size="1.8" text-anchor="middle" fill="#777" font-family="Liberation Sans">0</text>
<text x="46.10" y="253.65" font-size="1.8" text-anchor="middle" fill="#777" font-family="Liberation Sans">5</text>
<text x="57.40" y="253.65" font-size="1.8" text-anchor="middle" fill="#777" font-family="Liberation Sans">10</text>
<text x="68.70" y="253.65" font-size="1.8" text-anchor="middle" fill="#777" font-family="Liberation Sans">15</text>
<text x="80.00" y="253.65" font-size="1.8" text-anchor="middle" fill="#777" font-family="Liberation Sans">20</text>
<text x="59.40" y="255.88" font-size="1.9" text-anchor="middle" fill="#777" font-family="Liberation Sans">Pseudo time</text>
<text x="27.60" y="230.88" font-size="1.9" text-anchor="middle" fill="#777" font-family="Liberation Sans" transform="rotate(-90 27.60 230.20)">Relative Expression</text>
<text x="31.80" y="217.88" font-size="1.9" text-anchor="end" fill="#777" font-family="Liberation Sans">10.0</text>
<text x="31.80" y="230.88" font-size="1.9" text-anchor="end" fill="#777" font-family="Liberation Sans">1.0</text>
<text x="31.80" y="249.38" font-size="1.9" text-anchor="end" fill="#777" font-family="Liberation Sans">0.1</text>
<g stroke-width="1.2" opacity="0.9"><path d="M35.7 221.0h1.2M36.9 221.0h1.2M38.2 221.0h1.2M39.5 221.0h1.2M40.7 221.0h1.2M42.0 221.0h1.2M43.3 221.0h1.2M44.5 221.0h1.2M45.8 221.0h1.2M47.0 221.0h1.2M48.3 221.0h1.2" stroke="#619CFF"/><path d="M49.6 221.0h1.2M50.8 221.0h1.2M52.1 221.0h1.2M53.4 221.0h1.2M55.9 221.0h1.2" stroke="#00BFC4"/><path d="M57.2 221.0h1.2M58.4 221.0h1.2M59.7 221.0h1.2M61.0 221.0h1.2" stroke="#00BA38"/><path d="M62.2 221.0h1.2M63.5 221.0h1.2M64.8 221.0h1.2" stroke="#B79F00"/><path d="M67.3 221.0h1.2M68.6 221.0h1.2M69.8 221.0h1.2M71.1 221.0h1.2M72.3 221.0h1.2" stroke="#F8766D"/><path d="M74.9 221.0h1.2M76.1 221.0h1.2M77.4 221.0h1.2M78.7 221.0h1.2M79.9 221.0h1.2M81.2 221.0h1.2M82.5 221.0h1.2M83.7 221.0h1.2" stroke="#F564E3"/></g>
<g stroke-width="1.2" opacity="0.9"><path d="M34.4 225.4h1.2M35.7 225.4h1.2M36.9 225.4h1.2M38.2 225.4h1.2M40.7 225.4h1.2M42.0 225.4h1.2M43.3 225.4h1.2M44.5 225.4h1.2M45.8 225.4h1.2M48.3 225.4h1.2" stroke="#619CFF"/><path d="M49.6 225.4h1.2M50.8 225.4h1.2M52.1 225.4h1.2M53.4 225.4h1.2M54.6 225.4h1.2M55.9 225.4h1.2" stroke="#00BFC4"/><path d="M57.2 225.4h1.2M58.4 225.4h1.2M59.7 225.4h1.2M61.0 225.4h1.2" stroke="#00BA38"/><path d="M62.2 225.4h1.2M63.5 225.4h1.2M64.8 225.4h1.2" stroke="#B79F00"/><path d="M66.0 225.4h1.2M67.3 225.4h1.2M68.6 225.4h1.2M69.8 225.4h1.2M71.1 225.4h1.2M72.3 225.4h1.2M73.6 225.4h1.2" stroke="#F8766D"/><path d="M74.9 225.4h1.2M76.1 225.4h1.2M77.4 225.4h1.2M78.7 225.4h1.2M79.9 225.4h1.2M81.2 225.4h1.2M82.5 225.4h1.2M83.7 225.4h1.2" stroke="#F564E3"/></g>
<g stroke-width="1.2" opacity="0.9"><path d="M34.4 230.7h1.2M35.7 230.7h1.2M36.9 230.7h1.2M38.2 230.7h1.2M39.5 230.7h1.2M40.7 230.7h1.2M42.0 230.7h1.2M43.3 230.7h1.2M44.5 230.7h1.2M45.8 230.7h1.2M47.0 230.7h1.2M48.3 230.7h1.2" stroke="#619CFF"/><path d="M49.6 230.7h1.2M50.8 230.7h1.2M52.1 230.7h1.2M53.4 230.7h1.2M54.6 230.7h1.2M55.9 230.7h1.2" stroke="#00BFC4"/><path d="M57.2 230.7h1.2M58.4 230.7h1.2M59.7 230.7h1.2M61.0 230.7h1.2" stroke="#00BA38"/><path d="M62.2 230.7h1.2M63.5 230.7h1.2M64.8 230.7h1.2" stroke="#B79F00"/><path d="M66.0 230.7h1.2M67.3 230.7h1.2M68.6 230.7h1.2M69.8 230.7h1.2M71.1 230.7h1.2M72.3 230.7h1.2M73.6 230.7h1.2" stroke="#F8766D"/><path d="M74.9 230.7h1.2M76.1 230.7h1.2M78.7 230.7h1.2M79.9 230.7h1.2M81.2 230.7h1.2M82.5 230.7h1.2M83.7 230.7h1.2" stroke="#F564E3"/></g>
<g stroke-width="1.2" opacity="0.9"><path d="M34.4 248.8h1.2M35.7 248.8h1.2M36.9 248.8h1.2M38.2 248.8h1.2M39.5 248.8h1.2M40.7 248.8h1.2M42.0 248.8h1.2M43.3 248.8h1.2M44.5 248.8h1.2M45.8 248.8h1.2M47.0 248.8h1.2M48.3 248.8h1.2M49.6 248.8h1.2M50.8 248.8h1.2M52.1 248.8h1.2M53.4 248.8h1.2M54.6 248.8h1.2" stroke="#619CFF"/><path d="M55.9 248.8h1.2M57.2 248.8h1.2M58.4 248.8h1.2" stroke="#00BFC4"/><path d="M59.7 248.8h1.2M61.0 248.8h1.2M62.2 248.8h1.2" stroke="#00BA38"/><path d="M63.5 248.8h1.2M64.8 248.8h1.2" stroke="#B79F00"/><path d="M66.0 248.8h1.2M67.3 248.8h1.2M68.6 248.8h1.2M69.8 248.8h1.2M71.1 248.8h1.2M72.3 248.8h1.2M73.6 248.8h1.2" stroke="#F8766D"/><path d="M74.9 248.8h1.2M76.1 248.8h1.2M77.4 248.8h1.2M78.7 248.8h1.2M79.9 248.8h1.2M81.2 248.8h1.2M82.5 248.8h1.2M83.7 248.8h1.2" stroke="#F564E3"/></g>
<g opacity="0.9" stroke-width="0.75"><path d="M45.3 217.4h.7M47.6 212.2h.7M43.1 218.6h.7M59.4 214.8h.7M52.8 213.5h.7M60.8 218.7h.7M63.9 218.7h.7M53.1 218.5h.7M35.5 214.7h.7M55.3 213.5h.7M63.0 221.0h.7M64.1 210.9h.7M56.3 219.9h.7M47.3 220.0h.7M60.5 219.9h.7M55.1 221.4h.7M44.3 219.9h.7M40.7 219.9h.7M48.4 219.8h.7M48.7 221.4h.7M35.6 217.5h.7M59.8 218.4h.7M45.4 217.5h.7M41.1 213.6h.7M36.7 216.2h.7M45.3 217.4h.7M59.4 221.4h.7M41.8 220.0h.7M50.9 221.1h.7M52.8 217.2h.7M50.9 217.3h.7M51.0 219.8h.7M64.0 221.3h.7M35.6 221.3h.7M58.5 219.9h.7M36.3 217.5h.7M49.5 217.3h.7M35.4 217.4h.7M43.3 221.3h.7" stroke="#7FB0FF"/><path d="M42.0 220.0h.7M40.9 220.1h.7M35.2 221.0h.7M47.7 218.7h.7M34.1 221.3h.7M51.7 219.9h.7M36.4 217.2h.7M51.0 210.7h.7M39.7 213.6h.7M60.6 220.0h.7M65.0 213.6h.7M55.0 221.0h.7M58.5 219.7h.7M34.2 210.6h.7M60.9 221.3h.7M51.8 217.1h.7M36.6 214.6h.7M43.2 212.1h.7M46.6 219.7h.7M63.8 221.4h.7M56.2 216.1h.7M62.0 218.7h.7M43.0 217.5h.7M64.0 218.4h.7M56.3 210.7h.7M64.0 217.2h.7M35.3 213.3h.7M37.7 213.2h.7M57.3 217.4h.7M55.1 218.5h.7M60.6 217.4h.7M59.6 221.3h.7M57.5 214.7h.7M61.7 213.5h.7M40.0 214.8h.7M52.1 213.3h.7M45.1 219.9h.7M61.8 221.2h.7M53.1 221.1h.7M58.4 211.0h.7M43.3 214.5h.7M48.6 221.2h.7M41.8 221.2h.7M51.8 213.3h.7M57.5 213.2h.7M34.1 221.2h.7M57.2 218.6h.7M35.5 219.8h.7M36.3 218.7h.7M55.4 218.8h.7M51.8 218.7h.7M53.9 218.6h.7M43.1 221.4h.7M61.6 214.6h.7M43.1 212.2h.7M56.1 221.2h.7M62.7 219.7h.7M49.6 221.3h.7M59.8 216.2h.7M58.4 212.0h.7M59.7 221.3h.7M54.0 213.5h.7M45.1 221.4h.7M58.5 218.6h.7M50.8 215.8h.7M40.8 218.8h.7M57.2 219.9h.7M59.4 221.4h.7M50.8 217.1h.7M56.4 219.9h.7M59.4 220.0h.7M39.7 218.6h.7M48.4 216.1h.7M35.4 218.5h.7M36.3 214.7h.7M57.6 219.9h.7M49.6 221.3h.7M37.6 217.2h.7M60.6 212.0h.7M44.1 218.7h.7M36.5 221.3h.7M56.4 221.1h.7M48.4 219.8h.7M57.6 215.8h.7M54.3 216.1h.7M49.7 217.1h.7M53.2 218.5h.7M45.1 218.5h.7M46.3 221.1h.7M59.7 221.2h.7M63.9 219.8h.7M56.5 220.1h.7M53.0 214.5h.7M59.5 217.2h.7M62.8 218.6h.7M61.7 214.8h.7M39.9 221.2h.7M38.5 213.4h.7" stroke="#619CFF"/><path d="M34.5 219.7h.7M36.7 217.3h.7M49.5 219.7h.7M48.4 221.4h.7M58.4 219.8h.7M35.3 221.1h.7M44.3 211.0h.7M49.9 211.9h.7M65.2 217.5h.7M55.4 213.4h.7M62.7 212.2h.7M60.5 213.2h.7M40.0 216.1h.7M42.1 220.0h.7M36.7 220.0h.7M61.6 210.8h.7M58.6 218.8h.7M44.1 221.2h.7M58.7 221.3h.7M34.2 221.0h.7M37.8 220.0h.7M61.6 219.9h.7M48.5 221.1h.7M49.6 217.3h.7M37.7 217.1h.7M38.7 213.4h.7M40.0 215.9h.7M37.4 214.8h.7" stroke="#00BFC4"/><path d="M64.9 215.8h.7M64.8 217.5h.7M63.8 221.4h.7M64.9 213.3h.7M65.0 218.5h.7M64.0 215.8h.7M64.1 218.6h.7M64.9 217.3h.7" stroke="#B79F00"/><path d="M71.7 219.9h.7M72.5 219.8h.7M68.3 220.0h.7M65.9 213.4h.7M71.5 217.1h.7M74.0 218.6h.7M70.3 220.0h.7M73.6 221.2h.7M67.4 218.8h.7M69.4 214.7h.7M67.4 214.8h.7M70.3 221.2h.7M71.8 221.3h.7M67.4 218.6h.7M67.2 221.2h.7M67.1 215.8h.7M71.4 217.3h.7M70.4 218.8h.7M70.5 221.1h.7M70.3 221.3h.7M68.1 218.5h.7M67.3 216.1h.7M75.0 214.8h.7" stroke="#F8766D"/><path d="M76.2 219.9h.7M77.2 221.1h.7M77.3 219.9h.7M77.1 214.5h.7M76.1 218.5h.7" stroke="#F564E3"/><path d="M62.7 216.2h.7" stroke="#00BA38"/></g>
<path d="M33.50,233.50C34.58,233.25 37.92,232.32 40.00,232.00C42.08,231.68 43.50,231.35 46.00,231.60C48.50,231.85 51.83,232.68 55.00,233.50C58.17,234.32 61.67,235.45 65.00,236.50C68.33,237.55 71.67,238.75 75.00,239.80C78.33,240.85 83.33,242.30 85.00,242.80" fill="none" stroke="#333" stroke-width="0.45"/>
<text x="62.40" y="212.46" font-size="4.6" text-anchor="middle" fill="#111" font-family="Liberation Sans">IGHD</text>
<line x1="97.80" y1="209.20" x2="97.80" y2="251.20" stroke="#BBB" stroke-width="0.4"/>
<line x1="97.80" y1="251.20" x2="151.30" y2="251.20" stroke="#BBB" stroke-width="0.4"/>
<text x="99.80" y="253.65" font-size="1.8" text-anchor="middle" fill="#777" font-family="Liberation Sans">0</text>
<text x="111.17" y="253.65" font-size="1.8" text-anchor="middle" fill="#777" font-family="Liberation Sans">5</text>
<text x="122.55" y="253.65" font-size="1.8" text-anchor="middle" fill="#777" font-family="Liberation Sans">10</text>
<text x="133.93" y="253.65" font-size="1.8" text-anchor="middle" fill="#777" font-family="Liberation Sans">15</text>
<text x="145.30" y="253.65" font-size="1.8" text-anchor="middle" fill="#777" font-family="Liberation Sans">20</text>
<text x="124.55" y="255.88" font-size="1.9" text-anchor="middle" fill="#777" font-family="Liberation Sans">Pseudo time</text>
<text x="92.60" y="230.88" font-size="1.9" text-anchor="middle" fill="#777" font-family="Liberation Sans" transform="rotate(-90 92.60 230.20)">Relative Expression</text>
<text x="96.80" y="217.88" font-size="1.9" text-anchor="end" fill="#777" font-family="Liberation Sans">10.0</text>
<text x="96.80" y="230.88" font-size="1.9" text-anchor="end" fill="#777" font-family="Liberation Sans">1.0</text>
<text x="96.80" y="249.38" font-size="1.9" text-anchor="end" fill="#777" font-family="Liberation Sans">0.1</text>
<g stroke-width="1.2" opacity="0.9"><path d="M99.4 230.0h1.2M100.7 230.0h1.2M101.9 230.0h1.2M103.2 230.0h1.2M104.5 230.0h1.2M105.8 230.0h1.2M107.0 230.0h1.2M108.3 230.0h1.2M109.6 230.0h1.2M110.9 230.0h1.2M112.1 230.0h1.2M113.4 230.0h1.2" stroke="#619CFF"/><path d="M114.7 230.0h1.2M115.9 230.0h1.2M117.2 230.0h1.2M118.5 230.0h1.2M119.8 230.0h1.2M121.0 230.0h1.2" stroke="#00BFC4"/><path d="M122.3 230.0h1.2M123.6 230.0h1.2M126.1 230.0h1.2" stroke="#00BA38"/><path d="M127.4 230.0h1.2M128.7 230.0h1.2" stroke="#B79F00"/><path d="M131.2 230.0h1.2M132.5 230.0h1.2M133.8 230.0h1.2M136.3 230.0h1.2M137.6 230.0h1.2M138.8 230.0h1.2" stroke="#F8766D"/><path d="M140.1 230.0h1.2M141.4 230.0h1.2M142.7 230.0h1.2M143.9 230.0h1.2M145.2 230.0h1.2M146.5 230.0h1.2M147.8 230.0h1.2M149.0 230.0h1.2" stroke="#F564E3"/></g>
<g stroke-width="1.2" opacity="0.9"><path d="M99.4 232.4h1.2M100.7 232.4h1.2M101.9 232.4h1.2M103.2 232.4h1.2M104.5 232.4h1.2M105.8 232.4h1.2M107.0 232.4h1.2M108.3 232.4h1.2M109.6 232.4h1.2M110.9 232.4h1.2M112.1 232.4h1.2M113.4 232.4h1.2" stroke="#619CFF"/><path d="M114.7 232.4h1.2M115.9 232.4h1.2M117.2 232.4h1.2M118.5 232.4h1.2M119.8 232.4h1.2M121.0 232.4h1.2" stroke="#00BFC4"/><path d="M122.3 232.4h1.2M123.6 232.4h1.2M124.8 232.4h1.2M126.1 232.4h1.2" stroke="#00BA38"/><path d="M128.7 232.4h1.2M129.9 232.4h1.2" stroke="#B79F00"/><path d="M131.2 232.4h1.2M133.8 232.4h1.2M135.0 232.4h1.2M136.3 232.4h1.2M137.6 232.4h1.2M138.8 232.4h1.2" stroke="#F8766D"/><path d="M140.1 232.4h1.2M141.4 232.4h1.2M142.7 232.4h1.2M145.2 232.4h1.2M146.5 232.4h1.2M147.8 232.4h1.2" stroke="#F564E3"/></g>
<g stroke-width="1.2" opacity="0.9"><path d="M99.4 236.2h1.2M100.7 236.2h1.2M101.9 236.2h1.2M103.2 236.2h1.2M104.5 236.2h1.2M105.8 236.2h1.2M107.0 236.2h1.2M108.3 236.2h1.2M109.6 236.2h1.2M110.9 236.2h1.2M112.1 236.2h1.2M113.4 236.2h1.2" stroke="#619CFF"/><path d="M114.7 236.2h1.2M115.9 236.2h1.2M117.2 236.2h1.2M118.5 236.2h1.2M119.8 236.2h1.2M121.0 236.2h1.2" stroke="#00BFC4"/><path d="M122.3 236.2h1.2M124.8 236.2h1.2M126.1 236.2h1.2" stroke="#00BA38"/><path d="M127.4 236.2h1.2M128.7 236.2h1.2M129.9 236.2h1.2" stroke="#B79F00"/><path d="M131.2 236.2h1.2M132.5 236.2h1.2M133.8 236.2h1.2M135.0 236.2h1.2M136.3 236.2h1.2M137.6 236.2h1.2M138.8 236.2h1.2" stroke="#F8766D"/><path d="M140.1 236.2h1.2M141.4 236.2h1.2M142.7 236.2h1.2M146.5 236.2h1.2M147.8 236.2h1.2M149.0 236.2h1.2" stroke="#F564E3"/></g>
<g stroke-width="1.2" opacity="0.9"><path d="M99.4 249.0h1.2M100.7 249.0h1.2M101.9 249.0h1.2M103.2 249.0h1.2M104.5 249.0h1.2M105.8 249.0h1.2M107.0 249.0h1.2M108.3 249.0h1.2M109.6 249.0h1.2M110.9 249.0h1.2M112.1 249.0h1.2M113.4 249.0h1.2M114.7 249.0h1.2M115.9 249.0h1.2M117.2 249.0h1.2M118.5 249.0h1.2M119.8 249.0h1.2" stroke="#619CFF"/><path d="M121.0 249.0h1.2M122.3 249.0h1.2M123.6 249.0h1.2" stroke="#00BFC4"/><path d="M124.8 249.0h1.2M126.1 249.0h1.2M127.4 249.0h1.2" stroke="#00BA38"/><path d="M128.7 249.0h1.2M129.9 249.0h1.2" stroke="#B79F00"/><path d="M131.2 249.0h1.2M132.5 249.0h1.2M133.8 249.0h1.2M135.0 249.0h1.2M136.3 249.0h1.2M137.6 249.0h1.2M138.8 249.0h1.2" stroke="#F8766D"/><path d="M140.1 249.0h1.2M141.4 249.0h1.2M142.7 249.0h1.2M143.9 249.0h1.2M145.2 249.0h1.2M146.5 249.0h1.2M147.8 249.0h1.2M149.0 249.0h1.2" stroke="#F564E3"/></g>
<g opacity="0.9" stroke-width="0.75"><path d="M127.8 227.3h.7M120.1 223.6h.7M101.5 221.1h.7M129.2 227.6h.7M117.9 228.5h.7M123.4 223.5h.7M102.7 223.6h.7M106.0 226.0h.7M112.5 228.8h.7M127.9 227.5h.7M110.3 223.6h.7M103.9 219.7h.7M105.8 218.3h.7M105.9 222.2h.7M128.0 226.0h.7M103.6 215.5h.7M127.8 215.5h.7M105.0 219.6h.7M114.6 227.2h.7M116.7 215.7h.7M112.4 224.7h.7M131.1 228.9h.7M130.1 224.9h.7M121.3 228.5h.7M110.4 227.3h.7M120.3 226.0h.7M120.2 215.5h.7M130.0 227.3h.7M102.7 219.6h.7M120.0 220.8h.7M116.7 227.6h.7M119.3 217.2h.7M106.1 222.2h.7M104.7 226.3h.7M103.7 223.3h.7M102.6 228.6h.7M120.1 222.2h.7M103.9 218.3h.7M103.7 227.6h.7M114.8 228.6h.7M109.4 222.3h.7M110.5 223.6h.7M129.9 228.6h.7M124.5 218.4h.7M107.2 224.6h.7M104.7 227.5h.7M131.0 215.7h.7M118.0 222.1h.7M112.6 220.9h.7M126.9 226.2h.7M121.5 228.6h.7M114.9 226.0h.7M120.3 227.3h.7M123.7 227.4h.7M103.8 228.8h.7M130.3 228.6h.7M104.6 226.1h.7M106.0 228.7h.7M116.9 222.1h.7M108.3 227.3h.7M119.3 225.0h.7M111.3 228.7h.7M103.7 227.3h.7M127.7 218.5h.7M103.8 226.2h.7M125.7 227.4h.7M121.3 214.5h.7M131.4 227.4h.7M118.0 227.2h.7M120.1 228.7h.7M125.9 226.3h.7M131.2 222.1h.7M121.4 226.0h.7M120.3 223.3h.7M107.0 223.4h.7M116.8 220.7h.7M114.7 215.7h.7M120.0 227.5h.7M130.1 219.5h.7M114.7 228.9h.7M109.4 218.2h.7M120.3 228.9h.7M115.7 220.9h.7M107.1 225.0h.7M131.1 220.8h.7M104.6 228.8h.7M128.0 223.5h.7M102.6 224.9h.7M99.4 224.7h.7M113.7 228.8h.7M118.0 219.8h.7M102.7 222.4h.7M118.2 222.3h.7M120.3 220.7h.7M114.5 219.7h.7M100.4 215.7h.7M112.4 224.8h.7" stroke="#4CC870"/><path d="M102.4 224.9h.7M111.6 227.5h.7M126.6 218.2h.7M130.3 222.3h.7M124.5 228.5h.7M118.1 215.7h.7M104.8 226.0h.7M99.1 220.8h.7M116.0 226.2h.7M116.9 222.2h.7M102.8 222.2h.7M114.7 219.7h.7M109.4 222.2h.7M115.7 215.8h.7M110.5 227.6h.7M123.3 228.9h.7M113.6 217.1h.7M107.9 222.1h.7M104.8 222.2h.7M113.4 216.9h.7M101.4 222.2h.7M124.5 222.1h.7M101.3 228.7h.7M123.6 224.8h.7M109.0 223.6h.7M131.0 219.8h.7M128.0 223.4h.7M100.4 215.9h.7M104.7 226.2h.7M123.7 224.7h.7M115.6 220.9h.7M121.5 223.5h.7M114.9 219.4h.7M105.0 215.7h.7M119.3 228.7h.7M131.0 219.8h.7M118.9 228.9h.7M112.5 228.9h.7M121.4 217.1h.7M131.1 219.8h.7M104.6 223.6h.7M119.2 226.2h.7M118.1 215.6h.7M107.2 228.8h.7M124.4 219.4h.7M130.3 225.9h.7M124.8 227.4h.7M111.2 226.0h.7M109.0 227.2h.7M129.2 224.8h.7M118.2 216.8h.7M122.5 227.4h.7M109.2 219.7h.7M110.4 223.6h.7M113.6 220.9h.7M125.6 223.6h.7M125.8 223.6h.7M118.1 218.2h.7M101.4 219.6h.7M126.7 220.8h.7M111.2 217.0h.7M102.4 217.2h.7M114.5 219.8h.7M131.1 220.8h.7M128.1 223.4h.7M117.1 223.5h.7" stroke="#00BFC4"/><path d="M101.4 216.9h.7M110.1 218.2h.7M112.4 220.8h.7M122.3 217.0h.7M113.8 218.2h.7M120.2 217.2h.7M127.8 228.8h.7M117.9 228.6h.7M104.9 218.5h.7M119.0 223.5h.7M101.7 228.9h.7M122.6 226.1h.7M112.7 215.9h.7M102.8 219.7h.7M119.2 218.4h.7M119.0 225.9h.7M120.4 219.5h.7M121.5 226.0h.7M112.4 227.5h.7M112.7 226.2h.7M103.5 221.1h.7M110.2 215.6h.7M126.8 219.8h.7M120.4 228.9h.7M129.0 221.1h.7M119.1 223.5h.7M117.8 222.1h.7M123.6 223.7h.7M127.0 227.3h.7M115.7 222.1h.7M130.2 223.6h.7M100.5 219.6h.7M110.5 228.7h.7M112.4 228.7h.7M131.4 224.9h.7M128.1 215.7h.7M115.7 215.6h.7M103.7 223.3h.7M129.2 218.2h.7M106.9 226.1h.7M109.4 227.6h.7M101.6 226.2h.7M111.3 218.3h.7M120.3 227.5h.7M113.5 217.0h.7M110.2 221.0h.7M112.5 227.3h.7M111.3 222.3h.7M131.4 226.0h.7M102.7 215.8h.7M123.3 226.2h.7M102.6 227.4h.7M115.7 226.2h.7M131.0 222.1h.7M111.3 227.6h.7M99.1 226.2h.7M109.0 226.1h.7M101.4 222.0h.7M131.3 218.2h.7M109.3 227.6h.7M108.3 227.2h.7M109.3 218.1h.7M131.0 220.8h.7M116.7 222.2h.7M104.9 222.1h.7M111.2 215.6h.7M100.6 227.6h.7M120.0 222.3h.7M131.2 214.3h.7M125.8 228.8h.7M115.9 218.2h.7M110.4 225.9h.7M119.1 228.6h.7M128.9 227.6h.7M119.0 222.4h.7M118.9 228.6h.7M124.8 226.0h.7M99.2 226.2h.7M132.2 223.6h.7M103.5 217.1h.7M126.8 218.2h.7M110.3 228.5h.7M130.2 222.2h.7M104.6 227.6h.7M102.8 226.2h.7M100.2 228.6h.7M124.8 215.9h.7M122.3 219.7h.7M102.8 228.6h.7M126.8 221.1h.7M100.5 225.0h.7M115.6 223.6h.7M100.5 224.9h.7M110.2 219.7h.7M129.0 218.3h.7M102.5 228.6h.7M113.4 217.0h.7M110.1 218.2h.7M115.6 227.4h.7M118.2 227.4h.7M108.3 226.1h.7M116.0 227.3h.7M122.2 220.9h.7M119.3 227.5h.7M119.1 218.3h.7M130.2 220.9h.7M124.7 226.2h.7M128.1 215.7h.7M103.5 215.6h.7M100.3 216.9h.7M113.7 218.3h.7M117.8 228.6h.7M121.1 227.5h.7M128.8 228.6h.7M129.1 221.0h.7M116.8 228.7h.7M122.3 220.9h.7M103.5 223.6h.7M123.3 221.0h.7M123.4 222.3h.7M102.6 227.2h.7M131.0 228.5h.7M131.0 226.2h.7M108.2 224.7h.7M111.5 225.0h.7M106.0 219.7h.7M127.9 219.5h.7M110.5 223.6h.7M107.2 216.9h.7M111.6 228.7h.7M127.0 228.8h.7M127.0 226.1h.7M113.7 227.4h.7M125.8 219.8h.7M100.6 226.1h.7M120.0 223.6h.7M116.7 227.3h.7M111.5 227.3h.7M120.4 227.4h.7M106.1 227.5h.7M109.2 228.6h.7M131.1 227.3h.7M123.6 218.1h.7M125.6 221.0h.7M122.4 222.3h.7M121.2 227.4h.7M102.5 219.5h.7M118.9 224.6h.7M100.3 224.8h.7M101.6 223.4h.7M120.2 216.9h.7M103.7 222.4h.7M121.2 228.9h.7M120.3 223.4h.7M101.6 228.6h.7M130.1 226.1h.7M127.9 227.3h.7M125.7 216.8h.7M106.9 218.1h.7M127.0 221.0h.7M121.5 228.8h.7M108.2 222.4h.7M108.2 226.1h.7M119.0 220.7h.7M106.9 215.8h.7M107.9 222.1h.7M107.2 228.6h.7M106.0 227.6h.7M117.0 227.6h.7M115.7 224.8h.7M123.3 215.7h.7M108.0 217.0h.7M124.7 224.8h.7M127.7 227.3h.7M109.1 218.4h.7M106.0 215.6h.7M103.7 227.2h.7M121.5 226.0h.7M124.4 216.8h.7M120.3 222.1h.7M101.3 228.8h.7M117.0 220.8h.7M108.1 225.9h.7M126.8 225.0h.7M125.5 220.7h.7M107.2 219.7h.7M107.2 219.7h.7M103.5 226.2h.7M114.6 216.9h.7M105.9 222.2h.7M129.1 224.7h.7M105.0 221.0h.7M125.9 227.6h.7M130.2 226.0h.7M116.0 228.9h.7M113.5 226.3h.7M111.5 228.8h.7M100.5 228.8h.7M109.4 228.6h.7M123.6 227.6h.7M115.8 217.1h.7M124.4 220.8h.7M129.0 228.5h.7M113.5 228.8h.7M120.2 223.6h.7M99.4 228.6h.7M109.1 219.5h.7M112.5 224.8h.7M114.9 216.9h.7M113.7 222.3h.7M109.1 222.0h.7M123.4 227.4h.7M102.6 218.4h.7M105.0 225.9h.7M126.6 226.1h.7M121.5 227.3h.7M117.8 222.2h.7M129.9 227.6h.7M115.6 225.9h.7M120.2 220.9h.7M106.0 223.4h.7M127.0 215.8h.7M122.4 227.3h.7M103.7 221.1h.7M102.7 227.3h.7M116.9 228.5h.7M115.9 219.7h.7M124.6 223.7h.7M126.6 219.6h.7M110.1 222.0h.7M100.3 218.3h.7M105.7 222.1h.7M128.8 227.4h.7M111.5 228.8h.7M125.5 226.2h.7M114.8 226.1h.7M122.6 218.2h.7M120.0 227.5h.7M100.2 228.6h.7M125.7 224.9h.7M129.2 222.3h.7M109.0 222.2h.7M112.3 216.8h.7M125.9 215.9h.7M118.0 224.9h.7M120.0 216.9h.7M115.9 224.9h.7M131.1 215.8h.7M107.0 224.9h.7M109.3 219.4h.7M125.6 228.8h.7M113.8 226.1h.7M114.9 226.2h.7M106.1 223.4h.7M114.9 226.2h.7M111.6 228.7h.7M111.4 228.7h.7M111.2 228.6h.7M107.1 217.1h.7M103.8 228.8h.7M107.0 226.0h.7M109.4 228.6h.7M118.1 223.7h.7M122.5 216.9h.7M125.8 221.0h.7M122.5 226.0h.7M131.4 224.8h.7M125.6 228.5h.7M109.2 228.6h.7M129.0 227.5h.7M124.5 226.3h.7M108.3 219.7h.7M127.7 224.9h.7M109.2 227.4h.7M102.5 228.6h.7M130.2 224.9h.7M110.3 224.9h.7M116.0 224.9h.7M127.8 214.6h.7M114.5 227.4h.7M99.2 227.5h.7M112.6 221.1h.7M107.0 215.7h.7M113.5 227.5h.7M131.1 218.2h.7M105.8 223.5h.7M109.4 215.8h.7" stroke="#00BA38"/><path d="M139.4 215.9h.7M144.7 227.3h.7M142.7 223.3h.7M145.0 227.2h.7M142.8 227.3h.7M135.1 216.9h.7M133.7 218.2h.7M133.8 217.0h.7M140.6 215.8h.7M142.7 220.7h.7M138.1 223.5h.7M135.1 223.5h.7M144.9 227.2h.7M139.3 220.8h.7M134.0 227.2h.7M143.6 224.9h.7M135.0 227.4h.7M136.1 219.6h.7M141.4 228.8h.7M139.2 227.5h.7M134.7 226.0h.7M139.3 227.3h.7M143.6 226.2h.7M135.9 218.3h.7M139.2 223.6h.7M141.7 227.3h.7M141.6 223.6h.7M137.3 227.3h.7M144.9 227.3h.7M141.6 215.6h.7M140.3 228.5h.7M140.3 222.0h.7M141.6 228.7h.7M139.5 215.6h.7M142.4 223.5h.7M142.5 228.9h.7M137.0 223.7h.7M140.3 223.3h.7M140.5 223.5h.7M143.9 222.1h.7M134.9 226.0h.7M135.1 228.6h.7M141.7 226.0h.7M145.0 219.6h.7M142.8 228.5h.7M140.4 228.7h.7M138.2 226.0h.7M139.4 226.2h.7M145.0 227.3h.7M141.3 222.4h.7M137.3 224.7h.7M144.6 228.8h.7M134.8 227.2h.7M135.9 228.8h.7M142.5 224.9h.7M134.9 228.8h.7M138.4 215.5h.7" stroke="#F8766D"/><path d="M136.1 227.3h.7M143.6 220.7h.7M142.8 219.7h.7M140.6 219.4h.7M136.9 217.0h.7M143.7 227.4h.7M142.7 222.0h.7M140.5 227.3h.7M136.1 223.5h.7M144.9 226.2h.7M139.3 224.7h.7M137.0 219.8h.7M144.9 218.1h.7M138.1 228.8h.7M141.7 223.4h.7M143.7 217.0h.7M135.0 226.3h.7M140.4 219.5h.7M142.7 223.5h.7M145.8 225.9h.7M140.6 224.8h.7M146.0 221.0h.7M141.7 224.9h.7M135.9 227.6h.7M134.0 218.4h.7M143.9 228.7h.7M141.5 215.7h.7M146.1 227.2h.7M141.7 223.7h.7M136.0 223.5h.7M135.9 227.5h.7M135.0 224.9h.7M136.9 217.1h.7" stroke="#F564E3"/></g>
<path d="M100.00,237.00C100.50,237.20 101.33,238.53 103.00,238.20C104.67,237.87 107.17,236.17 110.00,235.00C112.83,233.83 117.00,232.00 120.00,231.20C123.00,230.40 125.50,230.32 128.00,230.20C130.50,230.08 132.50,230.03 135.00,230.50C137.50,230.97 140.50,232.08 143.00,233.00C145.50,233.92 148.83,235.50 150.00,236.00" fill="none" stroke="#333" stroke-width="0.45"/>
<text x="125.70" y="212.46" font-size="4.6" text-anchor="middle" fill="#111" font-family="Liberation Sans">CRIP1</text>
<line x1="162.20" y1="209.20" x2="162.20" y2="251.20" stroke="#BBB" stroke-width="0.4"/>
<line x1="162.20" y1="251.20" x2="209.80" y2="251.20" stroke="#BBB" stroke-width="0.4"/>
<text x="164.20" y="253.65" font-size="1.8" text-anchor="middle" fill="#777" font-family="Liberation Sans">0</text>
<text x="174.10" y="253.65" font-size="1.8" text-anchor="middle" fill="#777" font-family="Liberation Sans">5</text>
<text x="184.00" y="253.65" font-size="1.8" text-anchor="middle" fill="#777" font-family="Liberation Sans">10</text>
<text x="193.90" y="253.65" font-size="1.8" text-anchor="middle" fill="#777" font-family="Liberation Sans">15</text>
<text x="203.80" y="253.65" font-size="1.8" text-anchor="middle" fill="#777" font-family="Liberation Sans">20</text>
<text x="186.00" y="255.88" font-size="1.9" text-anchor="middle" fill="#777" font-family="Liberation Sans">Pseudo time</text>
<text x="157.00" y="230.88" font-size="1.9" text-anchor="middle" fill="#777" font-family="Liberation Sans" transform="rotate(-90 157.00 230.20)">Relative Expression</text>
<text x="161.20" y="217.88" font-size="1.9" text-anchor="end" fill="#777" font-family="Liberation Sans">10.0</text>
<text x="161.20" y="230.88" font-size="1.9" text-anchor="end" fill="#777" font-family="Liberation Sans">1.0</text>
<text x="161.20" y="249.38" font-size="1.9" text-anchor="end" fill="#777" font-family="Liberation Sans">0.1</text>
<g stroke-width="1.2" opacity="0.9"><path d="M163.8 229.2h1.1M164.9 229.2h1.1M167.2 229.2h1.1M168.3 229.2h1.1M169.4 229.2h1.1M170.5 229.2h1.1M171.7 229.2h1.1M172.8 229.2h1.1M173.9 229.2h1.1M175.0 229.2h1.1M176.2 229.2h1.1" stroke="#619CFF"/><path d="M177.3 229.2h1.1M178.4 229.2h1.1M179.5 229.2h1.1M180.7 229.2h1.1M181.8 229.2h1.1M182.9 229.2h1.1" stroke="#00BFC4"/><path d="M184.0 229.2h1.1M185.2 229.2h1.1M186.3 229.2h1.1M187.4 229.2h1.1" stroke="#00BA38"/><path d="M188.5 229.2h1.1M189.7 229.2h1.1" stroke="#B79F00"/><path d="M191.9 229.2h1.1M193.0 229.2h1.1M194.2 229.2h1.1M195.3 229.2h1.1M196.4 229.2h1.1M197.5 229.2h1.1M198.7 229.2h1.1" stroke="#F8766D"/><path d="M199.8 229.2h1.1M200.9 229.2h1.1M202.0 229.2h1.1M203.2 229.2h1.1M204.3 229.2h1.1M205.4 229.2h1.1M206.5 229.2h1.1M207.7 229.2h1.1" stroke="#F564E3"/></g>
<g stroke-width="1.2" opacity="0.9"><path d="M163.8 248.8h1.1M164.9 248.8h1.1M166.0 248.8h1.1M167.2 248.8h1.1M168.3 248.8h1.1M169.4 248.8h1.1M170.5 248.8h1.1M171.7 248.8h1.1M172.8 248.8h1.1M173.9 248.8h1.1M175.0 248.8h1.1M176.2 248.8h1.1M177.3 248.8h1.1M178.4 248.8h1.1M179.5 248.8h1.1M180.7 248.8h1.1M181.8 248.8h1.1" stroke="#619CFF"/><path d="M182.9 248.8h1.1M184.0 248.8h1.1M185.2 248.8h1.1" stroke="#00BFC4"/><path d="M186.3 248.8h1.1M187.4 248.8h1.1M188.5 248.8h1.1" stroke="#00BA38"/><path d="M189.7 248.8h1.1M190.8 248.8h1.1" stroke="#B79F00"/><path d="M191.9 248.8h1.1M193.0 248.8h1.1M194.2 248.8h1.1M195.3 248.8h1.1M196.4 248.8h1.1M197.5 248.8h1.1M198.7 248.8h1.1" stroke="#F8766D"/><path d="M199.8 248.8h1.1M200.9 248.8h1.1M202.0 248.8h1.1M203.2 248.8h1.1M204.3 248.8h1.1M205.4 248.8h1.1M206.5 248.8h1.1M207.7 248.8h1.1" stroke="#F564E3"/></g>
<g opacity="0.9" stroke-width="0.75"><path d="M183.5 222.5h.7M183.3 224.0h.7M182.2 214.6h.7M183.3 216.2h.7M185.4 216.2h.7M184.4 217.5h.7M185.4 225.0h.7M186.5 219.9h.7M183.2 223.8h.7M184.3 212.4h.7M182.0 210.9h.7M184.5 225.3h.7M186.5 225.1h.7M185.4 213.5h.7M185.7 222.5h.7M185.4 219.9h.7M185.6 225.1h.7M184.6 225.0h.7M183.5 219.9h.7M183.2 224.0h.7M185.3 221.2h.7M185.5 214.9h.7M182.1 223.9h.7M185.3 222.6h.7M185.6 221.4h.7M182.2 225.3h.7M185.3 216.2h.7M182.4 221.2h.7M186.8 222.8h.7M184.5 219.8h.7M184.2 223.8h.7M185.4 220.1h.7M182.2 216.1h.7M184.2 217.2h.7M184.2 220.1h.7M184.2 222.4h.7M185.5 221.5h.7M183.5 225.3h.7M183.5 219.9h.7M184.4 214.7h.7M182.3 222.4h.7M186.8 225.0h.7M184.5 224.0h.7M183.1 216.2h.7M185.7 216.2h.7M185.5 225.2h.7M186.8 218.9h.7M186.6 223.7h.7M185.5 225.3h.7M184.2 223.9h.7M185.6 219.9h.7M185.3 213.5h.7M184.3 222.4h.7M185.3 212.1h.7M183.2 222.5h.7M185.7 225.3h.7M184.6 225.3h.7M184.5 212.2h.7M184.2 218.8h.7M183.1 225.3h.7M185.6 220.1h.7M184.5 220.1h.7M183.4 216.2h.7M184.4 223.8h.7M185.7 223.9h.7M184.2 220.1h.7M184.6 222.8h.7M183.1 219.9h.7M185.4 225.2h.7M185.6 216.3h.7M184.4 217.3h.7M183.3 218.7h.7M184.2 225.0h.7M183.2 225.1h.7M184.3 217.6h.7M184.6 216.0h.7M185.7 215.9h.7M183.2 217.6h.7M183.3 221.3h.7M185.3 225.0h.7M192.9 211.8h.7M198.3 213.1h.7M191.8 224.8h.7M191.8 223.5h.7M194.0 222.2h.7M197.1 224.8h.7M195.2 223.4h.7M196.2 223.6h.7M199.4 226.1h.7" stroke="#F8766D"/><path d="M185.7 224.0h.7M183.5 212.1h.7M185.6 216.2h.7M185.5 225.2h.7M186.4 216.3h.7M184.6 217.3h.7M183.4 225.4h.7M182.4 212.2h.7M185.3 219.9h.7M185.3 217.2h.7M183.4 210.7h.7M185.4 219.8h.7M183.5 219.9h.7M184.4 225.2h.7M182.3 221.4h.7M183.5 223.9h.7M185.6 217.2h.7M183.3 225.4h.7M185.5 225.2h.7M184.5 222.6h.7M185.7 225.3h.7M182.2 225.4h.7M184.3 220.0h.7M182.2 222.6h.7M185.4 211.1h.7M185.4 218.8h.7M185.3 221.4h.7M183.3 214.6h.7M182.0 223.7h.7M185.4 223.8h.7M182.0 224.0h.7M182.0 217.3h.7M182.0 225.0h.7M182.3 218.5h.7M186.6 217.6h.7M183.4 221.2h.7M184.3 216.2h.7M184.6 219.9h.7M185.7 218.9h.7M185.4 218.6h.7M200.7 226.3h.7M203.7 223.7h.7M205.0 218.3h.7M200.6 224.7h.7M200.5 226.4h.7" stroke="#F564E3"/><path d="M179.6 213.4h.7M179.8 217.1h.7M170.7 226.0h.7M172.8 224.8h.7M176.3 224.9h.7M173.0 221.2h.7M177.4 226.1h.7M181.9 222.1h.7M164.1 221.1h.7M172.0 226.3h.7M174.0 215.9h.7" stroke="#619CFF"/><path d="M184.2 226.3h.7M185.3 219.5h.7M182.9 222.1h.7M182.9 226.1h.7M184.2 226.3h.7M184.9 220.8h.7" stroke="#00BFC4"/><path d="M186.4 223.6h.7M188.4 226.1h.7M187.3 218.6h.7M189.3 224.8h.7" stroke="#00BA38"/><path d="M190.6 214.4h.7M189.7 226.3h.7" stroke="#B79F00"/></g>
<path d="M164.00,241.00C165.00,240.42 167.83,238.67 170.00,237.50C172.17,236.33 174.83,234.85 177.00,234.00C179.17,233.15 181.17,232.07 183.00,232.40C184.83,232.73 186.50,234.40 188.00,236.00C189.50,237.60 190.67,239.92 192.00,242.00C193.33,244.08 193.00,247.37 196.00,248.50C199.00,249.63 207.67,248.75 210.00,248.80" fill="none" stroke="#333" stroke-width="0.45"/>
<text x="184.10" y="212.46" font-size="4.6" text-anchor="middle" fill="#111" font-family="Liberation Sans">AIF1</text>
<line x1="32.80" y1="253.40" x2="32.80" y2="295.40" stroke="#BBB" stroke-width="0.4"/>
<line x1="32.80" y1="295.40" x2="86.00" y2="295.40" stroke="#BBB" stroke-width="0.4"/>
<text x="34.80" y="297.85" font-size="1.8" text-anchor="middle" fill="#777" font-family="Liberation Sans">0</text>
<text x="46.10" y="297.85" font-size="1.8" text-anchor="middle" fill="#777" font-family="Liberation Sans">5</text>
<text x="57.40" y="297.85" font-size="1.8" text-anchor="middle" fill="#777" font-family="Liberation Sans">10</text>
<text x="68.70" y="297.85" font-size="1.8" text-anchor="middle" fill="#777" font-family="Liberation Sans">15</text>
<text x="80.00" y="297.85" font-size="1.8" text-anchor="middle" fill="#777" font-family="Liberation Sans">20</text>
<text x="59.40" y="300.08" font-size="1.9" text-anchor="middle" fill="#777" font-family="Liberation Sans">Pseudo time</text>
<text x="27.60" y="275.08" font-size="1.9" text-anchor="middle" fill="#777" font-family="Liberation Sans" transform="rotate(-90 27.60 274.40)">Relative Expression</text>
<text x="31.80" y="262.08" font-size="1.9" text-anchor="end" fill="#777" font-family="Liberation Sans">10.0</text>
<text x="31.80" y="275.08" font-size="1.9" text-anchor="end" fill="#777" font-family="Liberation Sans">1.0</text>
<text x="31.80" y="293.58" font-size="1.9" text-anchor="end" fill="#777" font-family="Liberation Sans">0.1</text>
<g stroke-width="1.2" opacity="0.9"><path d="M34.4 263.1h1.2M35.7 263.1h1.2M36.9 263.1h1.2M38.2 263.1h1.2M39.5 263.1h1.2M40.7 263.1h1.2M42.0 263.1h1.2M43.3 263.1h1.2M44.5 263.1h1.2M47.0 263.1h1.2M48.3 263.1h1.2" stroke="#619CFF"/><path d="M49.6 263.1h1.2M50.8 263.1h1.2M52.1 263.1h1.2M53.4 263.1h1.2M54.6 263.1h1.2M55.9 263.1h1.2" stroke="#00BFC4"/><path d="M57.2 263.1h1.2M58.4 263.1h1.2M59.7 263.1h1.2M61.0 263.1h1.2" stroke="#00BA38"/><path d="M62.2 263.1h1.2M63.5 263.1h1.2M64.8 263.1h1.2" stroke="#B79F00"/><path d="M66.0 263.1h1.2M67.3 263.1h1.2M69.8 263.1h1.2M71.1 263.1h1.2M72.3 263.1h1.2M73.6 263.1h1.2" stroke="#F8766D"/><path d="M74.9 263.1h1.2M76.1 263.1h1.2M77.4 263.1h1.2M78.7 263.1h1.2M79.9 263.1h1.2M81.2 263.1h1.2M82.5 263.1h1.2M83.7 263.1h1.2" stroke="#F564E3"/></g>
<g stroke-width="1.2" opacity="0.9"><path d="M34.4 272.8h1.2M35.7 272.8h1.2M36.9 272.8h1.2M39.5 272.8h1.2M40.7 272.8h1.2M42.0 272.8h1.2M43.3 272.8h1.2M44.5 272.8h1.2M45.8 272.8h1.2M47.0 272.8h1.2M48.3 272.8h1.2" stroke="#619CFF"/><path d="M49.6 272.8h1.2M50.8 272.8h1.2M52.1 272.8h1.2M53.4 272.8h1.2M54.6 272.8h1.2M55.9 272.8h1.2" stroke="#00BFC4"/><path d="M57.2 272.8h1.2M58.4 272.8h1.2M59.7 272.8h1.2M61.0 272.8h1.2" stroke="#00BA38"/><path d="M62.2 272.8h1.2M63.5 272.8h1.2M64.8 272.8h1.2" stroke="#B79F00"/><path d="M66.0 272.8h1.2M67.3 272.8h1.2M68.6 272.8h1.2M69.8 272.8h1.2M71.1 272.8h1.2M72.3 272.8h1.2M73.6 272.8h1.2" stroke="#F8766D"/><path d="M74.9 272.8h1.2M76.1 272.8h1.2M77.4 272.8h1.2M78.7 272.8h1.2M79.9 272.8h1.2M81.2 272.8h1.2M82.5 272.8h1.2M83.7 272.8h1.2" stroke="#F564E3"/></g>
<g stroke-width="1.2" opacity="0.9"><path d="M34.4 293.8h1.2M35.7 293.8h1.2M36.9 293.8h1.2M38.2 293.8h1.2M39.5 293.8h1.2M40.7 293.8h1.2M42.0 293.8h1.2M43.3 293.8h1.2M44.5 293.8h1.2M45.8 293.8h1.2M47.0 293.8h1.2M48.3 293.8h1.2M49.6 293.8h1.2M50.8 293.8h1.2M52.1 293.8h1.2M53.4 293.8h1.2M54.6 293.8h1.2" stroke="#619CFF"/><path d="M55.9 293.8h1.2M57.2 293.8h1.2M58.4 293.8h1.2" stroke="#00BFC4"/><path d="M59.7 293.8h1.2M61.0 293.8h1.2M62.2 293.8h1.2" stroke="#00BA38"/><path d="M63.5 293.8h1.2M64.8 293.8h1.2" stroke="#B79F00"/><path d="M66.0 293.8h1.2M67.3 293.8h1.2M68.6 293.8h1.2M69.8 293.8h1.2M71.1 293.8h1.2M72.3 293.8h1.2M73.6 293.8h1.2" stroke="#F8766D"/><path d="M74.9 293.8h1.2M76.1 293.8h1.2M77.4 293.8h1.2M78.7 293.8h1.2M79.9 293.8h1.2M81.2 293.8h1.2M82.5 293.8h1.2M83.7 293.8h1.2" stroke="#F564E3"/></g>
<g opacity="0.9" stroke-width="0.75"><path d="M45.6 262.2h.7M46.9 258.3h.7M49.0 259.4h.7M50.4 257.1h.7M70.2 260.6h.7M36.1 258.4h.7M54.5 260.9h.7M63.2 258.0h.7M52.5 260.7h.7M47.1 258.1h.7M66.7 255.8h.7M35.9 259.6h.7M41.2 259.3h.7M57.8 258.1h.7M72.1 263.3h.7M41.5 263.6h.7M74.2 262.2h.7M56.9 258.2h.7M53.6 255.7h.7M36.0 262.0h.7M40.5 263.3h.7" stroke="#3CC8A0"/><path d="M77.8 261.0h.7M51.3 262.2h.7M60.1 259.3h.7M68.0 263.3h.7M52.6 263.5h.7M69.9 262.2h.7M63.3 257.0h.7M63.2 260.9h.7M42.4 263.4h.7M42.7 258.1h.7M56.8 259.5h.7M42.5 258.2h.7M68.8 258.1h.7" stroke="#F8766D"/><path d="M38.1 259.5h.7M71.3 263.4h.7M39.1 262.2h.7M36.8 263.4h.7M42.3 263.3h.7M56.7 263.5h.7M47.8 255.7h.7M42.3 258.3h.7M48.1 256.8h.7M59.0 255.6h.7M65.6 259.4h.7M62.1 262.0h.7M45.8 259.6h.7M69.8 262.3h.7M55.5 262.2h.7M74.5 261.9h.7M44.6 258.4h.7M53.7 260.9h.7M71.0 257.0h.7M56.8 261.9h.7M47.1 257.1h.7M47.9 257.0h.7M53.5 263.3h.7M36.0 256.8h.7M76.6 262.0h.7M56.8 263.4h.7M56.8 263.2h.7M48.0 256.8h.7M62.2 260.9h.7M66.8 258.4h.7M56.6 260.6h.7M55.5 263.3h.7M77.5 260.8h.7M66.8 255.4h.7M53.6 262.0h.7M67.6 261.9h.7" stroke="#00BA38"/><path d="M42.5 257.0h.7M77.9 263.4h.7M40.1 261.9h.7M44.5 260.9h.7M39.0 258.3h.7M40.4 260.7h.7M69.9 263.5h.7M38.3 263.4h.7M50.2 258.2h.7M62.2 262.1h.7M47.1 262.0h.7M52.3 263.6h.7M72.3 258.2h.7M65.4 263.4h.7M55.7 260.7h.7M57.0 263.5h.7M70.1 262.1h.7M77.8 262.2h.7M77.8 255.5h.7M64.4 258.3h.7" stroke="#00BFC4"/></g>
<path d="M35.00,285.00C35.83,285.33 38.00,287.00 40.00,287.00C42.00,287.00 44.50,285.75 47.00,285.00C49.50,284.25 52.33,282.75 55.00,282.50C57.67,282.25 60.17,282.50 63.00,283.50C65.83,284.50 69.17,286.83 72.00,288.50C74.83,290.17 77.67,292.58 80.00,293.50C82.33,294.42 85.00,293.92 86.00,294.00" fill="none" stroke="#333" stroke-width="0.45"/>
<text x="70.30" y="256.66" font-size="4.6" text-anchor="middle" fill="#111" font-family="Liberation Sans">TNFRSF13B</text>
<line x1="97.80" y1="253.40" x2="97.80" y2="295.40" stroke="#BBB" stroke-width="0.4"/>
<line x1="97.80" y1="295.40" x2="151.30" y2="295.40" stroke="#BBB" stroke-width="0.4"/>
<text x="99.80" y="297.85" font-size="1.8" text-anchor="middle" fill="#777" font-family="Liberation Sans">0</text>
<text x="111.17" y="297.85" font-size="1.8" text-anchor="middle" fill="#777" font-family="Liberation Sans">5</text>
<text x="122.55" y="297.85" font-size="1.8" text-anchor="middle" fill="#777" font-family="Liberation Sans">10</text>
<text x="133.93" y="297.85" font-size="1.8" text-anchor="middle" fill="#777" font-family="Liberation Sans">15</text>
<text x="145.30" y="297.85" font-size="1.8" text-anchor="middle" fill="#777" font-family="Liberation Sans">20</text>
<text x="124.55" y="300.08" font-size="1.9" text-anchor="middle" fill="#777" font-family="Liberation Sans">Pseudo time</text>
<text x="92.60" y="275.08" font-size="1.9" text-anchor="middle" fill="#777" font-family="Liberation Sans" transform="rotate(-90 92.60 274.40)">Relative Expression</text>
<text x="96.80" y="262.08" font-size="1.9" text-anchor="end" fill="#777" font-family="Liberation Sans">10.0</text>
<text x="96.80" y="275.08" font-size="1.9" text-anchor="end" fill="#777" font-family="Liberation Sans">1.0</text>
<text x="96.80" y="293.58" font-size="1.9" text-anchor="end" fill="#777" font-family="Liberation Sans">0.1</text>
<g stroke-width="1.2" opacity="0.9"><path d="M99.4 269.9h1.2M100.7 269.9h1.2M101.9 269.9h1.2M103.2 269.9h1.2M104.5 269.9h1.2M105.8 269.9h1.2M107.0 269.9h1.2M108.3 269.9h1.2M109.6 269.9h1.2M110.9 269.9h1.2M112.1 269.9h1.2M113.4 269.9h1.2" stroke="#619CFF"/><path d="M114.7 269.9h1.2M115.9 269.9h1.2M117.2 269.9h1.2M118.5 269.9h1.2M119.8 269.9h1.2M121.0 269.9h1.2" stroke="#00BFC4"/><path d="M122.3 269.9h1.2M123.6 269.9h1.2M124.8 269.9h1.2M126.1 269.9h1.2" stroke="#00BA38"/><path d="M127.4 269.9h1.2M129.9 269.9h1.2" stroke="#B79F00"/><path d="M132.5 269.9h1.2M133.8 269.9h1.2M135.0 269.9h1.2M136.3 269.9h1.2M137.6 269.9h1.2M138.8 269.9h1.2" stroke="#F8766D"/><path d="M140.1 269.9h1.2M141.4 269.9h1.2M142.7 269.9h1.2M143.9 269.9h1.2M147.8 269.9h1.2M149.0 269.9h1.2" stroke="#F564E3"/></g>
<g stroke-width="1.2" opacity="0.9"><path d="M99.4 275.7h1.2M100.7 275.7h1.2M101.9 275.7h1.2M103.2 275.7h1.2M104.5 275.7h1.2M105.8 275.7h1.2M107.0 275.7h1.2M108.3 275.7h1.2M109.6 275.7h1.2M110.9 275.7h1.2M112.1 275.7h1.2M113.4 275.7h1.2" stroke="#619CFF"/><path d="M114.7 275.7h1.2M115.9 275.7h1.2M117.2 275.7h1.2M118.5 275.7h1.2M119.8 275.7h1.2M121.0 275.7h1.2" stroke="#00BFC4"/><path d="M122.3 275.7h1.2M123.6 275.7h1.2M124.8 275.7h1.2M126.1 275.7h1.2" stroke="#00BA38"/><path d="M127.4 275.7h1.2M128.7 275.7h1.2M129.9 275.7h1.2" stroke="#B79F00"/><path d="M131.2 275.7h1.2M132.5 275.7h1.2M133.8 275.7h1.2M135.0 275.7h1.2M136.3 275.7h1.2M137.6 275.7h1.2M138.8 275.7h1.2" stroke="#F8766D"/><path d="M140.1 275.7h1.2M141.4 275.7h1.2M142.7 275.7h1.2M143.9 275.7h1.2M145.2 275.7h1.2M146.5 275.7h1.2M147.8 275.7h1.2M149.0 275.7h1.2" stroke="#F564E3"/></g>
<g stroke-width="1.2" opacity="0.9"><path d="M99.4 293.8h1.2M100.7 293.8h1.2M101.9 293.8h1.2M103.2 293.8h1.2M104.5 293.8h1.2M105.8 293.8h1.2M107.0 293.8h1.2M108.3 293.8h1.2M109.6 293.8h1.2M110.9 293.8h1.2M112.1 293.8h1.2M113.4 293.8h1.2M114.7 293.8h1.2M115.9 293.8h1.2M117.2 293.8h1.2M118.5 293.8h1.2M119.8 293.8h1.2" stroke="#619CFF"/><path d="M121.0 293.8h1.2M122.3 293.8h1.2M123.6 293.8h1.2" stroke="#00BFC4"/><path d="M124.8 293.8h1.2M126.1 293.8h1.2M127.4 293.8h1.2" stroke="#00BA38"/><path d="M128.7 293.8h1.2M129.9 293.8h1.2" stroke="#B79F00"/><path d="M131.2 293.8h1.2M132.5 293.8h1.2M133.8 293.8h1.2M135.0 293.8h1.2M136.3 293.8h1.2M137.6 293.8h1.2M138.8 293.8h1.2" stroke="#F8766D"/><path d="M140.1 293.8h1.2M141.4 293.8h1.2M142.7 293.8h1.2M143.9 293.8h1.2M145.2 293.8h1.2M146.5 293.8h1.2M147.8 293.8h1.2M149.0 293.8h1.2" stroke="#F564E3"/></g>
<g opacity="0.9" stroke-width="0.75"><path d="M128.6 266.8h.7M115.4 256.6h.7M135.4 269.4h.7M122.3 268.2h.7M120.9 255.0h.7M134.3 260.3h.7M120.8 269.3h.7M131.9 269.4h.7M124.3 265.4h.7M138.7 269.2h.7M136.3 265.5h.7M113.5 256.5h.7M117.5 265.4h.7M127.8 265.5h.7M121.2 266.8h.7M119.8 266.6h.7M131.0 267.9h.7M134.2 257.9h.7M142.8 269.5h.7M120.0 269.3h.7M111.2 256.2h.7M145.1 265.5h.7M114.6 269.4h.7M114.5 267.9h.7M132.1 256.5h.7M134.0 266.8h.7M136.4 265.5h.7M145.0 268.1h.7M140.7 259.1h.7M140.6 262.9h.7M120.8 256.2h.7M135.4 263.0h.7M128.9 255.1h.7M120.9 269.4h.7M114.2 269.5h.7M120.8 263.1h.7M144.1 265.3h.7M131.0 265.6h.7M129.9 266.9h.7M111.3 268.0h.7M141.9 268.2h.7M120.1 261.6h.7M118.9 265.3h.7M136.2 269.3h.7M124.1 268.1h.7M110.1 265.4h.7M130.9 262.8h.7M124.5 261.8h.7M114.4 260.3h.7M122.1 260.1h.7M113.4 269.6h.7M137.3 269.5h.7M129.9 266.8h.7M143.0 269.2h.7M122.1 269.6h.7M138.8 265.4h.7M124.5 257.8h.7M129.8 263.0h.7M118.8 257.7h.7M127.4 256.4h.7M116.4 259.2h.7M121.1 264.3h.7M133.2 263.0h.7M114.2 269.5h.7M144.3 262.9h.7M118.9 266.7h.7M119.8 269.3h.7M136.6 267.9h.7M128.5 261.4h.7M140.8 268.1h.7M115.7 266.9h.7M125.4 264.4h.7M124.2 268.1h.7M132.0 263.0h.7M130.9 264.1h.7M138.5 266.7h.7M124.5 258.9h.7M139.6 265.6h.7M145.3 269.3h.7" stroke="#F8766D"/><path d="M117.8 255.1h.7M126.7 257.6h.7M133.1 262.8h.7M138.4 266.6h.7M116.4 268.2h.7M113.2 265.5h.7M135.4 266.8h.7M121.0 269.5h.7M124.5 268.0h.7M130.8 266.8h.7M145.3 262.9h.7M117.5 268.0h.7M145.1 256.2h.7M136.5 264.1h.7M108.9 258.9h.7M134.0 268.1h.7M143.0 265.6h.7M145.3 257.7h.7M112.4 269.3h.7M110.2 269.6h.7M111.1 255.0h.7M110.9 265.4h.7M133.1 257.7h.7M109.9 266.9h.7M121.2 268.3h.7M121.0 267.9h.7M139.8 269.3h.7M120.8 266.8h.7M114.4 266.7h.7M135.3 259.0h.7M140.7 255.3h.7M144.3 269.3h.7M119.0 265.5h.7M116.6 257.5h.7M134.2 268.0h.7M143.1 260.4h.7M107.6 268.0h.7M113.1 259.0h.7M139.6 269.4h.7M140.9 268.3h.7M120.8 268.1h.7M118.8 262.9h.7M108.7 261.4h.7M119.9 269.6h.7M134.4 263.0h.7" stroke="#00BFC4"/><path d="M125.3 262.9h.7M113.3 257.5h.7M123.2 256.4h.7M140.9 268.0h.7M115.4 266.9h.7M120.0 258.9h.7M144.2 261.4h.7M126.7 265.5h.7M144.1 262.8h.7M139.5 265.6h.7M137.7 269.2h.7M115.6 269.6h.7M143.9 266.7h.7M129.7 269.4h.7M123.4 264.1h.7M121.1 268.3h.7M140.9 268.1h.7M129.8 260.2h.7M143.0 260.2h.7M124.5 267.0h.7M126.5 265.6h.7M107.6 257.6h.7M129.6 265.6h.7M120.0 268.3h.7M142.8 266.7h.7M122.1 269.5h.7M140.7 264.3h.7M123.2 266.7h.7M124.2 262.8h.7M137.3 262.9h.7M134.3 261.6h.7M143.1 266.7h.7M135.5 269.2h.7M131.8 269.5h.7M111.3 266.7h.7M143.9 256.3h.7M129.9 256.4h.7M137.7 262.7h.7M138.7 258.8h.7M111.1 259.2h.7M126.7 255.3h.7" stroke="#E89040"/><path d="M136.5 256.5h.7M139.9 262.8h.7M143.9 259.0h.7M126.3 266.8h.7M134.4 262.8h.7M138.6 262.8h.7M113.2 260.1h.7M139.8 268.2h.7M110.0 264.2h.7M123.1 255.2h.7M134.4 269.6h.7M136.5 257.5h.7M113.4 265.7h.7M124.3 268.2h.7M137.4 269.3h.7M125.3 256.4h.7M112.0 256.5h.7M134.3 265.5h.7M136.3 255.2h.7M127.7 261.6h.7M114.2 260.2h.7M128.6 257.9h.7M138.5 269.6h.7M133.0 260.1h.7M108.9 261.6h.7M115.7 268.2h.7M112.4 267.9h.7M137.5 257.5h.7M137.4 262.9h.7M122.2 255.2h.7M138.6 266.6h.7M136.5 260.5h.7M115.4 260.4h.7M131.1 260.3h.7M110.9 266.8h.7M109.0 268.2h.7M119.7 269.6h.7M114.6 269.6h.7M123.2 264.1h.7M145.4 266.7h.7M131.0 255.2h.7" stroke="#B79F00"/><path d="M120.8 268.1h.7M118.7 265.6h.7M136.4 258.9h.7M144.1 264.3h.7M132.1 269.2h.7M124.2 267.9h.7M136.6 261.7h.7M112.4 269.3h.7M129.9 260.2h.7M126.5 265.5h.7M111.3 260.4h.7M139.9 258.9h.7M121.9 256.5h.7M113.4 255.2h.7M135.2 255.1h.7M112.4 265.4h.7M112.1 263.0h.7M144.1 261.8h.7M124.3 266.7h.7M133.1 256.4h.7M127.7 268.0h.7M135.4 264.0h.7M136.5 261.7h.7M128.9 257.5h.7M144.0 256.5h.7M133.1 268.1h.7M113.2 266.7h.7M117.7 268.3h.7M118.9 255.3h.7M125.6 257.6h.7M127.7 266.9h.7M133.0 269.4h.7M130.0 265.4h.7M140.9 266.9h.7" stroke="#F564E3"/></g>
<path d="M103.00,294.50C103.83,293.58 106.00,291.33 108.00,289.00C110.00,286.67 112.83,283.00 115.00,280.50C117.17,278.00 119.17,275.48 121.00,274.00C122.83,272.52 124.33,271.97 126.00,271.60C127.67,271.23 129.17,271.32 131.00,271.80C132.83,272.28 134.83,273.13 137.00,274.50C139.17,275.87 141.67,278.00 144.00,280.00C146.33,282.00 149.83,285.42 151.00,286.50" fill="none" stroke="#333" stroke-width="0.45"/>
<text x="125.70" y="256.66" font-size="4.6" text-anchor="middle" fill="#111" font-family="Liberation Sans">IL32</text>
<line x1="162.20" y1="253.40" x2="162.20" y2="295.40" stroke="#BBB" stroke-width="0.4"/>
<line x1="162.20" y1="295.40" x2="209.80" y2="295.40" stroke="#BBB" stroke-width="0.4"/>
<text x="164.20" y="297.85" font-size="1.8" text-anchor="middle" fill="#777" font-family="Liberation Sans">0</text>
<text x="174.10" y="297.85" font-size="1.8" text-anchor="middle" fill="#777" font-family="Liberation Sans">5</text>
<text x="184.00" y="297.85" font-size="1.8" text-anchor="middle" fill="#777" font-family="Liberation Sans">10</text>
<text x="193.90" y="297.85" font-size="1.8" text-anchor="middle" fill="#777" font-family="Liberation Sans">15</text>
<text x="203.80" y="297.85" font-size="1.8" text-anchor="middle" fill="#777" font-family="Liberation Sans">20</text>
<text x="186.00" y="300.08" font-size="1.9" text-anchor="middle" fill="#777" font-family="Liberation Sans">Pseudo time</text>
<text x="157.00" y="275.08" font-size="1.9" text-anchor="middle" fill="#777" font-family="Liberation Sans" transform="rotate(-90 157.00 274.40)">Relative Expression</text>
<text x="161.20" y="262.08" font-size="1.9" text-anchor="end" fill="#777" font-family="Liberation Sans">10.0</text>
<text x="161.20" y="275.08" font-size="1.9" text-anchor="end" fill="#777" font-family="Liberation Sans">1.0</text>
<text x="161.20" y="293.58" font-size="1.9" text-anchor="end" fill="#777" font-family="Liberation Sans">0.1</text>
<g stroke-width="1.2" opacity="0.9"><path d="M163.8 271.4h1.1M164.9 271.4h1.1M166.0 271.4h1.1M167.2 271.4h1.1M168.3 271.4h1.1M169.4 271.4h1.1M170.5 271.4h1.1M171.7 271.4h1.1M172.8 271.4h1.1M173.9 271.4h1.1M175.0 271.4h1.1M176.2 271.4h1.1" stroke="#619CFF"/><path d="M177.3 271.4h1.1M178.4 271.4h1.1M179.5 271.4h1.1M180.7 271.4h1.1M181.8 271.4h1.1M182.9 271.4h1.1" stroke="#00BFC4"/><path d="M184.0 271.4h1.1M185.2 271.4h1.1M186.3 271.4h1.1M187.4 271.4h1.1" stroke="#00BA38"/><path d="M188.5 271.4h1.1M189.7 271.4h1.1" stroke="#B79F00"/><path d="M193.0 271.4h1.1M194.2 271.4h1.1M195.3 271.4h1.1M196.4 271.4h1.1M197.5 271.4h1.1M198.7 271.4h1.1" stroke="#F8766D"/><path d="M199.8 271.4h1.1M200.9 271.4h1.1M202.0 271.4h1.1M203.2 271.4h1.1M204.3 271.4h1.1M205.4 271.4h1.1M206.5 271.4h1.1M207.7 271.4h1.1" stroke="#F564E3"/></g>
<g stroke-width="1.2" opacity="0.9"><path d="M163.8 276.9h1.1M164.9 276.9h1.1M166.0 276.9h1.1M167.2 276.9h1.1M168.3 276.9h1.1M169.4 276.9h1.1M170.5 276.9h1.1M171.7 276.9h1.1M172.8 276.9h1.1M173.9 276.9h1.1M175.0 276.9h1.1M176.2 276.9h1.1" stroke="#619CFF"/><path d="M177.3 276.9h1.1M178.4 276.9h1.1M179.5 276.9h1.1M180.7 276.9h1.1M181.8 276.9h1.1M182.9 276.9h1.1" stroke="#00BFC4"/><path d="M184.0 276.9h1.1M185.2 276.9h1.1M186.3 276.9h1.1M187.4 276.9h1.1" stroke="#00BA38"/><path d="M188.5 276.9h1.1M189.7 276.9h1.1M190.8 276.9h1.1" stroke="#B79F00"/><path d="M191.9 276.9h1.1M193.0 276.9h1.1M194.2 276.9h1.1M195.3 276.9h1.1M196.4 276.9h1.1M197.5 276.9h1.1M198.7 276.9h1.1" stroke="#F8766D"/><path d="M199.8 276.9h1.1M200.9 276.9h1.1M202.0 276.9h1.1M203.2 276.9h1.1M204.3 276.9h1.1M205.4 276.9h1.1M206.5 276.9h1.1M207.7 276.9h1.1" stroke="#F564E3"/></g>
<g stroke-width="1.2" opacity="0.9"><path d="M163.8 293.8h1.1M164.9 293.8h1.1M166.0 293.8h1.1M167.2 293.8h1.1M168.3 293.8h1.1M169.4 293.8h1.1M170.5 293.8h1.1M171.7 293.8h1.1M172.8 293.8h1.1M173.9 293.8h1.1M175.0 293.8h1.1M176.2 293.8h1.1M177.3 293.8h1.1M178.4 293.8h1.1M179.5 293.8h1.1M180.7 293.8h1.1M181.8 293.8h1.1" stroke="#619CFF"/><path d="M182.9 293.8h1.1M184.0 293.8h1.1M185.2 293.8h1.1" stroke="#00BFC4"/><path d="M186.3 293.8h1.1M187.4 293.8h1.1M188.5 293.8h1.1" stroke="#00BA38"/><path d="M189.7 293.8h1.1M190.8 293.8h1.1" stroke="#B79F00"/><path d="M191.9 293.8h1.1M193.0 293.8h1.1M194.2 293.8h1.1M195.3 293.8h1.1M196.4 293.8h1.1M197.5 293.8h1.1M198.7 293.8h1.1" stroke="#F8766D"/><path d="M199.8 293.8h1.1M200.9 293.8h1.1M202.0 293.8h1.1M203.2 293.8h1.1M204.3 293.8h1.1M205.4 293.8h1.1M206.5 293.8h1.1M207.7 293.8h1.1" stroke="#F564E3"/></g>
<g opacity="0.9" stroke-width="0.75"><path d="M186.6 266.3h.7M164.6 269.0h.7M186.9 271.5h.7M170.3 271.5h.7M170.3 264.9h.7M190.2 263.7h.7M166.1 259.8h.7M176.7 267.4h.7M173.4 263.4h.7M178.2 261.1h.7M180.0 263.5h.7M164.6 264.8h.7M177.8 266.3h.7M167.2 270.0h.7M172.5 266.2h.7M175.9 270.2h.7M167.2 271.2h.7M191.3 267.4h.7M176.8 268.9h.7M182.5 265.0h.7M176.7 266.1h.7M184.8 264.9h.7M185.6 262.2h.7M166.9 259.6h.7M165.7 267.6h.7M171.3 264.7h.7M169.0 270.3h.7M191.1 266.4h.7M163.5 270.0h.7M177.0 270.2h.7M186.7 260.9h.7M175.6 261.1h.7M186.6 270.2h.7M171.5 259.8h.7M167.1 259.7h.7M174.8 271.3h.7M173.8 261.0h.7M174.7 261.0h.7M165.7 271.5h.7M167.0 270.2h.7M168.3 267.5h.7M174.6 268.9h.7M191.0 264.8h.7M192.1 270.0h.7M190.1 270.3h.7M188.0 270.1h.7M165.0 262.1h.7M180.3 267.7h.7M185.8 268.8h.7M179.2 264.7h.7" stroke="#7FB0FF"/><path d="M183.3 268.9h.7M191.3 271.3h.7M169.4 262.1h.7M172.5 270.1h.7M166.0 259.5h.7M172.5 262.4h.7M180.0 267.6h.7M170.5 270.2h.7M169.4 268.9h.7M183.6 261.0h.7M180.4 269.0h.7M190.3 271.3h.7M183.6 270.0h.7M170.1 263.5h.7M163.7 259.7h.7M185.8 268.6h.7M172.4 267.7h.7M166.0 268.7h.7M182.5 266.1h.7M181.1 269.0h.7M166.9 260.8h.7M169.4 267.4h.7M173.4 263.6h.7M191.0 271.4h.7M190.2 264.9h.7M185.8 271.2h.7M180.0 265.1h.7M180.0 262.3h.7M174.7 270.0h.7M171.3 264.9h.7M175.6 264.7h.7M169.4 268.8h.7M181.5 259.8h.7M176.7 263.6h.7M164.8 260.9h.7M182.6 263.7h.7M169.2 271.4h.7M174.5 270.1h.7M192.3 267.4h.7M176.8 266.3h.7M179.1 260.8h.7M187.7 259.7h.7M188.1 268.7h.7M171.6 259.8h.7M184.8 265.0h.7M187.7 263.6h.7M180.4 263.8h.7M175.9 271.3h.7M177.9 271.3h.7M182.6 267.6h.7M181.5 266.1h.7M171.2 264.8h.7M164.6 259.9h.7M170.5 261.0h.7M166.9 261.0h.7M185.8 266.3h.7M182.6 270.3h.7M192.1 268.7h.7M179.0 259.7h.7M167.9 268.7h.7M172.3 266.4h.7M182.3 270.0h.7M192.3 267.5h.7" stroke="#00BFC4"/><path d="M184.5 266.3h.7M188.0 271.4h.7M170.2 259.8h.7M169.4 270.1h.7M185.9 266.1h.7M177.0 260.9h.7M173.7 266.3h.7M172.7 267.4h.7M171.5 267.6h.7M192.4 262.3h.7M175.7 268.9h.7M171.6 267.4h.7M171.5 266.1h.7M173.8 271.5h.7M173.4 269.9h.7M183.4 267.4h.7M172.3 269.9h.7M169.0 262.4h.7M188.8 260.9h.7M187.0 268.8h.7M185.9 263.5h.7M179.1 263.5h.7M163.5 271.3h.7M165.9 271.4h.7M180.1 267.4h.7M191.2 271.4h.7M170.2 268.8h.7M169.2 266.2h.7M188.1 271.5h.7M191.1 271.4h.7M176.8 259.7h.7M180.4 261.2h.7M186.9 268.9h.7M169.2 265.1h.7M171.5 260.9h.7M179.1 267.7h.7M183.7 267.4h.7M189.2 262.5h.7M176.8 270.2h.7M177.0 268.9h.7M188.1 265.0h.7M183.3 267.5h.7M172.6 268.9h.7M171.6 267.3h.7M178.2 271.3h.7M192.5 266.1h.7M189.0 269.0h.7M175.8 267.3h.7M182.2 264.8h.7M181.4 268.7h.7M184.4 264.8h.7M182.3 270.1h.7M178.9 264.8h.7M185.8 263.5h.7M189.2 268.7h.7M184.5 271.6h.7M171.2 267.6h.7M176.8 266.1h.7M189.9 265.1h.7M173.6 270.0h.7M172.4 271.4h.7M190.2 268.7h.7M182.2 266.0h.7M178.9 263.6h.7M176.0 261.0h.7M173.8 271.6h.7M180.0 268.8h.7M164.6 262.3h.7M181.2 268.9h.7M176.8 266.2h.7M172.4 269.0h.7M189.9 268.9h.7M180.1 261.1h.7M167.0 262.2h.7M185.9 266.4h.7M191.1 269.9h.7M173.8 267.5h.7M171.6 270.1h.7M166.1 270.2h.7M185.8 270.2h.7M189.0 260.9h.7M173.4 266.0h.7M189.1 268.8h.7M169.2 267.4h.7M175.6 268.9h.7M172.6 271.4h.7M165.7 259.9h.7M172.5 265.0h.7M170.2 263.5h.7M185.9 266.3h.7M181.3 266.2h.7M185.7 263.6h.7M181.2 271.2h.7M166.8 271.3h.7M179.1 259.7h.7M165.7 270.0h.7M179.2 261.0h.7M185.6 271.2h.7M185.7 267.7h.7M177.0 271.5h.7M176.9 261.0h.7M166.1 269.0h.7M184.6 260.9h.7M192.1 268.7h.7M187.7 268.7h.7M190.0 270.1h.7M168.2 261.1h.7M179.0 268.8h.7M172.5 271.5h.7M184.8 266.1h.7M188.9 267.6h.7M183.6 270.2h.7M169.1 264.8h.7M169.1 269.0h.7M173.5 270.0h.7M169.3 267.6h.7M172.4 270.0h.7M171.5 270.3h.7M164.6 271.3h.7M190.0 263.5h.7M176.9 270.2h.7M184.5 266.2h.7M183.4 268.6h.7M191.2 267.6h.7M165.8 268.9h.7M181.3 261.0h.7M185.9 262.4h.7M175.7 266.2h.7M164.6 270.1h.7M166.0 261.1h.7M191.0 269.9h.7M166.8 266.3h.7M183.4 267.4h.7M188.9 264.8h.7M170.3 266.4h.7M170.4 262.5h.7M172.4 264.7h.7M174.8 271.5h.7M169.3 259.8h.7M166.0 264.8h.7M192.5 263.8h.7M173.4 271.5h.7M186.8 261.0h.7M177.1 264.9h.7M192.4 266.3h.7M190.0 271.6h.7M181.1 270.2h.7M173.5 259.5h.7M170.3 265.0h.7M178.9 265.1h.7M163.9 270.1h.7M173.7 266.1h.7M171.3 270.1h.7M179.3 267.5h.7M176.0 269.9h.7M182.6 262.2h.7M173.7 267.3h.7M182.6 266.3h.7M185.5 270.1h.7M192.4 270.3h.7M185.9 268.6h.7M190.3 264.7h.7M165.9 270.1h.7M187.0 263.8h.7" stroke="#619CFF"/><path d="M183.4 268.6h.7M185.7 271.5h.7M179.1 267.3h.7M188.8 271.5h.7M174.5 262.2h.7M166.1 271.5h.7M172.3 269.9h.7M183.6 267.5h.7M169.4 262.3h.7M186.7 271.4h.7M191.4 271.5h.7M169.0 268.9h.7M168.3 267.3h.7M169.2 264.8h.7M187.9 265.0h.7M179.3 264.9h.7M167.9 266.2h.7M179.0 268.7h.7M168.0 260.9h.7M164.6 270.2h.7M165.9 265.0h.7M172.6 262.4h.7M186.6 264.8h.7M184.5 267.6h.7M167.1 270.1h.7M186.8 267.7h.7M170.5 268.8h.7M175.8 268.6h.7M166.9 264.9h.7M182.5 259.7h.7M175.9 270.2h.7M177.8 262.2h.7M184.7 264.8h.7M191.1 270.1h.7M174.5 260.9h.7M172.4 265.0h.7M177.0 271.5h.7M166.0 266.4h.7M163.9 266.3h.7M185.7 271.3h.7M180.4 271.5h.7M190.2 259.7h.7M177.8 271.4h.7M190.0 264.9h.7M182.4 264.9h.7M181.1 259.7h.7M173.7 264.9h.7M191.4 271.4h.7M166.0 267.7h.7M188.8 270.2h.7M176.9 268.8h.7M171.6 271.3h.7M170.3 267.5h.7" stroke="#00BA38"/><path d="M206.3 267.5h.7M200.1 263.6h.7M205.3 266.2h.7M206.4 262.4h.7M203.2 269.9h.7M199.7 271.4h.7M204.3 260.9h.7M205.3 259.6h.7M206.4 268.7h.7M208.8 270.1h.7M202.1 267.6h.7M205.4 263.6h.7M201.9 267.5h.7M200.0 262.2h.7M208.9 262.4h.7M205.4 266.1h.7M200.1 260.9h.7M199.9 262.5h.7M206.5 259.7h.7M204.3 269.9h.7M201.0 262.2h.7M203.2 260.9h.7M208.6 270.0h.7M201.1 271.6h.7M199.9 268.9h.7M205.3 267.3h.7M205.6 265.0h.7M203.2 266.3h.7M207.4 264.8h.7M208.9 260.9h.7M204.5 268.8h.7M201.1 270.2h.7M203.4 267.5h.7M208.9 262.3h.7M202.3 266.3h.7M205.6 268.7h.7M203.1 271.4h.7M200.9 270.2h.7M201.0 262.2h.7M199.9 271.3h.7M207.8 266.1h.7M205.3 270.2h.7M201.9 261.1h.7M204.2 271.3h.7M204.1 270.3h.7M204.4 271.2h.7M201.9 261.0h.7M208.6 266.3h.7M202.0 269.9h.7M204.2 271.4h.7M204.1 263.7h.7M203.2 270.1h.7M208.8 270.0h.7M206.3 262.2h.7M207.4 268.7h.7M208.9 259.8h.7M205.5 268.7h.7M205.5 266.3h.7M208.8 271.3h.7M206.4 264.9h.7M203.3 270.2h.7M200.9 268.7h.7M204.5 259.6h.7M204.1 260.8h.7M202.2 260.8h.7M206.3 267.3h.7M203.0 263.6h.7M203.2 268.6h.7M208.7 270.2h.7M208.9 268.7h.7M203.1 268.8h.7M199.8 271.3h.7M202.0 270.3h.7M203.4 269.9h.7M200.9 271.5h.7M202.2 259.6h.7M208.7 270.2h.7M206.7 265.1h.7M198.3 267.4h.7M198.2 259.6h.7M201.8 262.4h.7M198.3 259.7h.7M200.6 264.8h.7M196.0 270.2h.7M202.8 268.8h.7M204.1 266.3h.7M197.3 260.8h.7M196.4 259.7h.7M200.5 270.1h.7M200.8 267.6h.7M202.7 270.1h.7M204.1 270.0h.7M199.3 268.7h.7M199.4 263.4h.7M201.7 271.5h.7M202.9 263.8h.7M197.4 262.3h.7M197.1 269.0h.7M201.7 261.0h.7M201.9 262.4h.7M197.1 261.1h.7M200.8 271.3h.7M202.9 259.9h.7M202.8 271.3h.7M202.8 270.3h.7M198.3 264.9h.7M200.6 270.3h.7M204.1 271.6h.7M204.0 259.5h.7M200.5 266.2h.7M200.8 271.2h.7M197.2 267.4h.7M201.5 261.0h.7M199.7 261.0h.7M200.6 271.3h.7M200.8 268.8h.7M204.1 262.4h.7M200.5 267.7h.7M197.4 257.1h.7M197.1 268.8h.7M199.7 259.6h.7M198.4 266.1h.7M201.5 267.5h.7M203.0 263.7h.7M196.3 263.6h.7M199.3 270.2h.7M197.4 271.3h.7" stroke="#F564E3"/><path d="M194.6 260.9h.7M193.2 268.7h.7M197.7 259.8h.7M192.1 266.0h.7M196.5 266.3h.7M193.1 267.6h.7M192.0 270.0h.7M196.7 264.8h.7M193.1 263.5h.7M199.0 268.7h.7M195.7 263.7h.7M198.8 271.6h.7M197.5 271.3h.7M196.4 269.9h.7M194.4 264.9h.7M193.3 261.1h.7M198.8 264.8h.7M193.1 267.6h.7M195.4 267.5h.7M198.6 268.9h.7M198.7 270.0h.7M198.6 267.4h.7M194.5 266.3h.7M196.7 271.3h.7M192.0 262.3h.7M197.5 267.4h.7M194.3 262.2h.7M196.4 264.8h.7M195.6 261.1h.7M194.6 267.4h.7M195.5 259.6h.7M197.5 270.1h.7M194.5 271.3h.7M197.6 267.6h.7M197.5 262.3h.7M196.5 271.5h.7M193.4 270.1h.7M194.6 271.3h.7M197.6 265.1h.7M195.3 268.8h.7M193.3 268.9h.7M194.4 269.0h.7M204.1 270.0h.7M202.9 269.9h.7M201.7 262.5h.7M196.3 258.3h.7M198.6 262.3h.7M198.6 266.0h.7M197.3 259.5h.7M196.3 268.6h.7M201.8 258.5h.7M197.1 263.6h.7M197.2 269.0h.7M202.6 270.0h.7M198.3 263.7h.7M201.9 267.5h.7M201.7 265.0h.7M203.0 257.2h.7M199.6 271.3h.7M204.0 271.2h.7M198.3 271.4h.7M199.5 268.7h.7M202.9 259.6h.7M202.9 257.0h.7M196.2 271.2h.7M201.5 271.5h.7M197.1 270.2h.7M198.5 266.4h.7M200.7 268.9h.7M196.2 262.2h.7M196.3 267.4h.7M199.6 270.2h.7M200.7 271.4h.7M202.7 260.9h.7M199.7 266.3h.7M201.6 258.3h.7M198.5 266.2h.7M198.3 271.5h.7M200.8 271.6h.7M199.7 270.3h.7M196.3 266.3h.7M203.7 257.2h.7M200.4 271.4h.7M199.3 268.9h.7M197.3 268.7h.7M196.3 265.0h.7M199.7 262.3h.7M198.6 265.0h.7M197.1 266.2h.7M203.0 259.9h.7M197.2 271.5h.7M197.4 267.5h.7M201.6 267.6h.7M198.5 256.9h.7M200.5 271.6h.7M201.7 270.1h.7M198.3 270.0h.7M196.3 270.2h.7M197.5 268.7h.7M200.8 269.9h.7M202.8 271.3h.7M200.5 270.0h.7M201.5 270.1h.7M203.0 267.3h.7M198.4 270.0h.7M200.4 267.5h.7M203.7 270.1h.7M202.7 271.5h.7M200.4 270.1h.7M197.5 257.1h.7M198.5 262.2h.7M201.9 261.0h.7M198.5 269.9h.7M203.7 270.1h.7M198.3 262.2h.7M196.4 263.5h.7M196.0 265.0h.7M202.7 267.6h.7M197.2 267.6h.7M197.4 267.7h.7M198.3 266.0h.7M200.4 270.1h.7M197.3 265.1h.7M198.6 262.2h.7M202.8 264.9h.7M202.6 268.9h.7M200.8 271.4h.7M202.8 262.2h.7M203.9 264.9h.7M197.3 270.3h.7M204.0 267.4h.7M200.7 257.1h.7M201.5 259.6h.7M202.7 261.0h.7M198.4 258.5h.7M199.7 271.4h.7M197.3 263.4h.7M197.4 267.6h.7M200.7 265.0h.7M201.7 265.0h.7M199.6 259.7h.7M201.5 268.8h.7M200.8 271.2h.7M197.4 270.3h.7M197.1 257.2h.7M201.8 265.0h.7M203.9 259.7h.7M197.1 264.9h.7M201.9 270.0h.7M196.1 270.2h.7M198.2 260.8h.7M198.4 262.2h.7M196.0 266.1h.7M199.7 271.4h.7M199.7 262.4h.7M199.7 270.3h.7M198.2 270.2h.7M202.9 268.7h.7" stroke="#F8766D"/></g>
<path d="M164.00,284.00C164.50,284.33 165.17,286.00 167.00,286.00C168.83,286.00 172.00,284.92 175.00,284.00C178.00,283.08 181.67,281.80 185.00,280.50C188.33,279.20 192.00,277.45 195.00,276.20C198.00,274.95 200.67,273.95 203.00,273.00C205.33,272.05 208.00,270.92 209.00,270.50" fill="none" stroke="#333" stroke-width="0.45"/>
<text x="185.00" y="256.66" font-size="4.6" text-anchor="middle" fill="#111" font-family="Liberation Sans">FOS</text>
<line x1="32.80" y1="298.00" x2="32.80" y2="340.00" stroke="#BBB" stroke-width="0.4"/>
<line x1="32.80" y1="340.00" x2="86.00" y2="340.00" stroke="#BBB" stroke-width="0.4"/>
<text x="34.80" y="342.45" font-size="1.8" text-anchor="middle" fill="#777" font-family="Liberation Sans">0</text>
<text x="46.10" y="342.45" font-size="1.8" text-anchor="middle" fill="#777" font-family="Liberation Sans">5</text>
<text x="57.40" y="342.45" font-size="1.8" text-anchor="middle" fill="#777" font-family="Liberation Sans">10</text>
<text x="68.70" y="342.45" font-size="1.8" text-anchor="middle" fill="#777" font-family="Liberation Sans">15</text>
<text x="80.00" y="342.45" font-size="1.8" text-anchor="middle" fill="#777" font-family="Liberation Sans">20</text>
<text x="59.40" y="344.68" font-size="1.9" text-anchor="middle" fill="#777" font-family="Liberation Sans">Pseudo time</text>
<text x="27.60" y="319.68" font-size="1.9" text-anchor="middle" fill="#777" font-family="Liberation Sans" transform="rotate(-90 27.60 319.00)">Relative Expression</text>
<text x="31.80" y="306.68" font-size="1.9" text-anchor="end" fill="#777" font-family="Liberation Sans">10.0</text>
<text x="31.80" y="319.68" font-size="1.9" text-anchor="end" fill="#777" font-family="Liberation Sans">1.0</text>
<text x="31.80" y="338.18" font-size="1.9" text-anchor="end" fill="#777" font-family="Liberation Sans">0.1</text>
<g stroke-width="1.2" opacity="0.9"><path d="M34.4 315.4h1.2M35.7 315.4h1.2M36.9 315.4h1.2M38.2 315.4h1.2M39.5 315.4h1.2M40.7 315.4h1.2M42.0 315.4h1.2M43.3 315.4h1.2M44.5 315.4h1.2M45.8 315.4h1.2M47.0 315.4h1.2" stroke="#619CFF"/><path d="M49.6 315.4h1.2M50.8 315.4h1.2M52.1 315.4h1.2M53.4 315.4h1.2M54.6 315.4h1.2M55.9 315.4h1.2" stroke="#00BFC4"/><path d="M57.2 315.4h1.2M58.4 315.4h1.2M59.7 315.4h1.2M61.0 315.4h1.2" stroke="#00BA38"/><path d="M62.2 315.4h1.2M63.5 315.4h1.2M64.8 315.4h1.2" stroke="#B79F00"/><path d="M66.0 315.4h1.2M67.3 315.4h1.2M68.6 315.4h1.2M69.8 315.4h1.2M71.1 315.4h1.2M72.3 315.4h1.2" stroke="#F8766D"/><path d="M74.9 315.4h1.2M76.1 315.4h1.2M77.4 315.4h1.2M78.7 315.4h1.2M79.9 315.4h1.2M81.2 315.4h1.2M82.5 315.4h1.2M83.7 315.4h1.2" stroke="#F564E3"/></g>
<g stroke-width="1.2" opacity="0.9"><path d="M34.4 320.7h1.2M35.7 320.7h1.2M36.9 320.7h1.2M39.5 320.7h1.2M40.7 320.7h1.2M42.0 320.7h1.2M43.3 320.7h1.2M44.5 320.7h1.2M45.8 320.7h1.2M47.0 320.7h1.2M48.3 320.7h1.2" stroke="#619CFF"/><path d="M49.6 320.7h1.2M50.8 320.7h1.2M52.1 320.7h1.2M53.4 320.7h1.2M54.6 320.7h1.2M55.9 320.7h1.2" stroke="#00BFC4"/><path d="M57.2 320.7h1.2M58.4 320.7h1.2M59.7 320.7h1.2M61.0 320.7h1.2" stroke="#00BA38"/><path d="M62.2 320.7h1.2M63.5 320.7h1.2M64.8 320.7h1.2" stroke="#B79F00"/><path d="M66.0 320.7h1.2M67.3 320.7h1.2M68.6 320.7h1.2M69.8 320.7h1.2M71.1 320.7h1.2M72.3 320.7h1.2M73.6 320.7h1.2" stroke="#F8766D"/><path d="M74.9 320.7h1.2M76.1 320.7h1.2M77.4 320.7h1.2M78.7 320.7h1.2M79.9 320.7h1.2M81.2 320.7h1.2M82.5 320.7h1.2M83.7 320.7h1.2" stroke="#F564E3"/></g>
<g stroke-width="1.2" opacity="0.9"><path d="M34.4 325.0h1.2M35.7 325.0h1.2M36.9 325.0h1.2M38.2 325.0h1.2M39.5 325.0h1.2M40.7 325.0h1.2M42.0 325.0h1.2M43.3 325.0h1.2M44.5 325.0h1.2M45.8 325.0h1.2M47.0 325.0h1.2M48.3 325.0h1.2" stroke="#619CFF"/><path d="M50.8 325.0h1.2M52.1 325.0h1.2M53.4 325.0h1.2M54.6 325.0h1.2M55.9 325.0h1.2" stroke="#00BFC4"/><path d="M57.2 325.0h1.2M58.4 325.0h1.2M59.7 325.0h1.2M61.0 325.0h1.2" stroke="#00BA38"/><path d="M62.2 325.0h1.2M63.5 325.0h1.2M64.8 325.0h1.2" stroke="#B79F00"/><path d="M66.0 325.0h1.2M67.3 325.0h1.2M68.6 325.0h1.2M69.8 325.0h1.2M71.1 325.0h1.2M72.3 325.0h1.2" stroke="#F8766D"/><path d="M74.9 325.0h1.2M77.4 325.0h1.2M78.7 325.0h1.2M79.9 325.0h1.2M81.2 325.0h1.2M82.5 325.0h1.2M83.7 325.0h1.2" stroke="#F564E3"/></g>
<g stroke-width="1.2" opacity="0.9"><path d="M34.4 339.3h1.2M35.7 339.3h1.2M36.9 339.3h1.2M38.2 339.3h1.2M39.5 339.3h1.2M40.7 339.3h1.2M42.0 339.3h1.2M43.3 339.3h1.2M44.5 339.3h1.2M45.8 339.3h1.2M47.0 339.3h1.2M48.3 339.3h1.2M49.6 339.3h1.2M50.8 339.3h1.2M52.1 339.3h1.2M53.4 339.3h1.2M54.6 339.3h1.2" stroke="#619CFF"/><path d="M55.9 339.3h1.2M57.2 339.3h1.2M58.4 339.3h1.2" stroke="#00BFC4"/><path d="M59.7 339.3h1.2M61.0 339.3h1.2M62.2 339.3h1.2" stroke="#00BA38"/><path d="M63.5 339.3h1.2M64.8 339.3h1.2" stroke="#B79F00"/><path d="M66.0 339.3h1.2M67.3 339.3h1.2M68.6 339.3h1.2M69.8 339.3h1.2M71.1 339.3h1.2M72.3 339.3h1.2M73.6 339.3h1.2" stroke="#F8766D"/><path d="M74.9 339.3h1.2M76.1 339.3h1.2M77.4 339.3h1.2M78.7 339.3h1.2M79.9 339.3h1.2M81.2 339.3h1.2M82.5 339.3h1.2M83.7 339.3h1.2" stroke="#F564E3"/></g>
<g opacity="0.9" stroke-width="0.75"><path d="M58.3 314.8h.7M35.5 318.6h.7M56.5 322.8h.7M39.9 321.3h.7M67.4 324.0h.7M55.1 318.9h.7M59.6 321.6h.7M41.1 319.9h.7M40.0 316.2h.7M58.6 323.9h.7M36.7 321.5h.7M69.3 322.5h.7M70.5 324.2h.7M41.1 314.8h.7M36.4 318.7h.7M64.9 316.2h.7M48.6 322.6h.7M45.1 310.8h.7M54.0 324.2h.7M48.7 321.4h.7M45.2 322.8h.7M43.2 322.9h.7M63.1 318.9h.7M55.4 319.9h.7" stroke="#00BA38"/><path d="M50.9 316.1h.7M69.7 312.3h.7M38.9 314.9h.7M62.9 321.4h.7M47.6 312.5h.7M53.2 322.6h.7M35.6 321.3h.7M36.3 316.4h.7M70.5 317.7h.7M38.7 313.7h.7M64.0 322.6h.7M44.4 313.7h.7M54.1 312.4h.7M34.1 318.7h.7" stroke="#6CC060"/><path d="M54.3 313.7h.7M47.4 314.7h.7M41.1 317.5h.7M64.1 316.3h.7M55.2 317.5h.7M65.1 321.6h.7M35.3 317.6h.7M39.6 318.7h.7M35.2 313.7h.7M51.7 324.0h.7M71.6 323.8h.7M36.7 316.1h.7M43.0 324.0h.7M52.1 324.1h.7M43.0 321.5h.7M66.4 322.7h.7M46.3 312.4h.7M53.9 314.9h.7M60.7 321.3h.7M67.5 317.4h.7M54.2 320.2h.7M65.3 321.4h.7" stroke="#00BFC4"/><path d="M72.9 301.8h.7M72.7 306.7h.7M74.8 307.0h.7M75.0 319.8h.7M76.0 306.7h.7M73.7 313.1h.7M73.7 304.3h.7M75.2 304.3h.7M73.7 323.5h.7M74.0 304.3h.7M75.0 319.9h.7M75.9 313.3h.7M74.9 302.7h.7M74.0 321.0h.7M75.0 308.0h.7M73.7 319.7h.7M72.9 322.3h.7M74.8 325.0h.7" stroke="#F8766D"/><path d="M76.1 315.7h.7M73.8 321.0h.7M73.7 324.8h.7M75.0 325.0h.7M75.1 322.3h.7M75.1 322.5h.7M75.1 323.5h.7M73.9 318.4h.7M74.0 309.5h.7M75.0 311.9h.7M73.0 321.2h.7M73.7 314.7h.7" stroke="#F564E3"/></g>
<path d="M36.00,334.00C36.67,334.42 38.50,336.17 40.00,336.50C41.50,336.83 43.00,336.58 45.00,336.00C47.00,335.42 49.50,333.77 52.00,333.00C54.50,332.23 57.50,331.65 60.00,331.40C62.50,331.15 64.50,331.15 67.00,331.50C69.50,331.85 72.00,332.58 75.00,333.50C78.00,334.42 83.33,336.42 85.00,337.00" fill="none" stroke="#333" stroke-width="0.45"/>
<text x="62.40" y="301.26" font-size="4.6" text-anchor="middle" fill="#111" font-family="Liberation Sans">IGHG1</text>
<line x1="97.80" y1="298.00" x2="97.80" y2="340.00" stroke="#BBB" stroke-width="0.4"/>
<line x1="97.80" y1="340.00" x2="151.30" y2="340.00" stroke="#BBB" stroke-width="0.4"/>
<text x="99.80" y="342.45" font-size="1.8" text-anchor="middle" fill="#777" font-family="Liberation Sans">0</text>
<text x="111.17" y="342.45" font-size="1.8" text-anchor="middle" fill="#777" font-family="Liberation Sans">5</text>
<text x="122.55" y="342.45" font-size="1.8" text-anchor="middle" fill="#777" font-family="Liberation Sans">10</text>
<text x="133.93" y="342.45" font-size="1.8" text-anchor="middle" fill="#777" font-family="Liberation Sans">15</text>
<text x="145.30" y="342.45" font-size="1.8" text-anchor="middle" fill="#777" font-family="Liberation Sans">20</text>
<text x="124.55" y="344.68" font-size="1.9" text-anchor="middle" fill="#777" font-family="Liberation Sans">Pseudo time</text>
<text x="92.60" y="319.68" font-size="1.9" text-anchor="middle" fill="#777" font-family="Liberation Sans" transform="rotate(-90 92.60 319.00)">Relative Expression</text>
<text x="96.80" y="306.68" font-size="1.9" text-anchor="end" fill="#777" font-family="Liberation Sans">10.0</text>
<text x="96.80" y="319.68" font-size="1.9" text-anchor="end" fill="#777" font-family="Liberation Sans">1.0</text>
<text x="96.80" y="338.18" font-size="1.9" text-anchor="end" fill="#777" font-family="Liberation Sans">0.1</text>
<g stroke-width="1.2" opacity="0.9"><path d="M99.4 315.4h1.2M100.7 315.4h1.2M101.9 315.4h1.2M103.2 315.4h1.2M104.5 315.4h1.2M105.8 315.4h1.2M107.0 315.4h1.2M108.3 315.4h1.2M109.6 315.4h1.2M110.9 315.4h1.2M112.1 315.4h1.2M113.4 315.4h1.2" stroke="#619CFF"/><path d="M114.7 315.4h1.2M115.9 315.4h1.2M117.2 315.4h1.2M118.5 315.4h1.2M119.8 315.4h1.2M121.0 315.4h1.2" stroke="#00BFC4"/><path d="M122.3 315.4h1.2M123.6 315.4h1.2M124.8 315.4h1.2M126.1 315.4h1.2" stroke="#00BA38"/><path d="M127.4 315.4h1.2M128.7 315.4h1.2M129.9 315.4h1.2" stroke="#B79F00"/><path d="M131.2 315.4h1.2M132.5 315.4h1.2M133.8 315.4h1.2M135.0 315.4h1.2M136.3 315.4h1.2M137.6 315.4h1.2M138.8 315.4h1.2" stroke="#F8766D"/><path d="M140.1 315.4h1.2M141.4 315.4h1.2M142.7 315.4h1.2M143.9 315.4h1.2M146.5 315.4h1.2M147.8 315.4h1.2M149.0 315.4h1.2" stroke="#F564E3"/></g>
<g stroke-width="1.2" opacity="0.9"><path d="M99.4 322.7h1.2M100.7 322.7h1.2M101.9 322.7h1.2M103.2 322.7h1.2M104.5 322.7h1.2M105.8 322.7h1.2M108.3 322.7h1.2M109.6 322.7h1.2M110.9 322.7h1.2M112.1 322.7h1.2M113.4 322.7h1.2" stroke="#619CFF"/><path d="M115.9 322.7h1.2M117.2 322.7h1.2M118.5 322.7h1.2M119.8 322.7h1.2M121.0 322.7h1.2" stroke="#00BFC4"/><path d="M122.3 322.7h1.2M123.6 322.7h1.2M124.8 322.7h1.2M126.1 322.7h1.2" stroke="#00BA38"/><path d="M127.4 322.7h1.2M128.7 322.7h1.2M129.9 322.7h1.2" stroke="#B79F00"/><path d="M131.2 322.7h1.2M132.5 322.7h1.2M133.8 322.7h1.2M135.0 322.7h1.2M136.3 322.7h1.2M138.8 322.7h1.2" stroke="#F8766D"/><path d="M140.1 322.7h1.2M141.4 322.7h1.2M142.7 322.7h1.2M143.9 322.7h1.2M146.5 322.7h1.2M147.8 322.7h1.2M149.0 322.7h1.2" stroke="#F564E3"/></g>
<g stroke-width="1.2" opacity="0.9"><path d="M99.4 339.3h1.2M100.7 339.3h1.2M101.9 339.3h1.2M103.2 339.3h1.2M104.5 339.3h1.2M105.8 339.3h1.2M107.0 339.3h1.2M108.3 339.3h1.2M109.6 339.3h1.2M110.9 339.3h1.2M112.1 339.3h1.2M113.4 339.3h1.2M114.7 339.3h1.2M115.9 339.3h1.2M117.2 339.3h1.2M118.5 339.3h1.2M119.8 339.3h1.2" stroke="#619CFF"/><path d="M121.0 339.3h1.2M122.3 339.3h1.2M123.6 339.3h1.2" stroke="#00BFC4"/><path d="M124.8 339.3h1.2M126.1 339.3h1.2M127.4 339.3h1.2" stroke="#00BA38"/><path d="M128.7 339.3h1.2M129.9 339.3h1.2" stroke="#B79F00"/><path d="M131.2 339.3h1.2M132.5 339.3h1.2M133.8 339.3h1.2M135.0 339.3h1.2M136.3 339.3h1.2M137.6 339.3h1.2M138.8 339.3h1.2" stroke="#F8766D"/><path d="M140.1 339.3h1.2M141.4 339.3h1.2M142.7 339.3h1.2M143.9 339.3h1.2M145.2 339.3h1.2M146.5 339.3h1.2M147.8 339.3h1.2M149.0 339.3h1.2" stroke="#F564E3"/></g>
<g opacity="0.9" stroke-width="0.75"><path d="M109.3 316.1h.7M131.1 316.2h.7M139.8 314.5h.7M135.5 308.2h.7M129.0 315.9h.7M100.6 313.2h.7M139.1 301.5h.7M103.6 315.9h.7M115.7 303.2h.7M100.3 315.8h.7M126.6 307.0h.7M122.3 304.2h.7M108.3 304.2h.7M138.9 301.6h.7M134.4 307.0h.7M125.5 311.0h.7M131.1 305.7h.7M122.3 316.0h.7M125.7 314.5h.7M109.2 309.6h.7M110.1 305.6h.7M116.9 313.2h.7M142.3 312.2h.7M134.6 314.9h.7M112.4 312.3h.7M99.1 301.8h.7M121.3 304.4h.7M124.5 314.8h.7M125.6 310.8h.7M124.7 316.2h.7M131.3 314.5h.7M111.3 312.0h.7M123.7 310.7h.7M134.7 314.5h.7M108.3 310.6h.7M134.3 312.1h.7M111.2 310.8h.7M106.1 309.3h.7M130.3 308.1h.7M136.6 314.7h.7M114.9 314.7h.7M115.9 316.0h.7M128.0 309.5h.7M128.9 305.8h.7M106.0 308.1h.7M133.3 314.6h.7M127.7 313.3h.7M103.6 312.2h.7M115.7 308.1h.7M110.4 312.1h.7M131.4 315.8h.7M132.5 301.9h.7M129.2 301.7h.7M127.8 316.1h.7M115.7 316.1h.7M112.7 314.8h.7M109.0 316.0h.7M125.8 308.1h.7M132.2 305.8h.7M102.6 316.1h.7M136.9 314.5h.7M135.7 303.2h.7M134.4 309.6h.7M110.5 310.7h.7M110.3 301.7h.7M127.9 314.7h.7M142.4 314.9h.7M131.0 313.2h.7M100.3 316.1h.7M100.3 304.2h.7M125.6 309.7h.7M115.7 315.8h.7M100.4 314.7h.7M108.2 308.1h.7M105.8 307.0h.7M115.6 316.2h.7M119.1 314.7h.7M107.2 312.0h.7M110.3 315.8h.7M102.7 306.7h.7M131.4 302.9h.7M132.4 305.6h.7M127.8 308.2h.7M137.7 309.5h.7M131.1 304.4h.7M114.8 306.8h.7M128.9 312.0h.7M137.8 308.0h.7M128.9 314.8h.7M124.8 312.1h.7M113.7 313.5h.7M123.4 314.5h.7M99.4 315.9h.7M128.1 304.4h.7M131.1 311.4h.7M130.0 318.1h.7M130.2 307.4h.7M127.7 302.5h.7M129.9 303.8h.7M133.2 314.1h.7M133.2 315.5h.7M132.3 314.0h.7M129.0 316.6h.7M134.4 316.6h.7M132.4 318.1h.7M134.5 305.0h.7" stroke="#00BFC4"/><path d="M133.4 305.7h.7M139.8 313.3h.7M133.4 305.7h.7M116.8 314.8h.7M138.0 313.6h.7M126.9 316.0h.7M132.4 304.2h.7M116.8 314.7h.7M105.8 310.7h.7M136.6 304.2h.7M108.2 308.0h.7M138.0 312.2h.7M111.6 306.9h.7M125.7 306.9h.7M108.0 312.2h.7M137.6 309.6h.7M118.9 308.1h.7M114.5 309.5h.7M139.8 310.7h.7M107.0 315.8h.7M127.8 304.3h.7M104.7 301.8h.7M142.0 309.4h.7M119.3 305.8h.7M103.7 301.9h.7M110.5 316.2h.7M125.6 314.6h.7M115.6 314.7h.7M142.3 312.2h.7M142.3 316.0h.7M109.1 302.9h.7M143.5 313.6h.7M140.0 315.8h.7M125.9 309.5h.7M111.2 309.7h.7M133.2 303.1h.7M126.9 311.9h.7M132.1 314.7h.7M112.4 314.7h.7M119.2 308.3h.7M102.4 314.6h.7M111.5 314.6h.7M119.0 308.4h.7M103.9 310.7h.7M115.6 309.4h.7M104.7 315.9h.7M112.4 305.8h.7M125.6 314.5h.7M104.9 301.7h.7M121.2 307.0h.7M140.0 310.7h.7M113.5 313.3h.7M115.6 312.0h.7M136.7 310.8h.7M138.8 316.1h.7M105.0 313.3h.7M115.6 315.8h.7M120.1 312.1h.7M108.3 314.9h.7M108.3 315.9h.7M140.2 312.1h.7M114.5 315.9h.7M133.3 314.7h.7M119.1 313.5h.7M136.5 313.6h.7M139.1 313.3h.7M111.2 302.8h.7M142.3 310.7h.7M137.8 310.9h.7M134.6 314.6h.7M113.4 304.3h.7M121.4 305.7h.7M106.1 301.6h.7M129.2 313.3h.7M113.5 306.8h.7M115.6 314.6h.7M100.5 310.9h.7M107.0 314.8h.7M125.6 316.0h.7M128.1 302.8h.7M136.9 304.4h.7M130.2 310.8h.7M100.5 305.4h.7M115.7 314.9h.7M107.9 314.8h.7M136.9 303.0h.7M123.5 308.4h.7M111.6 314.8h.7M111.3 309.4h.7M122.5 310.8h.7M112.5 307.0h.7M141.1 313.5h.7M139.0 306.7h.7M130.3 313.5h.7M100.4 309.6h.7M102.7 303.1h.7M138.0 314.7h.7M135.8 311.0h.7M137.6 304.3h.7M128.9 314.8h.7M109.4 316.1h.7M134.6 307.0h.7M136.5 301.6h.7M132.4 314.8h.7M132.4 316.2h.7M110.4 314.8h.7M108.0 311.0h.7M120.1 313.2h.7M131.1 315.9h.7M130.3 303.2h.7M101.3 309.6h.7M142.4 310.7h.7M111.4 314.7h.7M112.3 312.0h.7M113.7 302.9h.7M126.6 310.9h.7M125.7 309.4h.7M103.6 303.2h.7M125.9 308.1h.7M103.5 305.8h.7M104.8 301.5h.7M138.9 305.8h.7M129.9 312.1h.7M121.2 304.2h.7M101.5 314.5h.7M115.9 304.2h.7M131.4 316.0h.7M128.9 313.6h.7M104.8 305.8h.7M122.2 311.0h.7M104.6 316.0h.7M109.0 308.3h.7M135.5 305.4h.7M107.0 313.4h.7M109.2 316.0h.7M137.7 311.0h.7M103.6 316.1h.7M118.2 309.7h.7M123.4 305.7h.7M122.3 312.1h.7M115.9 312.1h.7M126.8 305.5h.7M124.6 315.9h.7M112.7 304.3h.7M109.1 305.8h.7M101.7 309.5h.7M113.7 314.9h.7M102.7 314.9h.7M127.9 309.7h.7M138.7 314.5h.7M114.7 313.2h.7M135.7 314.6h.7M109.0 308.3h.7M141.0 314.7h.7M115.6 315.8h.7M101.6 314.6h.7M142.3 316.2h.7M108.1 312.3h.7M125.8 304.3h.7M136.5 316.2h.7M109.1 316.1h.7M125.5 301.5h.7M121.2 308.1h.7M132.2 308.2h.7M118.0 305.7h.7M121.1 305.6h.7M126.7 313.5h.7M140.1 310.8h.7M131.4 314.8h.7M130.2 316.0h.7M106.9 310.9h.7M99.1 314.9h.7M120.0 309.4h.7M103.7 311.0h.7M116.8 304.4h.7M138.8 310.9h.7M143.2 310.7h.7M111.3 313.3h.7M123.7 314.5h.7M127.7 304.2h.7M121.5 308.2h.7M140.1 302.8h.7M139.9 313.4h.7M104.6 308.2h.7M135.7 314.8h.7M121.1 304.1h.7M138.9 301.5h.7M118.0 314.5h.7M139.0 312.2h.7M116.7 310.7h.7M125.9 314.8h.7M128.0 306.7h.7M128.1 309.5h.7M116.7 312.1h.7M129.2 314.8h.7M118.1 314.6h.7M111.4 313.5h.7M124.7 313.6h.7M113.8 304.5h.7M114.6 313.5h.7M121.1 309.4h.7M121.4 312.1h.7M103.8 312.2h.7M111.3 313.4h.7M110.1 302.9h.7M120.1 309.5h.7M115.9 305.7h.7M106.1 308.4h.7M100.2 313.3h.7M104.8 314.8h.7M133.2 306.8h.7M126.6 311.9h.7M112.7 308.2h.7M109.4 315.9h.7M111.6 309.4h.7M143.5 305.5h.7M100.6 313.3h.7M121.3 310.8h.7M105.9 305.6h.7M110.2 301.7h.7M142.1 301.5h.7M142.1 309.4h.7M126.9 309.7h.7M142.3 315.9h.7M130.1 306.8h.7M110.2 304.2h.7M105.9 308.3h.7M115.7 315.9h.7M113.7 304.2h.7M119.0 315.8h.7M136.8 316.0h.7M121.3 304.5h.7M129.0 312.3h.7M135.5 313.6h.7M126.7 314.6h.7M116.0 313.5h.7M121.2 312.3h.7M141.3 314.5h.7M135.5 309.7h.7M133.4 306.9h.7M109.2 304.5h.7M110.5 316.2h.7M112.6 314.8h.7M142.4 310.9h.7M115.7 314.8h.7M112.6 304.4h.7M100.6 314.6h.7M131.2 316.1h.7M118.1 309.4h.7M111.2 306.8h.7M104.9 308.2h.7M121.5 302.9h.7M120.1 306.9h.7M119.0 312.1h.7M109.4 312.2h.7M122.6 306.8h.7M138.9 304.5h.7M139.1 303.1h.7M131.2 309.3h.7M122.2 305.4h.7M109.3 312.3h.7M106.1 312.0h.7M121.2 314.7h.7M133.3 315.9h.7M140.9 310.6h.7M133.3 309.6h.7M131.2 316.1h.7M134.4 310.9h.7M143.5 313.2h.7M109.0 312.0h.7M122.3 303.1h.7M120.4 316.1h.7M110.2 313.5h.7M119.3 314.5h.7M136.8 315.9h.7M142.3 316.1h.7M141.3 308.4h.7M111.2 310.9h.7M133.4 315.8h.7M108.3 313.3h.7M101.6 308.1h.7M114.9 314.5h.7M112.5 312.3h.7M122.6 315.9h.7M123.4 309.4h.7M127.9 316.1h.7M113.8 316.2h.7M100.3 314.9h.7M140.0 303.1h.7" stroke="#619CFF"/><path d="M102.8 304.1h.7M136.5 316.1h.7M118.9 313.6h.7M105.7 309.6h.7M104.9 316.0h.7M113.5 313.2h.7M130.1 306.7h.7M136.5 313.3h.7M130.1 316.2h.7M140.9 308.3h.7M103.8 308.4h.7M129.1 303.1h.7M135.5 312.1h.7M120.3 303.1h.7M103.7 315.9h.7M124.8 312.3h.7M139.0 312.1h.7M119.2 310.7h.7M122.5 313.6h.7M104.7 301.8h.7M100.3 313.4h.7M118.9 304.4h.7M133.2 312.2h.7M122.5 308.2h.7M127.7 312.0h.7M111.6 312.1h.7M141.2 313.5h.7M119.3 313.3h.7M133.6 316.0h.7M138.9 306.8h.7M118.1 301.7h.7M102.7 309.7h.7M107.2 302.8h.7M119.1 303.0h.7M116.0 312.3h.7M129.0 303.1h.7M136.7 314.7h.7M133.2 308.2h.7M137.6 314.7h.7M112.5 314.7h.7M112.6 314.7h.7M137.9 314.7h.7M101.3 313.5h.7M114.8 308.0h.7M109.2 308.2h.7M136.7 303.1h.7M109.4 301.7h.7M107.2 312.1h.7M131.4 316.0h.7M135.7 308.0h.7M129.0 303.2h.7M142.4 305.4h.7M132.4 316.0h.7M129.2 309.5h.7M136.8 316.0h.7M127.8 316.1h.7M119.1 315.9h.7M129.0 314.8h.7M101.6 308.0h.7M123.4 308.2h.7M106.0 303.1h.7M121.4 315.9h.7M100.4 313.3h.7M117.0 312.2h.7M106.8 309.6h.7M130.1 314.6h.7M111.2 306.8h.7M133.3 308.0h.7M108.3 313.3h.7M123.4 313.5h.7M99.1 306.9h.7M139.1 314.6h.7M131.4 310.9h.7M106.9 305.4h.7M114.5 315.8h.7M136.8 315.8h.7M139.9 304.4h.7M115.6 307.1h.7M115.7 310.9h.7M123.7 316.1h.7M135.4 314.7h.7M141.3 310.6h.7M122.2 304.5h.7M141.2 309.4h.7M128.8 316.7h.7M133.1 305.1h.7M127.8 304.9h.7M129.1 314.3h.7M133.3 312.8h.7M131.2 306.5h.7M134.2 312.8h.7M133.5 307.7h.7M132.1 312.8h.7M129.1 316.5h.7M134.6 306.4h.7M133.3 316.7h.7M128.9 312.7h.7M132.1 311.5h.7M130.2 314.3h.7M130.9 302.2h.7M132.1 302.6h.7M129.9 302.2h.7M132.3 308.8h.7M134.2 312.9h.7M131.3 309.1h.7M129.8 310.3h.7M128.8 306.2h.7M133.1 318.0h.7M132.1 317.9h.7M133.3 305.1h.7M134.2 311.5h.7M133.2 317.9h.7M128.9 315.5h.7M134.5 313.0h.7M129.9 304.8h.7M133.4 315.3h.7M132.0 306.2h.7M134.3 308.7h.7M132.4 307.6h.7" stroke="#00BA38"/><path d="M143.3 312.2h.7M133.3 314.6h.7M134.6 312.0h.7M101.7 301.6h.7M121.3 315.9h.7M103.8 314.7h.7M123.7 312.1h.7M109.0 316.0h.7M125.5 316.1h.7M132.5 307.0h.7M112.6 302.9h.7M111.4 305.8h.7M135.6 314.8h.7M115.8 305.6h.7M119.2 313.3h.7M109.4 301.8h.7M124.4 300.5h.7M104.7 314.8h.7M105.0 312.1h.7M99.3 314.7h.7M129.2 304.4h.7M120.1 306.7h.7M121.5 306.8h.7M132.5 304.1h.7M136.5 313.2h.7M124.6 314.7h.7M121.1 303.1h.7M135.8 310.7h.7M142.1 308.4h.7M118.1 305.6h.7M121.3 315.8h.7M108.3 308.1h.7M122.3 314.9h.7M102.5 310.9h.7M110.5 310.9h.7M109.3 316.0h.7M134.5 304.3h.7M100.4 313.3h.7M99.5 305.5h.7M129.9 313.5h.7M141.1 314.7h.7M132.1 313.3h.7M121.2 316.1h.7M129.2 314.8h.7M133.5 309.6h.7M136.8 305.5h.7M132.5 314.6h.7M137.6 314.5h.7M113.8 301.6h.7M102.5 309.4h.7M134.7 308.4h.7M122.4 302.8h.7M101.3 313.3h.7M131.1 310.7h.7M111.6 309.7h.7M141.1 308.0h.7M126.8 310.8h.7M118.9 316.0h.7M115.9 313.3h.7M121.4 308.4h.7M135.4 316.1h.7M105.0 305.4h.7M128.8 308.1h.7M102.5 304.4h.7M117.1 308.0h.7M122.4 304.1h.7M142.4 316.0h.7M134.3 308.2h.7M113.5 303.0h.7M116.0 309.6h.7M104.9 309.5h.7M101.5 309.4h.7M104.7 312.1h.7" stroke="#7FB0FF"/><path d="M128.9 316.6h.7M128.0 302.3h.7M131.2 312.8h.7M132.3 318.0h.7M132.2 306.5h.7M134.3 317.9h.7M129.9 312.8h.7M129.8 316.6h.7M132.3 306.2h.7M128.8 314.1h.7M130.9 314.0h.7M133.4 301.0h.7M128.9 310.1h.7" stroke="#4CC870"/></g>
<path d="M100.00,313.00C101.67,313.00 106.67,312.97 110.00,313.00C113.33,313.03 117.00,312.87 120.00,313.20C123.00,313.53 125.50,314.12 128.00,315.00C130.50,315.88 132.67,317.25 135.00,318.50C137.33,319.75 139.33,321.17 142.00,322.50C144.67,323.83 149.50,325.83 151.00,326.50" fill="none" stroke="#333" stroke-width="0.45"/>
<text x="127.20" y="301.26" font-size="4.6" text-anchor="middle" fill="#111" font-family="Liberation Sans">MS4A1</text>
<line x1="162.20" y1="298.00" x2="162.20" y2="340.00" stroke="#BBB" stroke-width="0.4"/>
<line x1="162.20" y1="340.00" x2="209.80" y2="340.00" stroke="#BBB" stroke-width="0.4"/>
<text x="164.20" y="342.45" font-size="1.8" text-anchor="middle" fill="#777" font-family="Liberation Sans">0</text>
<text x="174.10" y="342.45" font-size="1.8" text-anchor="middle" fill="#777" font-family="Liberation Sans">5</text>
<text x="184.00" y="342.45" font-size="1.8" text-anchor="middle" fill="#777" font-family="Liberation Sans">10</text>
<text x="193.90" y="342.45" font-size="1.8" text-anchor="middle" fill="#777" font-family="Liberation Sans">15</text>
<text x="203.80" y="342.45" font-size="1.8" text-anchor="middle" fill="#777" font-family="Liberation Sans">20</text>
<text x="186.00" y="344.68" font-size="1.9" text-anchor="middle" fill="#777" font-family="Liberation Sans">Pseudo time</text>
<text x="157.00" y="319.68" font-size="1.9" text-anchor="middle" fill="#777" font-family="Liberation Sans" transform="rotate(-90 157.00 319.00)">Relative Expression</text>
<text x="161.20" y="306.68" font-size="1.9" text-anchor="end" fill="#777" font-family="Liberation Sans">10.0</text>
<text x="161.20" y="319.68" font-size="1.9" text-anchor="end" fill="#777" font-family="Liberation Sans">1.0</text>
<text x="161.20" y="338.18" font-size="1.9" text-anchor="end" fill="#777" font-family="Liberation Sans">0.1</text>
<g stroke-width="1.2" opacity="0.9"><path d="M163.8 315.4h1.1M164.9 315.4h1.1M166.0 315.4h1.1M167.2 315.4h1.1M168.3 315.4h1.1M169.4 315.4h1.1M170.5 315.4h1.1M171.7 315.4h1.1M172.8 315.4h1.1M173.9 315.4h1.1M175.0 315.4h1.1M176.2 315.4h1.1" stroke="#619CFF"/><path d="M177.3 315.4h1.1M178.4 315.4h1.1M179.5 315.4h1.1M180.7 315.4h1.1M181.8 315.4h1.1M182.9 315.4h1.1" stroke="#00BFC4"/><path d="M184.0 315.4h1.1M186.3 315.4h1.1M187.4 315.4h1.1" stroke="#00BA38"/><path d="M188.5 315.4h1.1M189.7 315.4h1.1M190.8 315.4h1.1" stroke="#B79F00"/><path d="M191.9 315.4h1.1M193.0 315.4h1.1M194.2 315.4h1.1M195.3 315.4h1.1M196.4 315.4h1.1M197.5 315.4h1.1M198.7 315.4h1.1" stroke="#F8766D"/><path d="M199.8 315.4h1.1M200.9 315.4h1.1M202.0 315.4h1.1M203.2 315.4h1.1M204.3 315.4h1.1M205.4 315.4h1.1M206.5 315.4h1.1M207.7 315.4h1.1" stroke="#F564E3"/></g>
<g stroke-width="1.2" opacity="0.9"><path d="M163.8 320.7h1.1M164.9 320.7h1.1M166.0 320.7h1.1M167.2 320.7h1.1M168.3 320.7h1.1M169.4 320.7h1.1M170.5 320.7h1.1M171.7 320.7h1.1M172.8 320.7h1.1M173.9 320.7h1.1M175.0 320.7h1.1M176.2 320.7h1.1" stroke="#619CFF"/><path d="M177.3 320.7h1.1M178.4 320.7h1.1M179.5 320.7h1.1M180.7 320.7h1.1M181.8 320.7h1.1M182.9 320.7h1.1" stroke="#00BFC4"/><path d="M184.0 320.7h1.1M185.2 320.7h1.1M186.3 320.7h1.1M187.4 320.7h1.1" stroke="#00BA38"/><path d="M188.5 320.7h1.1M190.8 320.7h1.1" stroke="#B79F00"/><path d="M191.9 320.7h1.1M193.0 320.7h1.1M194.2 320.7h1.1M195.3 320.7h1.1M196.4 320.7h1.1M197.5 320.7h1.1M198.7 320.7h1.1" stroke="#F8766D"/><path d="M199.8 320.7h1.1M200.9 320.7h1.1M202.0 320.7h1.1M204.3 320.7h1.1M205.4 320.7h1.1M206.5 320.7h1.1M207.7 320.7h1.1" stroke="#F564E3"/></g>
<g stroke-width="1.2" opacity="0.9"><path d="M163.8 339.3h1.1M164.9 339.3h1.1M166.0 339.3h1.1M167.2 339.3h1.1M168.3 339.3h1.1M169.4 339.3h1.1M170.5 339.3h1.1M171.7 339.3h1.1M172.8 339.3h1.1M173.9 339.3h1.1M175.0 339.3h1.1M176.2 339.3h1.1M177.3 339.3h1.1M178.4 339.3h1.1M179.5 339.3h1.1M180.7 339.3h1.1M181.8 339.3h1.1" stroke="#619CFF"/><path d="M182.9 339.3h1.1M184.0 339.3h1.1M185.2 339.3h1.1" stroke="#00BFC4"/><path d="M186.3 339.3h1.1M187.4 339.3h1.1M188.5 339.3h1.1" stroke="#00BA38"/><path d="M189.7 339.3h1.1M190.8 339.3h1.1" stroke="#B79F00"/><path d="M191.9 339.3h1.1M193.0 339.3h1.1M194.2 339.3h1.1M195.3 339.3h1.1M196.4 339.3h1.1M197.5 339.3h1.1M198.7 339.3h1.1" stroke="#F8766D"/><path d="M199.8 339.3h1.1M200.9 339.3h1.1M202.0 339.3h1.1M203.2 339.3h1.1M204.3 339.3h1.1M205.4 339.3h1.1M206.5 339.3h1.1M207.7 339.3h1.1" stroke="#F564E3"/></g>
<g opacity="0.9" stroke-width="0.75"><path d="M185.7 311.5h.7M179.0 312.7h.7M190.1 310.1h.7M188.9 302.4h.7M189.0 307.5h.7M171.3 311.6h.7M168.1 299.6h.7M176.8 307.6h.7M177.8 306.3h.7M191.4 303.7h.7M184.5 307.6h.7M183.3 312.8h.7M164.8 303.5h.7M183.3 311.5h.7M187.7 302.3h.7M166.8 314.1h.7M171.3 311.6h.7M171.2 308.8h.7M191.0 308.8h.7M187.0 308.8h.7M176.0 310.1h.7M177.1 307.5h.7M172.5 303.8h.7M173.5 307.3h.7M165.8 302.4h.7M170.4 304.9h.7M170.4 302.2h.7M179.1 312.6h.7M191.2 312.5h.7M173.6 312.7h.7M191.3 314.0h.7M176.0 312.8h.7M165.8 299.6h.7M172.6 310.3h.7M184.4 314.0h.7M181.1 314.1h.7M168.2 314.0h.7M173.4 300.9h.7M181.3 314.0h.7M184.6 299.7h.7M173.6 307.4h.7M180.2 304.9h.7M173.8 300.9h.7M169.2 312.7h.7M176.0 307.6h.7M168.2 301.1h.7M172.3 311.2h.7M176.7 313.8h.7M178.2 304.8h.7M172.5 307.4h.7M173.4 312.5h.7M190.3 301.2h.7M187.8 308.7h.7M166.0 299.6h.7M187.8 302.2h.7M164.6 311.4h.7M166.0 304.8h.7M178.9 307.6h.7M178.2 306.3h.7M174.7 312.8h.7M164.6 309.0h.7M173.6 314.2h.7M189.2 306.3h.7M167.2 308.8h.7M177.8 312.7h.7M169.2 313.8h.7M169.3 312.7h.7M182.6 306.1h.7M169.2 306.3h.7M178.2 302.4h.7M192.3 301.2h.7M172.4 304.7h.7M171.3 307.6h.7M165.7 306.0h.7M177.9 299.7h.7M165.0 307.7h.7M167.9 312.8h.7M179.2 301.2h.7M180.0 312.7h.7M177.9 308.6h.7M174.6 302.2h.7M178.9 311.4h.7M168.3 304.9h.7M190.2 300.9h.7M166.9 312.8h.7M189.1 304.8h.7M170.5 299.6h.7M181.1 311.3h.7M168.0 299.6h.7M169.4 308.8h.7M171.3 304.8h.7M183.4 313.9h.7M168.1 301.1h.7M184.8 312.6h.7M167.2 298.4h.7M166.9 308.9h.7M186.7 312.8h.7M166.0 307.4h.7M174.5 312.6h.7M168.2 308.9h.7M185.7 310.3h.7M186.7 312.6h.7M182.4 311.3h.7M170.1 302.3h.7M164.8 312.8h.7M173.4 313.9h.7M169.3 310.2h.7M179.2 299.5h.7M167.0 306.4h.7M179.0 303.5h.7M178.2 300.9h.7M163.6 307.5h.7M185.6 311.5h.7M165.7 309.0h.7M170.4 311.4h.7M166.9 302.3h.7M167.2 307.4h.7M184.5 312.6h.7M180.1 314.0h.7M185.7 306.1h.7M175.8 311.5h.7M176.7 312.7h.7M185.9 314.1h.7M172.5 312.6h.7M180.3 311.4h.7M176.0 304.9h.7M164.6 311.3h.7M172.4 314.1h.7M185.7 314.1h.7M169.1 312.6h.7M180.2 304.7h.7M179.1 314.0h.7M187.9 313.9h.7M168.0 311.4h.7M191.0 302.5h.7M185.5 307.3h.7M185.6 314.0h.7M173.8 310.0h.7M172.5 310.1h.7M167.0 312.8h.7M172.4 308.8h.7M182.3 311.5h.7M186.9 311.2h.7M172.4 304.9h.7M168.2 313.9h.7M169.1 302.5h.7" stroke="#619CFF"/><path d="M183.6 306.2h.7M181.1 299.8h.7M180.3 312.6h.7M192.3 314.0h.7M164.8 310.0h.7M170.4 307.5h.7M180.4 307.4h.7M188.0 312.7h.7M180.2 314.1h.7M175.6 308.8h.7M178.2 311.5h.7M172.3 310.3h.7M170.1 302.2h.7M189.2 312.7h.7M183.6 301.1h.7M168.1 306.0h.7M183.3 312.7h.7M169.4 304.7h.7M179.2 301.0h.7M188.9 312.7h.7M180.1 299.9h.7M186.9 302.4h.7M166.9 312.6h.7M169.2 311.6h.7M183.3 310.1h.7M184.5 302.3h.7M164.6 314.0h.7M166.1 312.5h.7M190.2 304.9h.7M167.1 301.1h.7M165.9 314.0h.7M166.8 310.1h.7M168.2 312.6h.7M170.5 311.5h.7M181.4 309.9h.7M188.0 308.7h.7M176.0 310.1h.7M167.0 300.8h.7M166.9 299.6h.7M167.0 308.7h.7M186.7 314.1h.7M171.6 303.6h.7M191.2 310.3h.7M178.9 303.6h.7M174.5 314.0h.7M172.6 306.0h.7M188.9 308.7h.7M179.1 303.4h.7M177.0 313.9h.7M169.2 312.9h.7M167.2 307.5h.7M189.9 307.3h.7M174.9 314.0h.7" stroke="#00BFC4"/><path d="M175.6 310.3h.7M165.0 302.4h.7M188.9 311.5h.7M166.8 311.4h.7M181.2 310.2h.7M187.8 306.3h.7M178.9 308.7h.7M174.5 312.9h.7M172.6 302.4h.7M181.3 308.7h.7M163.6 313.9h.7M176.9 308.9h.7M176.7 313.9h.7M187.0 305.1h.7M192.1 308.6h.7M169.2 308.8h.7M188.8 312.9h.7M175.6 311.4h.7M172.5 312.7h.7M170.2 307.7h.7M172.7 301.2h.7M180.2 308.7h.7M169.1 306.2h.7M176.9 310.1h.7M190.1 303.8h.7M191.4 302.4h.7M182.5 301.1h.7M182.4 304.9h.7M171.4 311.5h.7M164.8 307.7h.7M163.7 312.6h.7M168.2 314.1h.7M171.6 305.0h.7M191.0 308.8h.7M187.0 312.9h.7M189.9 300.8h.7M186.7 308.7h.7M187.7 299.6h.7M170.1 307.3h.7M188.1 310.0h.7M188.0 311.5h.7M165.9 300.9h.7M169.4 307.6h.7M176.9 307.6h.7M191.1 307.5h.7M192.1 308.8h.7M169.2 308.8h.7M174.5 313.9h.7M188.9 299.8h.7M188.9 312.7h.7M181.4 312.8h.7M171.5 312.8h.7M181.4 304.8h.7M167.1 312.8h.7M164.7 310.1h.7M171.4 312.8h.7" stroke="#7FB0FF"/><path d="M204.6 312.3h.7M202.5 307.0h.7M205.7 309.8h.7M206.8 309.8h.7M203.6 304.5h.7M202.2 314.9h.7M206.9 307.2h.7M204.4 300.7h.7M203.6 309.9h.7M205.6 310.9h.7M204.5 306.0h.7M206.7 314.9h.7M205.6 307.2h.7M202.4 308.6h.7M203.2 315.2h.7M202.1 311.3h.7M205.5 302.2h.7M205.8 306.0h.7M203.3 303.2h.7M203.4 303.5h.7M203.3 315.0h.7M205.8 309.8h.7M204.6 305.7h.7M204.3 308.3h.7M204.4 301.9h.7M206.5 308.4h.7M201.3 315.0h.7M203.5 307.1h.7M202.2 304.6h.7M206.5 308.5h.7M201.3 312.4h.7M201.1 308.5h.7M204.3 303.1h.7M205.6 310.9h.7M204.7 309.9h.7" stroke="#F564E3"/><path d="M193.3 315.1h.7M192.6 300.6h.7M193.5 304.6h.7M199.9 313.8h.7M198.1 315.2h.7M195.6 311.0h.7M196.6 306.0h.7M199.1 311.1h.7M194.4 313.6h.7M193.7 312.6h.7M196.9 315.2h.7M195.6 312.4h.7M200.0 312.3h.7M195.8 314.8h.7M196.6 308.7h.7M196.7 309.8h.7M195.7 315.0h.7M195.5 311.1h.7M194.5 307.3h.7M194.8 302.0h.7M194.5 311.0h.7M196.9 312.4h.7M192.5 308.6h.7M197.9 315.2h.7M197.8 314.9h.7M194.7 315.2h.7M195.9 310.9h.7M193.4 313.9h.7M193.5 312.3h.7M194.7 312.3h.7M199.9 304.7h.7M197.7 313.8h.7M199.2 307.1h.7" stroke="#F8766D"/><path d="M191.4 307.0h.7M190.3 313.7h.7M191.4 312.5h.7M191.3 303.2h.7M191.4 313.5h.7M190.4 302.0h.7M191.1 313.5h.7" stroke="#B79F00"/></g>
<path d="M164.00,322.00C165.00,322.17 168.00,322.87 170.00,323.00C172.00,323.13 174.00,322.57 176.00,322.80C178.00,323.03 179.67,323.78 182.00,324.40C184.33,325.02 187.00,325.77 190.00,326.50C193.00,327.23 196.67,328.05 200.00,328.80C203.33,329.55 208.33,330.63 210.00,331.00" fill="none" stroke="#333" stroke-width="0.45"/>
<text x="190.00" y="301.26" font-size="4.6" text-anchor="middle" fill="#111" font-family="Liberation Sans">CD69</text>
<text x="213.20" y="176.39" font-size="2.2" text-anchor="start" fill="#888" font-family="Liberation Sans">celltype</text>
<circle cx="214.20" cy="179.00" r="0.45" fill="#F8766D"/>
<text x="215.80" y="179.68" font-size="1.9" text-anchor="start" fill="#B0B0B0" font-family="Liberation Sans">Memory B-AIF1</text>
<circle cx="214.20" cy="182.10" r="0.45" fill="#B79F00"/>
<text x="215.80" y="182.78" font-size="1.9" text-anchor="start" fill="#B0B0B0" font-family="Liberation Sans">Memory B-CD1C</text>
<circle cx="214.20" cy="185.20" r="0.45" fill="#00BA38"/>
<text x="215.80" y="185.88" font-size="1.9" text-anchor="start" fill="#B0B0B0" font-family="Liberation Sans">Memory B-CRIP1</text>
<circle cx="214.20" cy="188.30" r="0.45" fill="#00BFC4"/>
<text x="215.80" y="188.98" font-size="1.9" text-anchor="start" fill="#B0B0B0" font-family="Liberation Sans">Memory B-IL32</text>
<circle cx="214.20" cy="191.40" r="0.45" fill="#619CFF"/>
<text x="215.80" y="192.08" font-size="1.9" text-anchor="start" fill="#B0B0B0" font-family="Liberation Sans">Naive B</text>
<circle cx="214.20" cy="194.50" r="0.45" fill="#F564E3"/>
<text x="215.80" y="195.18" font-size="1.9" text-anchor="start" fill="#B0B0B0" font-family="Liberation Sans">Plasma cell</text>
<text x="213.20" y="221.19" font-size="2.2" text-anchor="start" fill="#888" font-family="Liberation Sans">celltype</text>
<circle cx="214.20" cy="223.80" r="0.45" fill="#F8766D"/>
<text x="215.80" y="224.48" font-size="1.9" text-anchor="start" fill="#B0B0B0" font-family="Liberation Sans">Memory B-AIF1</text>
<circle cx="214.20" cy="226.90" r="0.45" fill="#B79F00"/>
<text x="215.80" y="227.58" font-size="1.9" text-anchor="start" fill="#B0B0B0" font-family="Liberation Sans">Memory B-CD1C</text>
<circle cx="214.20" cy="230.00" r="0.45" fill="#00BA38"/>
<text x="215.80" y="230.68" font-size="1.9" text-anchor="start" fill="#B0B0B0" font-family="Liberation Sans">Memory B-CRIP1</text>
<circle cx="214.20" cy="233.10" r="0.45" fill="#00BFC4"/>
<text x="215.80" y="233.78" font-size="1.9" text-anchor="start" fill="#B0B0B0" font-family="Liberation Sans">Memory B-IL32</text>
<circle cx="214.20" cy="236.20" r="0.45" fill="#619CFF"/>
<text x="215.80" y="236.88" font-size="1.9" text-anchor="start" fill="#B0B0B0" font-family="Liberation Sans">Naive B</text>
<circle cx="214.20" cy="239.30" r="0.45" fill="#F564E3"/>
<text x="215.80" y="239.98" font-size="1.9" text-anchor="start" fill="#B0B0B0" font-family="Liberation Sans">Plasma cell</text>
<text x="213.20" y="265.39" font-size="2.2" text-anchor="start" fill="#888" font-family="Liberation Sans">celltype</text>
<circle cx="214.20" cy="268.00" r="0.45" fill="#F8766D"/>
<text x="215.80" y="268.68" font-size="1.9" text-anchor="start" fill="#B0B0B0" font-family="Liberation Sans">Memory B-AIF1</text>
<circle cx="214.20" cy="271.10" r="0.45" fill="#B79F00"/>
<text x="215.80" y="271.78" font-size="1.9" text-anchor="start" fill="#B0B0B0" font-family="Liberation Sans">Memory B-CD1C</text>
<circle cx="214.20" cy="274.20" r="0.45" fill="#00BA38"/>
<text x="215.80" y="274.88" font-size="1.9" text-anchor="start" fill="#B0B0B0" font-family="Liberation Sans">Memory B-CRIP1</text>
<circle cx="214.20" cy="277.30" r="0.45" fill="#00BFC4"/>
<text x="215.80" y="277.98" font-size="1.9" text-anchor="start" fill="#B0B0B0" font-family="Liberation Sans">Memory B-IL32</text>
<circle cx="214.20" cy="280.40" r="0.45" fill="#619CFF"/>
<text x="215.80" y="281.08" font-size="1.9" text-anchor="start" fill="#B0B0B0" font-family="Liberation Sans">Naive B</text>
<circle cx="214.20" cy="283.50" r="0.45" fill="#F564E3"/>
<text x="215.80" y="284.18" font-size="1.9" text-anchor="start" fill="#B0B0B0" font-family="Liberation Sans">Plasma cell</text>
<text x="213.20" y="309.99" font-size="2.2" text-anchor="start" fill="#888" font-family="Liberation Sans">celltype</text>
<circle cx="214.20" cy="312.60" r="0.45" fill="#F8766D"/>
<text x="215.80" y="313.28" font-size="1.9" text-anchor="start" fill="#B0B0B0" font-family="Liberation Sans">Memory B-AIF1</text>
<circle cx="214.20" cy="315.70" r="0.45" fill="#B79F00"/>
<text x="215.80" y="316.38" font-size="1.9" text-anchor="start" fill="#B0B0B0" font-family="Liberation Sans">Memory B-CD1C</text>
<circle cx="214.20" cy="318.80" r="0.45" fill="#00BA38"/>
<text x="215.80" y="319.48" font-size="1.9" text-anchor="start" fill="#B0B0B0" font-family="Liberation Sans">Memory B-CRIP1</text>
<circle cx="214.20" cy="321.90" r="0.45" fill="#00BFC4"/>
<text x="215.80" y="322.58" font-size="1.9" text-anchor="start" fill="#B0B0B0" font-family="Liberation Sans">Memory B-IL32</text>
<circle cx="214.20" cy="325.00" r="0.45" fill="#619CFF"/>
<text x="215.80" y="325.68" font-size="1.9" text-anchor="start" fill="#B0B0B0" font-family="Liberation Sans">Naive B</text>
<circle cx="214.20" cy="328.10" r="0.45" fill="#F564E3"/>
<text x="215.80" y="328.78" font-size="1.9" text-anchor="start" fill="#B0B0B0" font-family="Liberation Sans">Plasma cell</text>
<text x="243.90" y="179.50" font-size="15" font-weight="bold" font-family="Liberation Serif" fill="#000">D</text>
<line x1="327.50" y1="169.30" x2="327.50" y2="337.20" stroke="#F0F0F0" stroke-width="0.5"/>
<line x1="364.80" y1="169.30" x2="364.80" y2="337.20" stroke="#F0F0F0" stroke-width="0.5"/>
<line x1="402.00" y1="169.30" x2="402.00" y2="337.20" stroke="#F0F0F0" stroke-width="0.5"/>
<line x1="439.50" y1="169.30" x2="439.50" y2="337.20" stroke="#F0F0F0" stroke-width="0.5"/>
<line x1="346.40" y1="169.30" x2="346.40" y2="337.20" stroke="#E6E6E6" stroke-width="0.6"/>
<line x1="383.60" y1="169.30" x2="383.60" y2="337.20" stroke="#E6E6E6" stroke-width="0.6"/>
<line x1="420.60" y1="169.30" x2="420.60" y2="337.20" stroke="#E6E6E6" stroke-width="0.6"/>
<line x1="315.60" y1="179.60" x2="451.50" y2="179.60" stroke="#E6E6E6" stroke-width="0.6"/>
<line x1="315.60" y1="196.30" x2="451.50" y2="196.30" stroke="#E6E6E6" stroke-width="0.6"/>
<line x1="315.60" y1="212.60" x2="451.50" y2="212.60" stroke="#E6E6E6" stroke-width="0.6"/>
<line x1="315.60" y1="228.90" x2="451.50" y2="228.90" stroke="#E6E6E6" stroke-width="0.6"/>
<line x1="315.60" y1="245.40" x2="451.50" y2="245.40" stroke="#E6E6E6" stroke-width="0.6"/>
<line x1="315.60" y1="261.90" x2="451.50" y2="261.90" stroke="#E6E6E6" stroke-width="0.6"/>
<line x1="315.60" y1="278.40" x2="451.50" y2="278.40" stroke="#E6E6E6" stroke-width="0.6"/>
<line x1="315.60" y1="294.80" x2="451.50" y2="294.80" stroke="#E6E6E6" stroke-width="0.6"/>
<line x1="315.60" y1="311.30" x2="451.50" y2="311.30" stroke="#E6E6E6" stroke-width="0.6"/>
<line x1="315.60" y1="327.70" x2="451.50" y2="327.70" stroke="#E6E6E6" stroke-width="0.6"/>
<rect x="315.60" y="169.30" width="135.90" height="167.90" fill="none" stroke="#777" stroke-width="0.6"/>
<line x1="313.60" y1="179.60" x2="315.60" y2="179.60" stroke="#333" stroke-width="0.5"/>
<line x1="313.60" y1="196.30" x2="315.60" y2="196.30" stroke="#333" stroke-width="0.5"/>
<line x1="313.60" y1="212.60" x2="315.60" y2="212.60" stroke="#333" stroke-width="0.5"/>
<line x1="313.60" y1="228.90" x2="315.60" y2="228.90" stroke="#333" stroke-width="0.5"/>
<line x1="313.60" y1="245.40" x2="315.60" y2="245.40" stroke="#333" stroke-width="0.5"/>
<line x1="313.60" y1="261.90" x2="315.60" y2="261.90" stroke="#333" stroke-width="0.5"/>
<line x1="313.60" y1="278.40" x2="315.60" y2="278.40" stroke="#333" stroke-width="0.5"/>
<line x1="313.60" y1="294.80" x2="315.60" y2="294.80" stroke="#333" stroke-width="0.5"/>
<line x1="313.60" y1="311.30" x2="315.60" y2="311.30" stroke="#333" stroke-width="0.5"/>
<line x1="313.60" y1="327.70" x2="315.60" y2="327.70" stroke="#333" stroke-width="0.5"/>
<line x1="346.30" y1="337.20" x2="346.30" y2="338.80" stroke="#333" stroke-width="0.5"/>
<text transform="translate(346.30 343.84) scale(1 1.12)" font-size="4.8" text-anchor="middle" fill="#333" font-family="Liberation Sans">0.20</text>
<line x1="382.90" y1="337.20" x2="382.90" y2="338.80" stroke="#333" stroke-width="0.5"/>
<text transform="translate(382.90 343.84) scale(1 1.12)" font-size="4.8" text-anchor="middle" fill="#333" font-family="Liberation Sans">0.25</text>
<line x1="420.80" y1="337.20" x2="420.80" y2="338.80" stroke="#333" stroke-width="0.5"/>
<text transform="translate(420.80 343.84) scale(1 1.12)" font-size="4.8" text-anchor="middle" fill="#333" font-family="Liberation Sans">0.30</text>
<text transform="translate(383.40 350.46) scale(1 1.12)" font-size="5.1" text-anchor="middle" fill="#222" font-family="Liberation Sans">GeneRatio</text>
<text transform="translate(313.20 181.62) scale(1 1.12)" font-size="5.0" text-anchor="end" fill="#F0302A" font-family="Liberation Sans">TNF signaling pathway</text>
<text transform="translate(313.20 198.32) scale(1 1.12)" font-size="5.0" text-anchor="end" fill="#F0302A" font-family="Liberation Sans">IL−17 signaling pathway</text>
<text transform="translate(313.20 214.62) scale(1 1.12)" font-size="5.0" text-anchor="end" fill="#111" font-family="Liberation Sans">Osteoclast differentiation</text>
<text transform="translate(313.20 230.92) scale(1 1.12)" font-size="5.0" text-anchor="end" fill="#111" font-family="Liberation Sans">Coronavirus disease COVID−19</text>
<text transform="translate(313.20 247.42) scale(1 1.12)" font-size="5.0" text-anchor="end" fill="#111" font-family="Liberation Sans">Chagas disease</text>
<text transform="translate(315.00 261.02) scale(1 1.12)" font-size="5.0" text-anchor="end" fill="#F0302A" font-family="Liberation Sans">Toll−like receptor signaling</text>
<text transform="translate(312.30 266.72) scale(1 1.12)" font-size="5.0" text-anchor="end" fill="#F0302A" font-family="Liberation Sans">pathway</text>
<text transform="translate(312.30 266.72) scale(1 1.12)" font-size="5.0" text-anchor="start" fill="#111" font-family="Liberation Sans">y</text>
<text transform="translate(313.20 280.42) scale(1 1.12)" font-size="5.0" text-anchor="end" fill="#111" font-family="Liberation Sans">Measles</text>
<text transform="translate(315.00 293.92) scale(1 1.12)" font-size="5.0" text-anchor="end" fill="#F0302A" font-family="Liberation Sans">NOD−like receptor signaling</text>
<text transform="translate(314.50 299.62) scale(1 1.12)" font-size="5.0" text-anchor="end" fill="#F0302A" font-family="Liberation Sans">pathway</text>
<text transform="translate(313.20 310.42) scale(1 1.12)" font-size="5.0" text-anchor="end" fill="#111" font-family="Liberation Sans">Epithelial cell signaling in</text>
<text transform="translate(313.20 316.12) scale(1 1.12)" font-size="5.0" text-anchor="end" fill="#111" font-family="Liberation Sans">Helicobacter pylori infection</text>
<text transform="translate(313.20 329.72) scale(1 1.12)" font-size="5.0" text-anchor="end" fill="#111" font-family="Liberation Sans">Leishmaniasis</text>
<circle cx="445.30" cy="179.60" r="3.90" fill="#DD5A62" stroke="#333" stroke-width="0.45"/>
<circle cx="404.30" cy="196.30" r="3.50" fill="#D95A66" stroke="#333" stroke-width="0.45"/>
<circle cx="404.30" cy="212.60" r="3.50" fill="#D65B68" stroke="#333" stroke-width="0.45"/>
<circle cx="404.30" cy="228.90" r="3.50" fill="#B76678" stroke="#333" stroke-width="0.45"/>
<circle cx="362.90" cy="245.40" r="3.00" fill="#C35F70" stroke="#333" stroke-width="0.45"/>
<circle cx="362.90" cy="261.90" r="3.00" fill="#BE6172" stroke="#333" stroke-width="0.45"/>
<circle cx="362.90" cy="278.40" r="3.00" fill="#A86A82" stroke="#333" stroke-width="0.45"/>
<circle cx="362.60" cy="294.80" r="3.00" fill="#3F79B8" stroke="#333" stroke-width="0.45"/>
<circle cx="321.40" cy="311.30" r="1.60" fill="#4A78B2" stroke="#333" stroke-width="0.45"/>
<circle cx="321.40" cy="327.70" r="1.60" fill="#4A78B2" stroke="#333" stroke-width="0.45"/>
<text transform="translate(458.30 209.17) scale(1 1.12)" font-size="4.65" text-anchor="start" fill="#222" font-family="Liberation Sans">p.adjust</text>
<rect x="458.30" y="211.70" width="7.50" height="38.80" fill="url(#gD)"/>
<line x1="458.30" y1="220.40" x2="459.80" y2="220.40" stroke="#fff" stroke-width="0.4"/>
<line x1="464.30" y1="220.40" x2="465.80" y2="220.40" stroke="#fff" stroke-width="0.4"/>
<text transform="translate(468.00 222.11) scale(1 1.3)" font-size="3.65" text-anchor="start" fill="#333" font-family="Liberation Sans">0.001</text>
<line x1="458.30" y1="228.30" x2="459.80" y2="228.30" stroke="#fff" stroke-width="0.4"/>
<line x1="464.30" y1="228.30" x2="465.80" y2="228.30" stroke="#fff" stroke-width="0.4"/>
<text transform="translate(468.00 230.01) scale(1 1.3)" font-size="3.65" text-anchor="start" fill="#333" font-family="Liberation Sans">0.002</text>
<line x1="458.30" y1="236.60" x2="459.80" y2="236.60" stroke="#fff" stroke-width="0.4"/>
<line x1="464.30" y1="236.60" x2="465.80" y2="236.60" stroke="#fff" stroke-width="0.4"/>
<text transform="translate(468.00 238.31) scale(1 1.3)" font-size="3.65" text-anchor="start" fill="#333" font-family="Liberation Sans">0.003</text>
<line x1="458.30" y1="244.60" x2="459.80" y2="244.60" stroke="#fff" stroke-width="0.4"/>
<line x1="464.30" y1="244.60" x2="465.80" y2="244.60" stroke="#fff" stroke-width="0.4"/>
<text transform="translate(468.00 246.31) scale(1 1.3)" font-size="3.65" text-anchor="start" fill="#333" font-family="Liberation Sans">0.004</text>
<text transform="translate(458.80 265.00) scale(1 1.2)" font-size="4.4" text-anchor="start" fill="#222" font-family="Liberation Sans">Count</text>
<circle cx="463.40" cy="271.90" r="1.40" fill="none" stroke="#333" stroke-width="0.5"/>
<text transform="translate(471.00 273.61) scale(1 1.3)" font-size="3.65" text-anchor="start" fill="#333" font-family="Liberation Sans">3</text>
<circle cx="463.40" cy="279.60" r="2.80" fill="none" stroke="#333" stroke-width="0.5"/>
<text transform="translate(471.00 281.31) scale(1 1.3)" font-size="3.65" text-anchor="start" fill="#333" font-family="Liberation Sans">4</text>
<circle cx="463.40" cy="287.80" r="3.40" fill="none" stroke="#333" stroke-width="0.5"/>
<text transform="translate(471.00 289.51) scale(1 1.3)" font-size="3.65" text-anchor="start" fill="#333" font-family="Liberation Sans">5</text>
<circle cx="463.40" cy="297.50" r="4.00" fill="none" stroke="#333" stroke-width="0.5"/>
<text transform="translate(471.00 299.21) scale(1 1.3)" font-size="3.65" text-anchor="start" fill="#333" font-family="Liberation Sans">6</text>
<text x="471.00" y="178.70" font-size="15" font-weight="bold" font-family="Liberation Serif" fill="#000">E</text>
<path d="M651.7 202.8L633.2 334.7M551.8 209.5L526.1 241.8M498.8 273.1L531.6 294.7M622.7 286.9L564.2 298.0M661.6 214.4L669.2 227.9M571.5 345.4L563.9 321.8M608.8 280.0L577.1 263.5M564.2 298.0L567.3 279.8M526.1 241.8L567.3 279.8M577.9 325.3L608.7 240.2M577.9 325.3L603.2 263.5M512.5 214.5L522.9 269.0M548.6 283.2L542.2 264.2M640.2 224.3L587.8 232.0M599.9 220.0L617.4 260.1M640.2 224.3L577.1 263.5M528.6 325.7L567.3 279.8M551.8 209.5L540.3 305.9M633.2 334.7L605.9 299.9M551.8 209.5L558.5 260.0M654.1 276.7L558.5 260.0M566.7 240.4L582.0 248.7M617.4 260.1L608.8 280.0M607.4 201.3L577.9 325.3M571.5 345.4L631.8 310.6M522.9 255.6L598.0 249.0M608.8 280.0L587.6 288.1M526.1 241.8L577.1 263.5M564.2 298.0L577.1 263.5M577.9 325.3L567.3 279.8M675.6 272.9L598.0 249.0M595.0 176.5L565.0 203.1M563.9 321.8L550.6 314.9M540.6 218.3L577.1 263.5M545.9 243.6L603.2 263.5M578.8 199.5L590.2 272.7M566.7 240.4L617.4 260.1M631.3 268.1L582.0 248.7M631.8 310.6L608.8 280.0M522.9 255.6L608.8 280.0M500.0 242.2L558.5 260.0M608.8 280.0L598.0 249.0M564.2 298.0L587.6 288.1M526.1 241.8L587.6 288.1M579.1 176.6L607.4 201.3M541.4 335.0L585.2 303.6M640.2 224.3L631.8 310.6M558.5 260.0L603.2 263.5M555.9 341.7L502.5 287.7M599.9 220.0L622.7 286.9M620.0 319.1L608.8 280.0M540.6 218.3L558.7 227.3M512.5 214.5L566.7 240.4M578.3 218.5L567.3 279.8M625.9 184.9L620.6 206.7M645.8 325.8L577.1 263.5M540.3 305.9L603.2 263.5M629.4 247.7L603.2 263.5M566.7 240.4L558.5 260.0M531.6 294.7L617.4 260.1M522.9 255.6L545.9 243.6M631.3 268.1L590.2 272.7M617.4 260.1L590.2 272.7M586.7 346.5L592.0 326.0M577.9 325.3L563.9 321.8M586.7 346.5L526.1 241.8M505.3 228.1L526.1 241.8M593.1 198.9L558.5 260.0M541.4 335.0L545.9 243.6M586.7 346.5L590.2 272.7M577.1 263.5L603.2 263.5M611.1 179.7L608.8 280.0M512.5 214.5L532.1 229.2M563.6 179.5L542.2 264.2M551.8 209.5L632.6 214.4M578.3 218.5L587.8 232.0M540.3 305.9L548.6 283.2M545.9 243.6L577.1 263.5M603.2 263.5L590.2 272.7M540.3 305.9L567.3 279.8M629.4 247.7L567.3 279.8M657.0 314.6L598.0 249.0M566.7 240.4L608.7 240.2M632.6 214.4L618.6 230.0M631.8 310.6L617.4 260.1M593.1 198.9L640.2 224.3M502.5 287.7L577.1 263.5M567.3 279.8L598.0 249.0M577.9 325.3L525.7 282.4M593.1 198.9L608.7 240.2M585.2 303.6L582.0 248.7M558.5 260.0L577.1 263.5M592.0 326.0L608.8 280.0M558.7 227.3L608.8 280.0M535.3 192.3L566.7 240.4M672.2 287.7L577.9 325.3M611.1 179.7L582.0 248.7M565.0 203.1L587.6 288.1M563.6 179.5L622.7 286.9M578.3 218.5L587.6 288.1M629.4 247.7L587.8 232.0M655.7 262.9L587.8 232.0M578.8 199.5L567.3 279.8M632.6 214.4L650.1 235.8M631.3 268.1L622.7 286.9M522.9 255.6L599.9 220.0M631.8 310.6L599.9 220.0M522.9 255.6L542.2 264.2M632.6 214.4L605.9 299.9M522.9 255.6L558.5 260.0M593.1 198.9L578.3 218.5M542.2 264.2L598.0 249.0M512.5 214.5L540.6 218.3M640.2 224.3L650.1 235.8M585.2 303.6L617.4 260.1M585.2 303.6L590.2 272.7M540.6 218.3L641.6 301.3M592.0 326.0L582.0 248.7M625.9 184.9L661.6 214.4M540.6 218.3L531.6 294.7M665.6 301.9L558.5 260.0M655.7 262.9L558.7 227.3M578.3 218.5L566.7 240.4M545.9 243.6L566.7 240.4M655.7 262.9L564.2 298.0M578.3 218.5L598.0 249.0M545.9 243.6L598.0 249.0M629.4 247.7L587.6 288.1M655.7 262.9L587.6 288.1M641.6 301.3L577.1 263.5M608.7 240.2L603.2 263.5M578.8 199.5L577.1 263.5M618.6 341.4L608.8 280.0M603.0 345.4L563.9 321.8M631.8 310.6L622.7 286.9M548.6 184.8L631.3 268.1M676.4 257.3L631.3 268.1M567.3 279.8L582.0 248.7M548.6 184.8L577.1 263.5M620.6 206.7L603.2 263.5M611.1 179.7L599.9 220.0M585.2 303.6L558.5 260.0M592.0 326.0L590.2 272.7M565.0 203.1L585.2 303.6M578.8 199.5L558.7 227.3M582.0 248.7L590.2 272.7M632.6 214.4L640.2 224.3M508.4 301.6L590.2 272.7M649.5 289.6L598.0 249.0M587.6 288.1L603.2 263.5M532.1 229.2L558.5 260.0M500.0 242.2L525.7 282.4M542.2 264.2L545.9 243.6M567.3 279.8L590.2 272.7M542.2 264.2L582.0 248.7M650.1 235.8L608.7 240.2M650.1 235.8L603.2 263.5M558.7 227.3L558.5 260.0M654.6 249.3L617.4 260.1M625.9 184.9L651.7 202.8M654.6 249.3L590.2 272.7M618.6 230.0L598.0 249.0M629.4 247.7L585.2 303.6M605.9 299.9L548.6 283.2M608.7 240.2L577.1 263.5M661.6 214.4L654.6 249.3M587.6 288.1L567.3 279.8M498.0 257.5L566.7 240.4M618.6 341.4L590.2 272.7M607.4 201.3L598.0 249.0M498.0 257.5L598.0 249.0M522.9 269.0L558.7 227.3M567.3 279.8L558.5 260.0M522.9 202.4L578.3 218.5M542.2 264.2L617.4 260.1M674.5 242.5L585.2 303.6M605.6 324.2L577.1 263.5M542.2 264.2L590.2 272.7M620.6 206.7L577.1 263.5M555.9 341.7L558.7 227.3M540.3 305.9L531.6 294.7M525.7 282.4L598.0 249.0M622.7 286.9L598.0 249.0M532.1 229.2L578.3 218.5M651.7 202.8L542.2 264.2M605.9 299.9L577.1 263.5M587.6 288.1L577.1 263.5M639.3 192.6L608.7 240.2M620.6 206.7L655.7 262.9M620.6 206.7L558.7 227.3M605.6 324.2L587.6 288.1M522.9 202.4L587.8 232.0M592.0 326.0L550.6 314.9M654.6 249.3L605.6 324.2M548.6 283.2L603.2 263.5M558.7 227.3L578.3 218.5M592.0 326.0L578.3 218.5M582.0 248.7L603.2 263.5M550.6 314.9L622.7 286.9M654.6 249.3L622.7 286.9M508.4 301.6L578.8 199.5M598.0 249.0L590.2 272.7M563.9 321.8L567.3 279.8M618.6 230.0L582.0 248.7M587.8 232.0L582.0 248.7M654.1 276.7L608.7 240.2M622.7 286.9L608.8 280.0M551.8 209.5L603.2 263.5M654.1 276.7L603.2 263.5M661.6 214.4L650.1 235.8M532.1 229.2L587.8 232.0M676.4 257.3L641.6 301.3M532.1 229.2L577.1 263.5M650.1 235.8L558.7 227.3M674.5 242.5L617.4 260.1M650.1 235.8L587.6 288.1M599.9 220.0L608.7 240.2M599.9 220.0L603.2 263.5M587.8 232.0L617.4 260.1M618.6 230.0L617.4 260.1M525.7 282.4L545.9 243.6M587.8 232.0L590.2 272.7M633.2 334.7L603.2 263.5M498.0 257.5L526.1 241.8M605.9 299.9L566.7 240.4M498.0 257.5L590.2 272.7M605.6 324.2L585.2 303.6M548.6 283.2L587.8 232.0M565.0 203.1L578.8 199.5M548.6 283.2L577.1 263.5M582.0 248.7L577.1 263.5M640.2 224.3L608.8 280.0M540.6 218.3L598.0 249.0M618.6 230.0L542.2 264.2M622.7 286.9L605.9 299.9M587.8 232.0L558.5 260.0M622.7 286.9L617.4 260.1M525.7 282.4L590.2 272.7M566.7 240.4L603.2 263.5M622.7 286.9L590.2 272.7M498.0 257.5L542.2 264.2M608.8 280.0L582.0 248.7M564.2 298.0L608.8 280.0M517.3 314.9L631.8 310.6M674.5 242.5L622.7 286.9M675.6 272.9L590.2 272.7M620.0 319.1L605.9 299.9M640.2 224.3L618.6 230.0M548.6 283.2L587.6 288.1M579.1 176.6L542.2 264.2M599.9 220.0L587.8 232.0M620.0 319.1L590.2 272.7M672.2 287.7L608.8 280.0M551.8 209.5L563.9 321.8M633.2 334.7L620.0 319.1M618.6 341.4L565.0 203.1M654.1 276.7L587.6 288.1M566.7 240.4L567.3 279.8M639.3 192.6L620.6 206.7M631.3 268.1L603.2 263.5M617.4 260.1L603.2 263.5M608.8 280.0L590.2 272.7M577.9 325.3L585.2 303.6M564.2 298.0L582.0 248.7M577.9 325.3L608.8 280.0M541.4 335.0L558.5 260.0M665.6 301.9L540.6 218.3M640.2 224.3L605.9 299.9M620.0 319.1L558.5 260.0M582.0 248.7L598.0 249.0M640.2 224.3L590.2 272.7M633.2 334.7L563.9 321.8M498.8 273.1L558.7 227.3M566.7 240.4L587.8 232.0M669.2 227.9L631.3 268.1M566.7 240.4L577.1 263.5M617.4 260.1L567.3 279.8M625.9 184.9L590.2 272.7M631.8 310.6L603.2 263.5M526.1 241.8L590.2 272.7M586.7 346.5L567.3 279.8M563.6 179.5L587.8 232.0M545.9 243.6L608.8 280.0M578.3 218.5L608.8 280.0M563.9 321.8L531.6 294.7M563.9 321.8L618.6 230.0M540.3 305.9L598.0 249.0M629.4 247.7L598.0 249.0M551.8 209.5L532.1 229.2M655.7 262.9L598.0 249.0M531.6 294.7L522.9 269.0M498.8 273.1L629.4 247.7M531.6 294.7L631.3 268.1M631.3 268.1L587.8 232.0M522.9 255.6L548.6 283.2M531.6 294.7L577.1 263.5M631.3 268.1L577.1 263.5M617.4 260.1L577.1 263.5M632.6 214.4L608.7 240.2M526.1 241.8L542.2 264.2M577.9 325.3L605.9 299.9M586.7 346.5L577.1 263.5M577.9 325.3L590.2 272.7M672.2 287.7L649.5 289.6M551.8 209.5L607.4 201.3M578.3 218.5L545.9 243.6M641.6 301.3L598.0 249.0M498.0 257.5L565.0 203.1M531.6 294.7L564.2 298.0M566.7 240.4L598.0 249.0M631.3 268.1L587.6 288.1M502.5 287.7L582.0 248.7M522.9 255.6L577.1 263.5M603.0 345.4L608.8 280.0M548.6 184.8L566.7 240.4M577.9 325.3L542.2 264.2M593.1 198.9L598.0 249.0M558.5 260.0L582.0 248.7M528.6 325.7L605.6 324.2M655.7 262.9L618.6 230.0M545.9 243.6L617.4 260.1M578.3 218.5L590.2 272.7M545.9 243.6L590.2 272.7M629.4 247.7L582.0 248.7M669.2 227.9L654.6 249.3M531.6 294.7L629.4 247.7M631.8 310.6L564.2 298.0M522.9 255.6L564.2 298.0M617.4 260.1L598.0 249.0M631.8 310.6L587.6 288.1M603.0 345.4L582.0 248.7M567.3 279.8L603.2 263.5M585.2 303.6L587.8 232.0M592.0 326.0L548.6 283.2M585.2 303.6L577.1 263.5M558.5 260.0L590.2 272.7M528.6 325.7L550.6 314.9M535.3 192.3L603.2 263.5M654.6 249.3L603.2 263.5M550.6 314.9L603.2 263.5M578.3 218.5L599.9 220.0M578.3 218.5L558.5 260.0M545.9 243.6L558.5 260.0M629.4 247.7L617.4 260.1M655.7 262.9L590.2 272.7M618.6 341.4L622.7 286.9M608.7 240.2L598.0 249.0M542.2 264.2L608.7 240.2M611.1 179.7L565.0 203.1M676.4 257.3L582.0 248.7M505.3 228.1L532.1 229.2M558.7 227.3L587.8 232.0M535.3 192.3L548.6 283.2M550.6 314.9L548.6 283.2M577.1 263.5L590.2 272.7M565.0 203.1L608.7 240.2M565.0 203.1L603.2 263.5M545.9 243.6L608.7 240.2M578.3 218.5L608.7 240.2M657.0 314.6L631.3 268.1M641.6 301.3L605.9 299.9M655.7 262.9L558.5 260.0M641.6 301.3L617.4 260.1M605.9 299.9L598.0 249.0M587.6 288.1L598.0 249.0M502.5 287.7L522.9 255.6M676.4 257.3L650.1 235.8M567.3 279.8L577.1 263.5M676.4 257.3L617.4 260.1M542.2 264.2L567.3 279.8M541.4 335.0L577.9 325.3M550.6 314.9L631.3 268.1M558.7 227.3L587.6 288.1M555.9 341.7L582.0 248.7M550.6 314.9L577.1 263.5M598.0 249.0L603.2 263.5M654.6 249.3L577.1 263.5M605.9 299.9L585.2 303.6M608.7 240.2L582.0 248.7M661.6 214.4L640.2 224.3M532.1 229.2L566.7 240.4M649.5 289.6L603.2 263.5M500.0 242.2L522.9 255.6M505.3 228.1L540.6 218.3M620.6 206.7L618.6 230.0M586.7 346.5L650.1 235.8M542.2 264.2L587.8 232.0M522.9 202.4L585.2 303.6M620.6 206.7L582.0 248.7M585.2 303.6L608.8 280.0M558.7 227.3L566.7 240.4M592.0 326.0L566.7 240.4M555.9 341.7L605.9 299.9M558.7 227.3L598.0 249.0M654.6 249.3L587.6 288.1M550.6 314.9L587.6 288.1M595.0 176.5L582.0 248.7M565.0 203.1L577.1 263.5M618.6 230.0L603.2 263.5M587.8 232.0L603.2 263.5M525.7 282.4L558.5 260.0M508.4 301.6L525.7 282.4M578.8 199.5L522.9 255.6M657.0 314.6L629.4 247.7M608.7 240.2L617.4 260.1M608.7 240.2L590.2 272.7M498.0 257.5L608.7 240.2M607.4 201.3L608.7 240.2M607.4 201.3L603.2 263.5M571.5 345.4L558.5 260.0M522.9 269.0L542.2 264.2M605.6 324.2L617.4 260.1M563.6 179.5L645.8 325.8M517.3 314.9L585.2 303.6M517.3 314.9L608.8 280.0M579.1 176.6L608.7 240.2M592.0 326.0L585.2 303.6M595.0 176.5L526.1 241.8M598.0 249.0L577.1 263.5M587.8 232.0L567.3 279.8M622.7 286.9L603.2 263.5M649.5 289.6L631.3 268.1M608.7 240.2L558.5 260.0M605.9 299.9L617.4 260.1M587.6 288.1L590.2 272.7M605.9 299.9L590.2 272.7M532.1 229.2L582.0 248.7M522.9 269.0L522.9 255.6M605.6 324.2L558.5 260.0M620.0 319.1L603.2 263.5M618.6 230.0L587.8 232.0M587.8 232.0L577.1 263.5M508.4 301.6L531.6 294.7M498.8 273.1L598.0 249.0M649.5 289.6L587.6 288.1M587.6 288.1L558.5 260.0M607.4 201.3L587.8 232.0M608.8 280.0L603.2 263.5M522.9 269.0L578.3 218.5M555.9 341.7L654.1 276.7M548.6 283.2L582.0 248.7M599.9 220.0L608.8 280.0M665.6 301.9L605.6 324.2M645.8 325.8L590.2 272.7M622.7 286.9L587.8 232.0M551.8 209.5L545.9 243.6M525.7 282.4L577.1 263.5M669.2 227.9L629.4 247.7M607.4 201.3L655.7 262.9M669.2 227.9L598.0 249.0M639.3 192.6L617.4 260.1M620.6 206.7L578.3 218.5M548.6 283.2L617.4 260.1M548.6 283.2L590.2 272.7M599.9 220.0L582.0 248.7" stroke="#A0A0A0" stroke-width="0.32" fill="none" opacity="0.9"/>
<circle cx="548.60" cy="184.80" r="7.50" fill="#F1EBA2"/>
<circle cx="563.60" cy="179.50" r="7.50" fill="#F1EBA2"/>
<circle cx="579.10" cy="176.60" r="7.50" fill="#F1EBA2"/>
<circle cx="595.00" cy="176.50" r="7.50" fill="#F1EBA2"/>
<circle cx="611.10" cy="179.70" r="7.50" fill="#F1EBA2"/>
<circle cx="625.90" cy="184.90" r="7.50" fill="#F1EBA2"/>
<circle cx="639.30" cy="192.60" r="7.50" fill="#F1EBA2"/>
<circle cx="651.70" cy="202.80" r="7.50" fill="#F1EBA2"/>
<circle cx="661.60" cy="214.40" r="7.50" fill="#F1EBA2"/>
<circle cx="669.20" cy="227.90" r="7.50" fill="#F1EBA2"/>
<circle cx="674.50" cy="242.50" r="7.50" fill="#F1EBA2"/>
<circle cx="676.40" cy="257.30" r="7.50" fill="#F1EBA2"/>
<circle cx="675.60" cy="272.90" r="7.50" fill="#F1EBA2"/>
<circle cx="672.20" cy="287.70" r="7.50" fill="#F1EBA2"/>
<circle cx="665.60" cy="301.90" r="7.50" fill="#F1EBA2"/>
<circle cx="657.00" cy="314.60" r="7.50" fill="#F1EBA2"/>
<circle cx="645.80" cy="325.80" r="7.50" fill="#F1EBA2"/>
<circle cx="633.20" cy="334.70" r="7.50" fill="#F1EBA2"/>
<circle cx="618.60" cy="341.40" r="7.50" fill="#F1EBA2"/>
<circle cx="603.00" cy="345.40" r="7.50" fill="#F1EBA2"/>
<circle cx="586.70" cy="346.50" r="7.50" fill="#F1EBA2"/>
<circle cx="571.50" cy="345.40" r="7.50" fill="#F1EBA2"/>
<circle cx="555.90" cy="341.70" r="7.50" fill="#F1EBA2"/>
<circle cx="541.40" cy="335.00" r="7.50" fill="#F1EBA2"/>
<circle cx="528.60" cy="325.70" r="7.50" fill="#F1EBA2"/>
<circle cx="517.30" cy="314.90" r="7.50" fill="#F1EBA2"/>
<circle cx="508.40" cy="301.60" r="7.50" fill="#F1EBA2"/>
<circle cx="502.50" cy="287.70" r="7.50" fill="#F1EBA2"/>
<circle cx="498.80" cy="273.10" r="7.50" fill="#F1EBA2"/>
<circle cx="498.00" cy="257.50" r="7.50" fill="#F1EBA2"/>
<circle cx="500.00" cy="242.20" r="7.50" fill="#F1EBA2"/>
<circle cx="505.30" cy="228.10" r="7.50" fill="#F1EBA2"/>
<circle cx="512.50" cy="214.50" r="7.50" fill="#F1EBA2"/>
<circle cx="522.90" cy="202.40" r="7.50" fill="#F1EBA2"/>
<circle cx="535.30" cy="192.30" r="7.50" fill="#F1EBA2"/>
<circle cx="540.60" cy="218.30" r="7.50" fill="#F1D488"/>
<circle cx="551.80" cy="209.50" r="7.50" fill="#F1DC8E"/>
<circle cx="565.00" cy="203.10" r="7.50" fill="#F0C87A"/>
<circle cx="578.80" cy="199.50" r="7.50" fill="#F1D88C"/>
<circle cx="593.10" cy="198.90" r="7.50" fill="#EFC477"/>
<circle cx="607.40" cy="201.30" r="7.50" fill="#F1E69A"/>
<circle cx="620.60" cy="206.70" r="7.50" fill="#EFC577"/>
<circle cx="632.60" cy="214.40" r="7.50" fill="#F1D98C"/>
<circle cx="640.20" cy="224.30" r="7.50" fill="#EFBB6F"/>
<circle cx="650.10" cy="235.80" r="7.50" fill="#F0CB7E"/>
<circle cx="654.60" cy="249.30" r="7.50" fill="#EFC072"/>
<circle cx="655.70" cy="262.90" r="7.50" fill="#EFC778"/>
<circle cx="654.10" cy="276.70" r="7.50" fill="#F1DB8D"/>
<circle cx="649.50" cy="289.60" r="7.50" fill="#EFC274"/>
<circle cx="641.60" cy="301.30" r="7.50" fill="#EFB168"/>
<circle cx="631.80" cy="310.60" r="7.50" fill="#F1D98C"/>
<circle cx="620.00" cy="319.10" r="7.50" fill="#F0CC7F"/>
<circle cx="605.60" cy="324.20" r="7.50" fill="#F1DA8C"/>
<circle cx="592.00" cy="326.00" r="7.50" fill="#F1D98C"/>
<circle cx="577.90" cy="325.30" r="7.50" fill="#F0CC7F"/>
<circle cx="563.90" cy="321.80" r="7.50" fill="#F0C67A"/>
<circle cx="550.60" cy="314.90" r="7.50" fill="#F1D98C"/>
<circle cx="540.30" cy="305.90" r="7.50" fill="#F1D28A"/>
<circle cx="531.60" cy="294.70" r="7.50" fill="#EFBB6F"/>
<circle cx="525.70" cy="282.40" r="7.50" fill="#F0C87C"/>
<circle cx="522.90" cy="269.00" r="7.50" fill="#F0D084"/>
<circle cx="522.90" cy="255.60" r="7.50" fill="#F1DA8E"/>
<circle cx="526.10" cy="241.80" r="7.50" fill="#F1DC90"/>
<circle cx="532.10" cy="229.20" r="7.50" fill="#EFC579"/>
<circle cx="558.70" cy="227.30" r="7.50" fill="#EFAE62"/>
<circle cx="578.30" cy="218.50" r="7.50" fill="#EE9C52"/>
<circle cx="599.90" cy="220.00" r="7.50" fill="#EE8A46"/>
<circle cx="618.60" cy="230.00" r="7.50" fill="#EE8A46"/>
<circle cx="629.40" cy="247.70" r="7.50" fill="#EFB064"/>
<circle cx="631.30" cy="268.10" r="7.50" fill="#EE8745"/>
<circle cx="622.70" cy="286.90" r="7.50" fill="#EC8040"/>
<circle cx="605.90" cy="299.90" r="7.50" fill="#EFAC60"/>
<circle cx="585.20" cy="303.60" r="7.50" fill="#EFA75C"/>
<circle cx="564.20" cy="298.00" r="7.50" fill="#EE9048"/>
<circle cx="548.60" cy="283.20" r="7.50" fill="#EFAD62"/>
<circle cx="542.20" cy="264.20" r="7.50" fill="#EE954C"/>
<circle cx="545.90" cy="243.60" r="7.50" fill="#EFAD62"/>
<circle cx="566.70" cy="240.40" r="7.50" fill="#EB7A3E"/>
<circle cx="587.80" cy="232.00" r="7.50" fill="#EE8C44"/>
<circle cx="608.70" cy="240.20" r="7.50" fill="#E2612E"/>
<circle cx="617.40" cy="260.10" r="7.50" fill="#ED8540"/>
<circle cx="608.80" cy="280.00" r="7.50" fill="#ED8540"/>
<circle cx="587.60" cy="288.10" r="7.50" fill="#ED8A44"/>
<circle cx="567.30" cy="279.80" r="7.50" fill="#E3623A"/>
<circle cx="558.50" cy="260.00" r="7.50" fill="#EC7C40"/>
<circle cx="582.00" cy="248.70" r="7.50" fill="#C91F2E"/>
<circle cx="598.00" cy="249.00" r="7.50" fill="#C91F2E"/>
<circle cx="577.10" cy="263.50" r="7.50" fill="#CF2830"/>
<circle cx="603.20" cy="263.50" r="7.50" fill="#C91F2E"/>
<circle cx="590.20" cy="272.70" r="7.50" fill="#DB4535"/>
<g font-family="Liberation Sans" font-size="3.5" fill="#222" text-anchor="middle"><text transform="translate(548.6 186.3) scale(1 1.2)">ARL4A</text><text transform="translate(563.6 181.0) scale(1 1.2)">SESN1</text><text transform="translate(579.1 178.1) scale(1 1.2)">SPP7</text><text transform="translate(595.0 178.0) scale(1 1.2)">RNF126</text><text transform="translate(611.1 181.2) scale(1 1.2)">ZFP36L2</text><text transform="translate(625.9 186.4) scale(1 1.2)">ODC1</text><text transform="translate(639.3 194.1) scale(1 1.2)">ARPC</text><text transform="translate(651.7 204.3) scale(1 1.2)">STX10</text><text transform="translate(661.6 215.9) scale(1 1.2)">PCIF1</text><text transform="translate(669.2 229.4) scale(1 1.2)">SPSB3</text><text transform="translate(674.5 244.0) scale(1 1.2)">AKAP17A</text><text transform="translate(676.4 258.8) scale(1 1.2)">PHF1</text><text transform="translate(675.6 274.4) scale(1 1.2)">SNX9</text><text transform="translate(672.2 289.2) scale(1 1.2)">CDKN1D</text><text transform="translate(665.6 303.4) scale(1 1.2)">CDKN2D</text><text transform="translate(657.0 316.1) scale(1 1.2)">BAX</text><text transform="translate(645.8 327.3) scale(1 1.2)">RHOT2</text><text transform="translate(633.2 336.2) scale(1 1.2)">U2AF1L4</text><text transform="translate(618.6 342.9) scale(1 1.2)">EXOSC8</text><text transform="translate(603.0 346.9) scale(1 1.2)">NPSD1</text><text transform="translate(586.7 348.0) scale(1 1.2)">YBX3</text><text transform="translate(571.5 346.9) scale(1 1.2)">C1Q</text><text transform="translate(555.9 343.2) scale(1 1.2)">SLC2A3</text><text transform="translate(541.4 336.5) scale(1 1.2)">IDI1</text><text transform="translate(528.6 327.2) scale(1 1.2)">RAB33A</text><text transform="translate(517.3 316.4) scale(1 1.2)">SMDT1</text><text transform="translate(508.4 303.1) scale(1 1.2)">PFKL</text><text transform="translate(502.5 289.2) scale(1 1.2)">TMEM123</text><text transform="translate(498.8 274.6) scale(1 1.2)">KXD1</text><text transform="translate(498.0 259.0) scale(1 1.2)">STG1</text><text transform="translate(500.0 243.7) scale(1 1.2)">TMEM259</text><text transform="translate(505.3 229.6) scale(1 1.2)">ACO3</text><text transform="translate(512.5 216.0) scale(1 1.2)">MTG1</text><text transform="translate(522.9 203.9) scale(1 1.2)">HDDC2</text><text transform="translate(535.3 193.8) scale(1 1.2)">PM20D2</text><text transform="translate(540.6 219.8) scale(1 1.2)">HLA-DRB5</text><text transform="translate(551.8 211.0) scale(1 1.2)">RBM3</text><text transform="translate(565.0 204.6) scale(1 1.2)">NCF1</text><text transform="translate(578.8 201.0) scale(1 1.2)">RPS26</text><text transform="translate(593.1 200.4) scale(1 1.2)">GNLY</text><text transform="translate(607.4 202.8) scale(1 1.2)">ZFYVE27</text><text transform="translate(620.6 208.2) scale(1 1.2)">BCAS2</text><text transform="translate(632.6 215.9) scale(1 1.2)">PELI1</text><text transform="translate(640.2 225.8) scale(1 1.2)">ARL6IP1</text><text transform="translate(650.1 237.3) scale(1 1.2)">MT-CO3</text><text transform="translate(654.6 250.8) scale(1 1.2)">IRF7</text><text transform="translate(655.7 264.4) scale(1 1.2)">VAMP2</text><text transform="translate(654.1 278.2) scale(1 1.2)">SNRPB1</text><text transform="translate(649.5 291.1) scale(1 1.2)">TXNIP</text><text transform="translate(641.6 302.8) scale(1 1.2)">ATP5MC1</text><text transform="translate(631.8 312.1) scale(1 1.2)">TMEFL1</text><text transform="translate(620.0 320.6) scale(1 1.2)">MT-CYB</text><text transform="translate(605.6 325.7) scale(1 1.2)">METTL5</text><text transform="translate(592.0 327.5) scale(1 1.2)">ERO1</text><text transform="translate(577.9 326.8) scale(1 1.2)">ITGAE</text><text transform="translate(563.9 323.3) scale(1 1.2)">YTHDF2</text><text transform="translate(550.6 316.4) scale(1 1.2)">TXN2</text><text transform="translate(540.3 307.4) scale(1 1.2)">DAZAP1</text><text transform="translate(531.6 296.2) scale(1 1.2)">CIRBP</text><text transform="translate(525.7 283.9) scale(1 1.2)">HLA-DRA</text><text transform="translate(522.9 270.5) scale(1 1.2)">SRSF5</text><text transform="translate(522.9 257.1) scale(1 1.2)">CTSH</text><text transform="translate(526.1 243.3) scale(1 1.2)">FAM11B</text><text transform="translate(532.1 230.7) scale(1 1.2)">NKG7</text><text transform="translate(558.7 228.8) scale(1 1.2)">JUND</text><text transform="translate(578.3 220.0) scale(1 1.2)">PABPN1</text><text transform="translate(599.9 221.5) scale(1 1.2)">ALYREF</text><text transform="translate(618.6 231.5) scale(1 1.2)">KLF6</text><text transform="translate(629.4 249.2) scale(1 1.2)">PRMT1</text><text transform="translate(631.3 269.6) scale(1 1.2)">TUFM</text><text transform="translate(622.7 288.4) scale(1 1.2)">CXCR4</text><text transform="translate(605.9 301.4) scale(1 1.2)">DDIT4</text><text transform="translate(585.2 305.1) scale(1 1.2)">MT-CO2</text><text transform="translate(564.2 299.5) scale(1 1.2)">HNRNPDL</text><text transform="translate(548.6 284.7) scale(1 1.2)">CD83</text><text transform="translate(542.2 265.7) scale(1 1.2)">SNRPA</text><text transform="translate(545.9 245.1) scale(1 1.2)">TSC22D3</text><text transform="translate(566.7 241.9) scale(1 1.2)">CD69</text><text transform="translate(587.8 233.5) scale(1 1.2)">PPP1R15A</text><text transform="translate(608.7 241.7) scale(1 1.2)">TNFAIP3</text><text transform="translate(617.4 261.6) scale(1 1.2)">DUSP1</text><text transform="translate(608.8 281.5) scale(1 1.2)">ZFP36</text><text transform="translate(587.6 289.6) scale(1 1.2)">JUND</text><text transform="translate(567.3 281.3) scale(1 1.2)">REL</text><text transform="translate(558.5 261.5) scale(1 1.2)">H3-3B</text><text transform="translate(582.0 250.2) scale(1 1.2)">JUN</text><text transform="translate(598.0 250.5) scale(1 1.2)">NFKBIA</text><text transform="translate(577.1 265.0) scale(1 1.2)">UBC</text><text transform="translate(603.2 265.0) scale(1 1.2)">FOS</text><text transform="translate(590.2 274.2) scale(1 1.2)">CCL5</text></g>
<text x="1.00" y="368.80" font-size="15" font-weight="bold" font-family="Liberation Serif" fill="#000">F</text>
<line x1="66.70" y1="363.00" x2="66.70" y2="480.10" stroke="#222" stroke-width="0.6"/>
<line x1="66.70" y1="480.10" x2="95.90" y2="480.10" stroke="#222" stroke-width="0.6"/>
<line x1="64.90" y1="369.20" x2="66.70" y2="369.20" stroke="#333" stroke-width="0.5"/>
<text transform="translate(63.00 371.24) scale(1 0.86)" font-size="6.6" text-anchor="end" fill="#333" font-family="Liberation Sans">SPIB(+)</text>
<ellipse cx="74.20" cy="369.20" rx="2.20" ry="1.65" fill="#1F3C7C"/>
<ellipse cx="86.90" cy="369.20" rx="1.20" ry="1.00" fill="#EEF0F7"/>
<line x1="64.90" y1="378.75" x2="66.70" y2="378.75" stroke="#333" stroke-width="0.5"/>
<text transform="translate(63.00 380.79) scale(1 0.86)" font-size="6.6" text-anchor="end" fill="#333" font-family="Liberation Sans">BCLAF1(+)</text>
<ellipse cx="74.20" cy="378.75" rx="2.20" ry="1.65" fill="#1F3C7C"/>
<ellipse cx="86.90" cy="378.75" rx="1.20" ry="1.00" fill="#EEF0F7"/>
<line x1="64.90" y1="388.30" x2="66.70" y2="388.30" stroke="#333" stroke-width="0.5"/>
<text transform="translate(63.00 390.34) scale(1 0.86)" font-size="6.6" text-anchor="end" fill="#333" font-family="Liberation Sans">TAF7(+)</text>
<ellipse cx="74.20" cy="388.30" rx="2.20" ry="1.65" fill="#1F3C7C"/>
<ellipse cx="86.90" cy="388.30" rx="1.20" ry="1.00" fill="#EEF0F7"/>
<line x1="64.90" y1="397.85" x2="66.70" y2="397.85" stroke="#333" stroke-width="0.5"/>
<text transform="translate(63.00 399.89) scale(1 0.86)" font-size="6.6" text-anchor="end" fill="#333" font-family="Liberation Sans">XBP1(+)</text>
<ellipse cx="74.20" cy="397.85" rx="2.20" ry="1.65" fill="#1F3C7C"/>
<ellipse cx="86.90" cy="397.85" rx="1.20" ry="1.00" fill="#EEF0F7"/>
<line x1="64.90" y1="407.40" x2="66.70" y2="407.40" stroke="#333" stroke-width="0.5"/>
<text transform="translate(63.00 409.44) scale(1 0.86)" font-size="6.6" text-anchor="end" fill="#333" font-family="Liberation Sans">IRF9(+)</text>
<ellipse cx="74.20" cy="407.40" rx="2.20" ry="1.65" fill="#1F3C7C"/>
<ellipse cx="86.90" cy="407.40" rx="1.20" ry="1.00" fill="#EEF0F7"/>
<line x1="64.90" y1="416.95" x2="66.70" y2="416.95" stroke="#333" stroke-width="0.5"/>
<text transform="translate(63.00 418.99) scale(1 0.86)" font-size="6.6" text-anchor="end" fill="#333" font-family="Liberation Sans">MYC(+)</text>
<ellipse cx="74.20" cy="416.95" rx="2.20" ry="1.65" fill="#1F3C7C"/>
<ellipse cx="86.90" cy="416.95" rx="1.20" ry="1.00" fill="#EEF0F7"/>
<line x1="64.90" y1="426.50" x2="66.70" y2="426.50" stroke="#333" stroke-width="0.5"/>
<text transform="translate(63.00 428.54) scale(1 0.86)" font-size="6.6" text-anchor="end" fill="#333" font-family="Liberation Sans">FOSB(+)</text>
<ellipse cx="74.20" cy="426.50" rx="2.20" ry="1.65" fill="#1F3C7C"/>
<ellipse cx="86.90" cy="426.50" rx="1.20" ry="1.00" fill="#EEF0F7"/>
<line x1="64.90" y1="436.05" x2="66.70" y2="436.05" stroke="#333" stroke-width="0.5"/>
<text transform="translate(63.00 438.09) scale(1 0.86)" font-size="6.6" text-anchor="end" fill="#333" font-family="Liberation Sans">IRF1(+)</text>
<ellipse cx="74.20" cy="436.05" rx="2.20" ry="1.65" fill="#1F3C7C"/>
<ellipse cx="86.90" cy="436.05" rx="1.20" ry="1.00" fill="#EEF0F7"/>
<line x1="64.90" y1="445.60" x2="66.70" y2="445.60" stroke="#333" stroke-width="0.5"/>
<text transform="translate(63.00 447.64) scale(1 0.86)" font-size="6.6" text-anchor="end" fill="#333" font-family="Liberation Sans">JUND(+)</text>
<ellipse cx="74.20" cy="445.60" rx="2.20" ry="1.65" fill="#1F3C7C"/>
<ellipse cx="86.90" cy="445.60" rx="1.20" ry="1.00" fill="#EEF0F7"/>
<line x1="64.90" y1="455.15" x2="66.70" y2="455.15" stroke="#333" stroke-width="0.5"/>
<text transform="translate(63.00 457.19) scale(1 0.86)" font-size="6.6" text-anchor="end" fill="#333" font-family="Liberation Sans">JUNB(+)</text>
<ellipse cx="74.20" cy="455.15" rx="2.20" ry="1.65" fill="#1F3C7C"/>
<ellipse cx="86.90" cy="455.15" rx="1.20" ry="1.00" fill="#EEF0F7"/>
<line x1="64.90" y1="464.70" x2="66.70" y2="464.70" stroke="#333" stroke-width="0.5"/>
<text transform="translate(63.00 466.74) scale(1 0.86)" font-size="6.6" text-anchor="end" fill="#333" font-family="Liberation Sans">KLF6(+)</text>
<ellipse cx="74.20" cy="464.70" rx="2.20" ry="1.65" fill="#1F3C7C"/>
<ellipse cx="86.90" cy="464.70" rx="1.20" ry="1.00" fill="#EEF0F7"/>
<line x1="64.90" y1="474.25" x2="66.70" y2="474.25" stroke="#333" stroke-width="0.5"/>
<text transform="translate(63.00 476.29) scale(1 0.86)" font-size="6.6" text-anchor="end" fill="#333" font-family="Liberation Sans">JUN(+)</text>
<ellipse cx="74.20" cy="474.25" rx="2.20" ry="1.65" fill="#1F3C7C"/>
<ellipse cx="86.90" cy="474.25" rx="1.20" ry="1.00" fill="#EEF0F7"/>
<line x1="74.20" y1="480.10" x2="74.20" y2="481.80" stroke="#333" stroke-width="0.5"/>
<text transform="translate(74.20 482.60) rotate(-90) scale(1 1.2) translate(0 2.09)" font-size="5.8" text-anchor="end" fill="#222" font-family="Liberation Sans">GDM</text>
<line x1="86.90" y1="480.10" x2="86.90" y2="481.80" stroke="#333" stroke-width="0.5"/>
<text transform="translate(86.90 482.60) rotate(-90) scale(1 1.2) translate(0 2.09)" font-size="5.8" text-anchor="end" fill="#222" font-family="Liberation Sans">NP</text>
<text transform="translate(22.90 421.50) rotate(-90) scale(1 1.3) translate(0 2.16)" font-size="6.0" text-anchor="middle" fill="#111" font-family="Liberation Sans">Features</text>
<text x="103.80" y="395.87" font-size="7.7" text-anchor="start" fill="#222" font-family="Liberation Sans">Percent Expressed</text>
<ellipse cx="108.10" cy="402.30" rx="1.80" ry="1.40" fill="#111"/>
<text x="115.70" y="404.60" font-size="6.4" text-anchor="start" fill="#333" font-family="Liberation Sans">100</text>
<text x="103.80" y="417.07" font-size="7.7" text-anchor="start" fill="#222" font-family="Liberation Sans">Average Expression</text>
<defs><linearGradient id="gF" x1="0" y1="0" x2="0" y2="1"><stop offset="0" stop-color="#1C4A96"/><stop offset="0.5" stop-color="#6FA6D6"/><stop offset="1" stop-color="#F2F6FB"/></linearGradient><linearGradient id="gZ" x1="0" y1="0" x2="0" y2="1"><stop offset="0" stop-color="#2E7D1F"/><stop offset="0.5" stop-color="#8CC860"/><stop offset="1" stop-color="#EEF5E4"/></linearGradient></defs>
<rect x="103.30" y="420.20" width="8.40" height="32.30" fill="url(#gF)"/>
<line x1="103.30" y1="427.50" x2="105.00" y2="427.50" stroke="#fff" stroke-width="0.4"/>
<line x1="110.00" y1="427.50" x2="111.70" y2="427.50" stroke="#fff" stroke-width="0.4"/>
<text x="115.50" y="429.59" font-size="5.8" text-anchor="start" fill="#333" font-family="Liberation Sans">0.4</text>
<line x1="103.30" y1="436.60" x2="105.00" y2="436.60" stroke="#fff" stroke-width="0.4"/>
<line x1="110.00" y1="436.60" x2="111.70" y2="436.60" stroke="#fff" stroke-width="0.4"/>
<text x="115.50" y="438.69" font-size="5.8" text-anchor="start" fill="#333" font-family="Liberation Sans">0.0</text>
<line x1="103.30" y1="446.10" x2="105.00" y2="446.10" stroke="#fff" stroke-width="0.4"/>
<line x1="110.00" y1="446.10" x2="111.70" y2="446.10" stroke="#fff" stroke-width="0.4"/>
<text x="115.50" y="448.19" font-size="5.8" text-anchor="start" fill="#333" font-family="Liberation Sans">−0.4</text>
<line x1="203.80" y1="370.40" x2="289.90" y2="370.40" stroke="#EDEDED" stroke-width="0.5"/>
<line x1="203.80" y1="380.25" x2="289.90" y2="380.25" stroke="#EDEDED" stroke-width="0.5"/>
<line x1="203.80" y1="390.10" x2="289.90" y2="390.10" stroke="#EDEDED" stroke-width="0.5"/>
<line x1="203.80" y1="399.95" x2="289.90" y2="399.95" stroke="#EDEDED" stroke-width="0.5"/>
<line x1="203.80" y1="409.80" x2="289.90" y2="409.80" stroke="#EDEDED" stroke-width="0.5"/>
<line x1="203.80" y1="419.65" x2="289.90" y2="419.65" stroke="#EDEDED" stroke-width="0.5"/>
<line x1="203.80" y1="429.50" x2="289.90" y2="429.50" stroke="#EDEDED" stroke-width="0.5"/>
<line x1="203.80" y1="439.35" x2="289.90" y2="439.35" stroke="#EDEDED" stroke-width="0.5"/>
<line x1="203.80" y1="449.20" x2="289.90" y2="449.20" stroke="#EDEDED" stroke-width="0.5"/>
<line x1="203.80" y1="459.05" x2="289.90" y2="459.05" stroke="#EDEDED" stroke-width="0.5"/>
<line x1="203.80" y1="468.90" x2="289.90" y2="468.90" stroke="#EDEDED" stroke-width="0.5"/>
<line x1="203.80" y1="478.75" x2="289.90" y2="478.75" stroke="#EDEDED" stroke-width="0.5"/>
<line x1="227.30" y1="364.10" x2="227.30" y2="484.10" stroke="#EDEDED" stroke-width="0.5"/>
<line x1="266.40" y1="364.10" x2="266.40" y2="484.10" stroke="#EDEDED" stroke-width="0.5"/>
<rect x="203.80" y="364.10" width="86.10" height="120.00" fill="none" stroke="#AAA" stroke-width="0.6"/>
<line x1="202.30" y1="370.40" x2="203.80" y2="370.40" stroke="#333" stroke-width="0.4"/>
<text transform="translate(200.90 371.70) scale(1 0.8)" font-size="4.5" text-anchor="end" fill="#222" font-family="Liberation Sans" font-weight="bold">SPIB(+)</text>
<ellipse cx="266.40" cy="370.40" rx="3.10" ry="2.20" fill="#5A9E38"/>
<ellipse cx="227.30" cy="370.40" rx="0.70" ry="0.60" fill="#A5D46A"/>
<line x1="202.30" y1="380.25" x2="203.80" y2="380.25" stroke="#333" stroke-width="0.4"/>
<text transform="translate(200.90 381.55) scale(1 0.8)" font-size="4.5" text-anchor="end" fill="#222" font-family="Liberation Sans" font-weight="bold">BCLAF1(+)</text>
<ellipse cx="266.40" cy="380.25" rx="3.10" ry="2.20" fill="#579C36"/>
<ellipse cx="227.30" cy="380.25" rx="0.70" ry="0.60" fill="#A5D46A"/>
<line x1="202.30" y1="390.10" x2="203.80" y2="390.10" stroke="#333" stroke-width="0.4"/>
<text transform="translate(200.90 391.40) scale(1 0.8)" font-size="4.5" text-anchor="end" fill="#222" font-family="Liberation Sans" font-weight="bold">TAF7(+)</text>
<ellipse cx="266.40" cy="390.10" rx="3.10" ry="2.20" fill="#579C36"/>
<ellipse cx="227.30" cy="390.10" rx="0.70" ry="0.60" fill="#A5D46A"/>
<line x1="202.30" y1="399.95" x2="203.80" y2="399.95" stroke="#333" stroke-width="0.4"/>
<text transform="translate(200.90 401.25) scale(1 0.8)" font-size="4.5" text-anchor="end" fill="#222" font-family="Liberation Sans" font-weight="bold">XBP1(+)</text>
<ellipse cx="266.40" cy="399.95" rx="3.10" ry="2.20" fill="#569B35"/>
<ellipse cx="227.30" cy="399.95" rx="0.70" ry="0.60" fill="#A5D46A"/>
<line x1="202.30" y1="409.80" x2="203.80" y2="409.80" stroke="#333" stroke-width="0.4"/>
<text transform="translate(200.90 411.10) scale(1 0.8)" font-size="4.5" text-anchor="end" fill="#222" font-family="Liberation Sans" font-weight="bold">IRF9(+)</text>
<ellipse cx="266.40" cy="409.80" rx="3.10" ry="2.20" fill="#559A34"/>
<ellipse cx="227.30" cy="409.80" rx="0.70" ry="0.60" fill="#A5D46A"/>
<line x1="202.30" y1="419.65" x2="203.80" y2="419.65" stroke="#333" stroke-width="0.4"/>
<text transform="translate(200.90 420.95) scale(1 0.8)" font-size="4.5" text-anchor="end" fill="#222" font-family="Liberation Sans" font-weight="bold">MYC(+)</text>
<ellipse cx="266.40" cy="419.65" rx="3.10" ry="2.20" fill="#559A34"/>
<ellipse cx="227.30" cy="419.65" rx="0.70" ry="0.60" fill="#A5D46A"/>
<line x1="202.30" y1="429.50" x2="203.80" y2="429.50" stroke="#333" stroke-width="0.4"/>
<text transform="translate(200.90 430.80) scale(1 0.8)" font-size="4.5" text-anchor="end" fill="#222" font-family="Liberation Sans" font-weight="bold">FOSB(+)</text>
<ellipse cx="266.40" cy="429.50" rx="3.10" ry="2.20" fill="#539932"/>
<line x1="202.30" y1="439.35" x2="203.80" y2="439.35" stroke="#333" stroke-width="0.4"/>
<text transform="translate(200.90 440.65) scale(1 0.8)" font-size="4.5" text-anchor="end" fill="#222" font-family="Liberation Sans" font-weight="bold">IRF1(+)</text>
<ellipse cx="266.40" cy="439.35" rx="3.10" ry="2.20" fill="#529831"/>
<ellipse cx="227.30" cy="439.35" rx="0.70" ry="0.60" fill="#A5D46A"/>
<line x1="202.30" y1="449.20" x2="203.80" y2="449.20" stroke="#333" stroke-width="0.4"/>
<text transform="translate(200.90 450.50) scale(1 0.8)" font-size="4.5" text-anchor="end" fill="#222" font-family="Liberation Sans" font-weight="bold">JUND(+)</text>
<ellipse cx="266.40" cy="449.20" rx="3.10" ry="2.20" fill="#4F9630"/>
<ellipse cx="227.30" cy="449.20" rx="0.70" ry="0.60" fill="#A5D46A"/>
<line x1="202.30" y1="459.05" x2="203.80" y2="459.05" stroke="#333" stroke-width="0.4"/>
<text transform="translate(200.90 460.35) scale(1 0.8)" font-size="4.5" text-anchor="end" fill="#222" font-family="Liberation Sans" font-weight="bold">JUNB(+)</text>
<ellipse cx="266.40" cy="459.05" rx="3.10" ry="2.20" fill="#4D942E"/>
<ellipse cx="227.30" cy="459.05" rx="0.70" ry="0.60" fill="#A5D46A"/>
<line x1="202.30" y1="468.90" x2="203.80" y2="468.90" stroke="#333" stroke-width="0.4"/>
<text transform="translate(200.90 470.20) scale(1 0.8)" font-size="4.5" text-anchor="end" fill="#222" font-family="Liberation Sans" font-weight="bold">KLF6(+)</text>
<ellipse cx="266.40" cy="468.90" rx="3.10" ry="2.20" fill="#498F2B"/>
<line x1="202.30" y1="478.75" x2="203.80" y2="478.75" stroke="#333" stroke-width="0.4"/>
<text transform="translate(200.90 480.05) scale(1 0.8)" font-size="4.5" text-anchor="end" fill="#222" font-family="Liberation Sans" font-weight="bold">JUN(+)</text>
<ellipse cx="266.40" cy="478.75" rx="3.30" ry="2.40" fill="#2F7A1E"/>
<line x1="227.30" y1="484.10" x2="227.30" y2="485.60" stroke="#333" stroke-width="0.4"/>
<text x="227.30" y="488.26" font-size="4.6" text-anchor="start" fill="#555" font-family="Liberation Sans" transform="rotate(90 227.30 486.60)">NP</text>
<line x1="266.40" y1="484.10" x2="266.40" y2="485.60" stroke="#333" stroke-width="0.4"/>
<text x="266.40" y="488.26" font-size="4.6" text-anchor="start" fill="#555" font-family="Liberation Sans" transform="rotate(90 266.40 486.60)">GDM</text>
<text transform="translate(299.80 389.06) scale(1 1.1)" font-size="5.2" text-anchor="start" fill="#222" font-family="Liberation Sans">Z</text>
<rect x="299.20" y="392.00" width="7.90" height="34.00" fill="url(#gZ)"/>
<text transform="translate(311.00 396.25) scale(1 1.25)" font-size="3.9" text-anchor="start" fill="#333" font-family="Liberation Sans">1.1</text>
<text transform="translate(311.00 403.36) scale(1 1.25)" font-size="3.9" text-anchor="start" fill="#333" font-family="Liberation Sans">1.0</text>
<text transform="translate(311.00 410.65) scale(1 1.25)" font-size="3.9" text-anchor="start" fill="#333" font-family="Liberation Sans">0.9</text>
<text transform="translate(311.00 418.15) scale(1 1.25)" font-size="3.9" text-anchor="start" fill="#333" font-family="Liberation Sans">0.8</text>
<text transform="translate(311.00 425.75) scale(1 1.25)" font-size="3.9" text-anchor="start" fill="#333" font-family="Liberation Sans">0.7</text>
<text transform="translate(299.60 440.06) scale(1 1.1)" font-size="5.2" text-anchor="start" fill="#222" font-family="Liberation Sans">RSS</text>
<ellipse cx="304.00" cy="445.00" rx="0.90" ry="0.70" fill="#111"/>
<text transform="translate(310.00 446.75) scale(1 1.25)" font-size="3.9" text-anchor="start" fill="#333" font-family="Liberation Sans">0.40</text>
<ellipse cx="304.00" cy="452.60" rx="1.50" ry="1.10" fill="#111"/>
<text transform="translate(310.00 454.36) scale(1 1.25)" font-size="3.9" text-anchor="start" fill="#333" font-family="Liberation Sans">0.44</text>
<ellipse cx="304.00" cy="459.60" rx="2.10" ry="1.50" fill="#111"/>
<text transform="translate(310.00 461.36) scale(1 1.25)" font-size="3.9" text-anchor="start" fill="#333" font-family="Liberation Sans">0.48</text>
<text x="314.50" y="367.60" font-size="15" font-weight="bold" font-family="Liberation Serif" fill="#000">G</text>
<path d="M370.5 491.1L337.5 382.3M370.5 491.1L337.5 398.0M370.5 491.1L337.5 445.3M370.5 491.1L369.2 382.3M370.5 491.1L369.2 398.0M370.5 491.1L369.2 429.6M370.5 491.1L369.2 461.0M370.5 491.1L401.1 382.3M370.5 491.1L401.1 398.0M370.5 491.1L401.1 413.8M370.5 491.1L401.1 429.6M370.5 491.1L401.1 445.3M370.5 491.1L401.1 461.0M370.5 491.1L433.0 382.3M370.5 491.1L433.0 429.6M370.5 491.1L433.0 461.0M370.5 491.1L464.7 382.3M370.5 491.1L464.7 398.0M370.5 491.1L464.7 413.8M370.5 491.1L464.7 445.3M370.5 491.1L464.7 461.0M401.5 491.0L337.5 413.8M401.5 491.0L337.5 445.3M401.5 491.0L337.5 461.0M401.5 491.0L369.2 382.3M401.5 491.0L369.2 413.8M401.5 491.0L369.2 461.0M401.5 491.0L401.1 382.3M401.5 491.0L401.1 398.0M401.5 491.0L401.1 413.8M401.5 491.0L401.1 429.6M401.5 491.0L401.1 445.3M401.5 491.0L401.1 461.0M401.5 491.0L433.0 382.3M401.5 491.0L433.0 398.0M401.5 491.0L433.0 413.8M401.5 491.0L433.0 429.6M401.5 491.0L433.0 461.0M401.5 491.0L464.7 382.3M401.5 491.0L464.7 398.0M401.5 491.0L464.7 413.8M401.5 491.0L464.7 429.6M401.5 491.0L464.7 461.0M433.0 492.5L337.5 382.3M433.0 492.5L337.5 413.8M433.0 492.5L337.5 445.3M433.0 492.5L337.5 461.0M433.0 492.5L369.2 382.3M433.0 492.5L369.2 398.0M433.0 492.5L369.2 413.8M433.0 492.5L369.2 445.3M433.0 492.5L401.1 413.8M433.0 492.5L401.1 429.6M433.0 492.5L401.1 445.3M433.0 492.5L433.0 382.3M433.0 492.5L433.0 398.0M433.0 492.5L433.0 445.3M433.0 492.5L464.7 382.3M433.0 492.5L464.7 398.0M433.0 492.5L464.7 413.8M433.0 492.5L464.7 445.3M337.5 382.3L401.1 461.0M337.5 382.3L369.2 429.6M337.5 398.0L433.0 429.6M337.5 398.0L369.2 445.3M337.5 398.0L369.2 429.6M337.5 413.8L464.7 398.0M337.5 429.6L433.0 413.8M337.5 429.6L433.0 461.0M337.5 445.3L433.0 445.3M337.5 445.3L369.2 429.6M337.5 445.3L401.1 429.6M337.5 461.0L433.0 461.0M369.2 382.3L337.5 413.8M369.2 382.3L433.0 398.0M369.2 382.3L401.1 461.0M369.2 398.0L464.7 461.0M369.2 398.0L401.1 382.3M369.2 398.0L337.5 398.0M369.2 413.8L433.0 461.0M369.2 413.8L433.0 398.0M369.2 429.6L464.7 413.8M369.2 445.3L401.1 413.8M369.2 445.3L433.0 413.8M369.2 445.3L401.1 398.0M369.2 461.0L337.5 445.3M369.2 461.0L337.5 398.0M369.2 461.0L464.7 461.0M401.1 382.3L433.0 413.8M401.1 382.3L337.5 398.0M401.1 382.3L464.7 398.0M401.1 398.0L369.2 445.3M401.1 398.0L464.7 413.8M401.1 413.8L369.2 382.3M401.1 413.8L337.5 445.3M401.1 413.8L433.0 461.0M401.1 429.6L433.0 382.3M401.1 429.6L337.5 445.3M401.1 429.6L433.0 413.8M401.1 445.3L464.7 445.3M401.1 445.3L464.7 398.0M401.1 461.0L337.5 429.6M401.1 461.0L337.5 461.0M433.0 382.3L369.2 461.0M433.0 382.3L337.5 445.3M433.0 382.3L337.5 398.0M433.0 398.0L464.7 429.6M433.0 398.0L401.1 398.0M433.0 398.0L369.2 429.6M433.0 413.8L337.5 445.3M433.0 413.8L401.1 413.8M433.0 413.8L464.7 461.0M433.0 429.6L464.7 429.6M433.0 429.6L337.5 461.0M433.0 445.3L401.1 445.3M433.0 445.3L401.1 413.8M433.0 445.3L401.1 429.6M433.0 461.0L369.2 445.3M464.7 382.3L401.1 429.6M464.7 382.3L369.2 413.8M464.7 382.3L369.2 429.6M464.7 398.0L401.1 429.6M464.7 398.0L401.1 382.3M464.7 413.8L337.5 445.3M464.7 413.8L337.5 429.6M464.7 413.8L401.1 382.3M464.7 429.6L401.1 461.0M464.7 429.6L337.5 461.0M464.7 445.3L433.0 413.8M464.7 445.3L401.1 429.6M464.7 461.0L369.2 445.3M464.7 461.0L337.5 461.0M370.5 491.1L401.5 491.0M401.5 491.0L433.0 492.5" stroke="#BDBDBD" stroke-width="0.35" fill="none"/>
<circle cx="337.50" cy="382.30" r="9.00" fill="#F4EDA0" stroke="#444" stroke-width="0.45"/>
<circle cx="337.50" cy="398.00" r="9.00" fill="#F4EDA0" stroke="#444" stroke-width="0.45"/>
<circle cx="337.50" cy="413.80" r="9.00" fill="#F2DC8C" stroke="#444" stroke-width="0.45"/>
<circle cx="337.50" cy="429.60" r="9.00" fill="#C81E2E" stroke="#444" stroke-width="0.45"/>
<circle cx="337.50" cy="445.30" r="9.00" fill="#EE9A50" stroke="#444" stroke-width="0.45"/>
<circle cx="337.50" cy="461.00" r="9.00" fill="#F4EDA0" stroke="#444" stroke-width="0.45"/>
<circle cx="369.20" cy="382.30" r="9.00" fill="#F0BE72" stroke="#444" stroke-width="0.45"/>
<circle cx="369.20" cy="398.00" r="9.00" fill="#EE8C45" stroke="#444" stroke-width="0.45"/>
<circle cx="369.20" cy="413.80" r="9.00" fill="#EFAA5E" stroke="#444" stroke-width="0.45"/>
<circle cx="369.20" cy="429.60" r="9.00" fill="#F2D088" stroke="#444" stroke-width="0.45"/>
<circle cx="369.20" cy="445.30" r="9.00" fill="#F3E49A" stroke="#444" stroke-width="0.45"/>
<circle cx="369.20" cy="461.00" r="9.00" fill="#EE8C45" stroke="#444" stroke-width="0.45"/>
<circle cx="401.10" cy="382.30" r="9.00" fill="#F4EDA0" stroke="#444" stroke-width="0.45"/>
<circle cx="401.10" cy="398.00" r="9.00" fill="#EE8C45" stroke="#444" stroke-width="0.45"/>
<circle cx="401.10" cy="413.80" r="9.00" fill="#EEA055" stroke="#444" stroke-width="0.45"/>
<circle cx="401.10" cy="429.60" r="9.00" fill="#F4EDA0" stroke="#444" stroke-width="0.45"/>
<circle cx="401.10" cy="445.30" r="9.00" fill="#EE8C45" stroke="#444" stroke-width="0.45"/>
<circle cx="401.10" cy="461.00" r="9.00" fill="#EE8C45" stroke="#444" stroke-width="0.45"/>
<circle cx="433.00" cy="382.30" r="9.00" fill="#F1CE80" stroke="#444" stroke-width="0.45"/>
<circle cx="433.00" cy="398.00" r="9.00" fill="#F4EDA0" stroke="#444" stroke-width="0.45"/>
<circle cx="433.00" cy="413.80" r="9.00" fill="#F0BE72" stroke="#444" stroke-width="0.45"/>
<circle cx="433.00" cy="429.60" r="9.00" fill="#EEA055" stroke="#444" stroke-width="0.45"/>
<circle cx="433.00" cy="445.30" r="9.00" fill="#E35E2E" stroke="#444" stroke-width="0.45"/>
<circle cx="433.00" cy="461.00" r="9.00" fill="#F4EDA0" stroke="#444" stroke-width="0.45"/>
<circle cx="464.70" cy="382.30" r="9.00" fill="#EE8C45" stroke="#444" stroke-width="0.45"/>
<circle cx="464.70" cy="398.00" r="9.00" fill="#F4EDA0" stroke="#444" stroke-width="0.45"/>
<circle cx="464.70" cy="413.80" r="9.00" fill="#F4EDA0" stroke="#444" stroke-width="0.45"/>
<circle cx="464.70" cy="429.60" r="9.00" fill="#E35E2E" stroke="#444" stroke-width="0.45"/>
<circle cx="464.70" cy="445.30" r="9.00" fill="#EEA055" stroke="#444" stroke-width="0.45"/>
<circle cx="464.70" cy="461.00" r="9.00" fill="#F1C678" stroke="#444" stroke-width="0.45"/>
<circle cx="370.50" cy="491.10" r="9.00" fill="#FAF8D2" stroke="#444" stroke-width="0.45"/>
<circle cx="401.50" cy="491.00" r="9.00" fill="#C81E2E" stroke="#444" stroke-width="0.45"/>
<circle cx="433.00" cy="492.50" r="9.00" fill="#EE8C45" stroke="#444" stroke-width="0.45"/>
<g font-family="Liberation Sans" font-size="4.2" fill="#111" text-anchor="middle"><text transform="translate(337.5 384.2) scale(1 1.25)">CDKN2D</text><text transform="translate(337.5 399.9) scale(1 1.25)">RHOT2</text><text transform="translate(337.5 415.7) scale(1 1.25)">HNRNPDL</text><text transform="translate(337.5 431.5) scale(1 1.25)">NFKBIA</text><text transform="translate(337.5 447.2) scale(1 1.25)">CD69</text><text transform="translate(337.5 462.9) scale(1 1.25)">IDI1</text><text transform="translate(369.2 384.2) scale(1 1.25)">DDIT4</text><text transform="translate(369.2 399.9) scale(1 1.25)">KLF6</text><text transform="translate(369.2 415.7) scale(1 1.25)">TSC22D3</text><text transform="translate(369.2 431.5) scale(1 1.25)">TXNIP</text><text transform="translate(369.2 447.2) scale(1 1.25)">VAMP2</text><text transform="translate(369.2 462.9) scale(1 1.25)">ZFP36</text><text transform="translate(401.1 384.2) scale(1 1.25)">EXOSC8</text><text transform="translate(401.1 399.9) scale(1 1.25)">H3-3B</text><text transform="translate(401.1 415.7) scale(1 1.25)">CCL5</text><text transform="translate(401.1 431.5) scale(1 1.25)">ARL4A</text><text transform="translate(401.1 447.2) scale(1 1.25)">DUSP1</text><text transform="translate(401.1 462.9) scale(1 1.25)">REL</text><text transform="translate(433.0 384.2) scale(1 1.25)">CIRBP</text><text transform="translate(433.0 399.9) scale(1 1.25)">RNF126</text><text transform="translate(433.0 415.7) scale(1 1.25)">CD83</text><text transform="translate(433.0 431.5) scale(1 1.25)">CXCR4</text><text transform="translate(433.0 447.2) scale(1 1.25)">TNFAIP3</text><text transform="translate(433.0 462.9) scale(1 1.25)">PHF1</text><text transform="translate(464.7 384.2) scale(1 1.25)">JUND</text><text transform="translate(464.7 399.9) scale(1 1.25)">ZFP36L2</text><text transform="translate(464.7 415.7) scale(1 1.25)">RPS26</text><text transform="translate(464.7 431.5) scale(1 1.25)">UBC</text><text transform="translate(464.7 447.2) scale(1 1.25)">PPP1R15A</text><text transform="translate(464.7 462.9) scale(1 1.25)">PELI1</text><text transform="translate(370.5 493.0) scale(1 1.25)">JUN</text><text transform="translate(401.5 492.9) scale(1 1.25)">FOS</text><text transform="translate(433.0 494.4) scale(1 1.25)">JUNB</text></g>
<text x="471.40" y="372.70" font-size="15" font-weight="bold" font-family="Liberation Serif" fill="#000">H</text>
<line x1="537.90" y1="361.60" x2="537.90" y2="489.70" stroke="#F2F2F2" stroke-width="0.45"/>
<line x1="559.10" y1="361.60" x2="559.10" y2="489.70" stroke="#F2F2F2" stroke-width="0.45"/>
<line x1="580.40" y1="361.60" x2="580.40" y2="489.70" stroke="#F2F2F2" stroke-width="0.45"/>
<line x1="601.70" y1="361.60" x2="601.70" y2="489.70" stroke="#F2F2F2" stroke-width="0.45"/>
<line x1="623.00" y1="361.60" x2="623.00" y2="489.70" stroke="#F2F2F2" stroke-width="0.45"/>
<line x1="644.30" y1="361.60" x2="644.30" y2="489.70" stroke="#F2F2F2" stroke-width="0.45"/>
<line x1="548.50" y1="361.60" x2="548.50" y2="489.70" stroke="#E8E8E8" stroke-width="0.55"/>
<line x1="569.80" y1="361.60" x2="569.80" y2="489.70" stroke="#E8E8E8" stroke-width="0.55"/>
<line x1="591.00" y1="361.60" x2="591.00" y2="489.70" stroke="#E8E8E8" stroke-width="0.55"/>
<line x1="612.30" y1="361.60" x2="612.30" y2="489.70" stroke="#E8E8E8" stroke-width="0.55"/>
<line x1="633.70" y1="361.60" x2="633.70" y2="489.70" stroke="#E8E8E8" stroke-width="0.55"/>
<line x1="654.90" y1="361.60" x2="654.90" y2="489.70" stroke="#E8E8E8" stroke-width="0.55"/>
<line x1="532.40" y1="368.80" x2="655.60" y2="368.80" stroke="#E8E8E8" stroke-width="0.55"/>
<line x1="532.40" y1="381.40" x2="655.60" y2="381.40" stroke="#E8E8E8" stroke-width="0.55"/>
<line x1="532.40" y1="394.10" x2="655.60" y2="394.10" stroke="#E8E8E8" stroke-width="0.55"/>
<line x1="532.40" y1="406.80" x2="655.60" y2="406.80" stroke="#E8E8E8" stroke-width="0.55"/>
<line x1="532.40" y1="419.50" x2="655.60" y2="419.50" stroke="#E8E8E8" stroke-width="0.55"/>
<line x1="532.40" y1="432.10" x2="655.60" y2="432.10" stroke="#E8E8E8" stroke-width="0.55"/>
<line x1="532.40" y1="444.80" x2="655.60" y2="444.80" stroke="#E8E8E8" stroke-width="0.55"/>
<line x1="532.40" y1="457.50" x2="655.60" y2="457.50" stroke="#E8E8E8" stroke-width="0.55"/>
<line x1="532.40" y1="470.10" x2="655.60" y2="470.10" stroke="#E8E8E8" stroke-width="0.55"/>
<line x1="532.40" y1="482.30" x2="655.60" y2="482.30" stroke="#E8E8E8" stroke-width="0.55"/>
<rect x="532.40" y="361.60" width="123.20" height="128.10" fill="none" stroke="#888" stroke-width="0.55"/>
<line x1="530.90" y1="368.80" x2="532.40" y2="368.80" stroke="#333" stroke-width="0.4"/>
<text transform="translate(530.80 370.74) scale(1 1.3)" font-size="4.15" text-anchor="end" fill="#F0302A" font-family="Liberation Sans">TNF signaling pathway</text>
<line x1="530.90" y1="381.40" x2="532.40" y2="381.40" stroke="#333" stroke-width="0.4"/>
<text transform="translate(530.80 381.14) scale(1 1.3)" font-size="4.15" text-anchor="end" fill="#111" font-family="Liberation Sans">Kaposi sarcoma−associated</text>
<text transform="translate(530.80 385.54) scale(1 1.3)" font-size="4.15" text-anchor="end" fill="#111" font-family="Liberation Sans">herpesvirus infection</text>
<line x1="530.90" y1="394.10" x2="532.40" y2="394.10" stroke="#333" stroke-width="0.4"/>
<text transform="translate(530.80 396.04) scale(1 1.3)" font-size="4.15" text-anchor="end" fill="#111" font-family="Liberation Sans">Shigellosis</text>
<line x1="530.90" y1="406.80" x2="532.40" y2="406.80" stroke="#333" stroke-width="0.4"/>
<text transform="translate(530.80 408.74) scale(1 1.3)" font-size="4.15" text-anchor="end" fill="#111" font-family="Liberation Sans">Salmonella infection</text>
<line x1="530.90" y1="419.50" x2="532.40" y2="419.50" stroke="#333" stroke-width="0.4"/>
<text transform="translate(530.80 421.44) scale(1 1.3)" font-size="4.15" text-anchor="end" fill="#F0302A" font-family="Liberation Sans">IL−17 signaling pathway</text>
<line x1="530.90" y1="432.10" x2="532.40" y2="432.10" stroke="#333" stroke-width="0.4"/>
<text transform="translate(530.80 434.04) scale(1 1.3)" font-size="4.15" text-anchor="end" fill="#111" font-family="Liberation Sans">Measles</text>
<line x1="530.90" y1="444.80" x2="532.40" y2="444.80" stroke="#333" stroke-width="0.4"/>
<text transform="translate(530.80 446.74) scale(1 1.3)" font-size="4.15" text-anchor="end" fill="#111" font-family="Liberation Sans">Osteoclast differentiation</text>
<line x1="530.90" y1="457.50" x2="532.40" y2="457.50" stroke="#333" stroke-width="0.4"/>
<text transform="translate(532.20 457.24) scale(1 1.3)" font-size="4.15" text-anchor="end" fill="#F0302A" font-family="Liberation Sans">NOD−like receptor signaling</text>
<text transform="translate(532.20 461.64) scale(1 1.3)" font-size="4.15" text-anchor="end" fill="#F0302A" font-family="Liberation Sans">pathway</text>
<line x1="530.90" y1="470.10" x2="532.40" y2="470.10" stroke="#333" stroke-width="0.4"/>
<text transform="translate(530.80 472.04) scale(1 1.3)" font-size="4.15" text-anchor="end" fill="#111" font-family="Liberation Sans">Chagas disease</text>
<line x1="530.90" y1="482.30" x2="532.40" y2="482.30" stroke="#333" stroke-width="0.4"/>
<text transform="translate(532.20 482.04) scale(1 1.3)" font-size="4.15" text-anchor="end" fill="#F0302A" font-family="Liberation Sans">Toll−like receptor signaling</text>
<text transform="translate(532.20 486.44) scale(1 1.3)" font-size="4.15" text-anchor="end" fill="#F0302A" font-family="Liberation Sans">pathway</text>
<line x1="548.50" y1="489.70" x2="548.50" y2="491.10" stroke="#333" stroke-width="0.4"/>
<text transform="translate(548.50 495.20) scale(1 1.25)" font-size="4.0" text-anchor="middle" fill="#333" font-family="Liberation Sans">0.11</text>
<line x1="569.80" y1="489.70" x2="569.80" y2="491.10" stroke="#333" stroke-width="0.4"/>
<text transform="translate(569.80 495.20) scale(1 1.25)" font-size="4.0" text-anchor="middle" fill="#333" font-family="Liberation Sans">0.12</text>
<line x1="591.00" y1="489.70" x2="591.00" y2="491.10" stroke="#333" stroke-width="0.4"/>
<text transform="translate(591.00 495.20) scale(1 1.25)" font-size="4.0" text-anchor="middle" fill="#333" font-family="Liberation Sans">0.13</text>
<line x1="612.30" y1="489.70" x2="612.30" y2="491.10" stroke="#333" stroke-width="0.4"/>
<text transform="translate(612.30 495.20) scale(1 1.25)" font-size="4.0" text-anchor="middle" fill="#333" font-family="Liberation Sans">0.14</text>
<line x1="633.70" y1="489.70" x2="633.70" y2="491.10" stroke="#333" stroke-width="0.4"/>
<text transform="translate(633.70 495.20) scale(1 1.25)" font-size="4.0" text-anchor="middle" fill="#333" font-family="Liberation Sans">0.15</text>
<line x1="654.90" y1="489.70" x2="654.90" y2="491.10" stroke="#333" stroke-width="0.4"/>
<text transform="translate(654.90 495.20) scale(1 1.25)" font-size="4.0" text-anchor="middle" fill="#333" font-family="Liberation Sans">0.16</text>
<text transform="translate(593.90 500.10) scale(1 1.2)" font-size="4.4" text-anchor="middle" fill="#222" font-family="Liberation Sans">GeneRatio</text>
<circle cx="650.00" cy="368.80" r="3.20" fill="#DB5761" stroke="#333" stroke-width="0.4"/>
<circle cx="650.00" cy="381.50" r="3.20" fill="#A8677F" stroke="#333" stroke-width="0.4"/>
<circle cx="650.00" cy="394.20" r="3.20" fill="#6D6CA8" stroke="#333" stroke-width="0.4"/>
<circle cx="650.00" cy="406.80" r="3.20" fill="#6A6DAA" stroke="#333" stroke-width="0.4"/>
<circle cx="594.10" cy="419.50" r="2.80" fill="#D75A68" stroke="#333" stroke-width="0.4"/>
<circle cx="594.10" cy="432.00" r="2.80" fill="#956791" stroke="#333" stroke-width="0.4"/>
<circle cx="594.10" cy="444.80" r="2.80" fill="#926892" stroke="#333" stroke-width="0.4"/>
<circle cx="594.10" cy="457.00" r="2.80" fill="#3C78B6" stroke="#333" stroke-width="0.4"/>
<circle cx="538.30" cy="470.00" r="1.30" fill="#3F76B2" stroke="#333" stroke-width="0.4"/>
<circle cx="538.30" cy="482.30" r="1.30" fill="#3F76B2" stroke="#333" stroke-width="0.4"/>
<defs><linearGradient id="gH" x1="0" y1="0" x2="0" y2="1"><stop offset="0" stop-color="#DF555F"/><stop offset="0.5" stop-color="#8E6A96"/><stop offset="1" stop-color="#4A82C2"/></linearGradient></defs>
<text transform="translate(661.00 388.83) scale(1 1.3)" font-size="3.9" text-anchor="start" fill="#222" font-family="Liberation Sans">p.adjust</text>
<rect x="661.40" y="390.60" width="5.60" height="29.20" fill="url(#gH)"/>
<text transform="translate(669.20 396.81) scale(1 1.4)" font-size="3.0" text-anchor="start" fill="#333" font-family="Liberation Sans">0.004</text>
<text transform="translate(669.20 404.21) scale(1 1.4)" font-size="3.0" text-anchor="start" fill="#333" font-family="Liberation Sans">0.008</text>
<text transform="translate(669.20 411.81) scale(1 1.4)" font-size="3.0" text-anchor="start" fill="#333" font-family="Liberation Sans">0.012</text>
<text transform="translate(669.20 419.21) scale(1 1.4)" font-size="3.0" text-anchor="start" fill="#333" font-family="Liberation Sans">0.016</text>
<text transform="translate(661.00 431.63) scale(1 1.3)" font-size="3.9" text-anchor="start" fill="#222" font-family="Liberation Sans">Count</text>
<circle cx="665.20" cy="436.20" r="1.20" fill="none" stroke="#333" stroke-width="0.4"/>
<text transform="translate(670.80 437.71) scale(1 1.4)" font-size="3.0" text-anchor="start" fill="#333" font-family="Liberation Sans">4.0</text>
<circle cx="665.20" cy="442.00" r="2.00" fill="none" stroke="#333" stroke-width="0.4"/>
<text transform="translate(670.80 443.51) scale(1 1.4)" font-size="3.0" text-anchor="start" fill="#333" font-family="Liberation Sans">4.5</text>
<circle cx="665.20" cy="448.20" r="2.60" fill="none" stroke="#333" stroke-width="0.4"/>
<text transform="translate(670.80 449.71) scale(1 1.4)" font-size="3.0" text-anchor="start" fill="#333" font-family="Liberation Sans">5.0</text>
<circle cx="665.20" cy="455.20" r="3.00" fill="none" stroke="#333" stroke-width="0.4"/>
<text transform="translate(670.80 456.71) scale(1 1.4)" font-size="3.0" text-anchor="start" fill="#333" font-family="Liberation Sans">5.5</text>
<circle cx="665.20" cy="462.70" r="3.50" fill="none" stroke="#333" stroke-width="0.4"/>
<text transform="translate(670.80 464.21) scale(1 1.4)" font-size="3.0" text-anchor="start" fill="#333" font-family="Liberation Sans">6.0</text>
</svg></body></html>
